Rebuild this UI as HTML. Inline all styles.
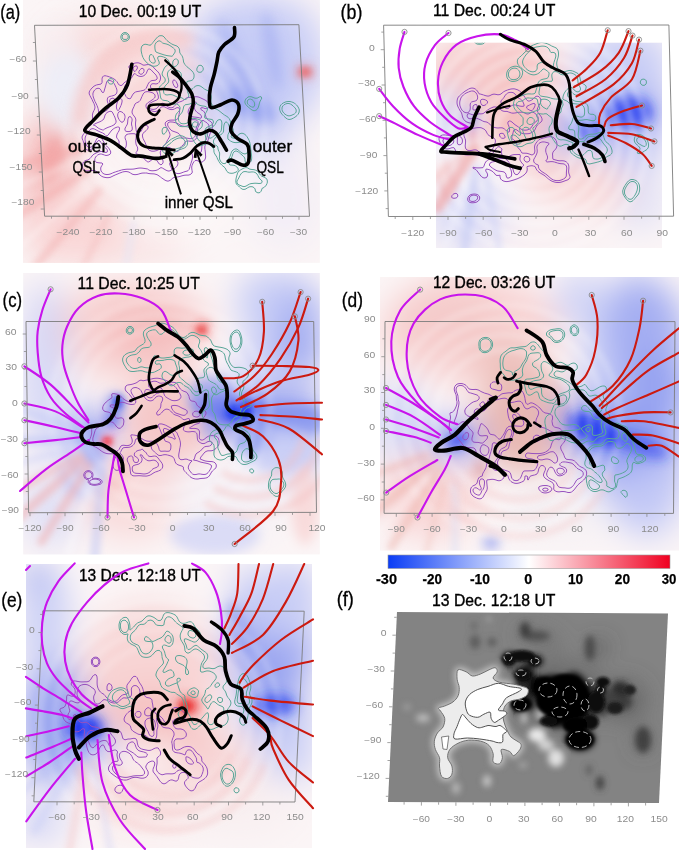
<!DOCTYPE html>
<html><head><meta charset="utf-8"><style>html,body{margin:0;padding:0;background:#fff;width:679px;height:850px;overflow:hidden}svg{display:block}</style></head>
<body><svg width="679" height="850" viewBox="0 0 679 850">
<defs>
<filter id="b6" x="-50%" y="-50%" width="200%" height="200%"><feGaussianBlur stdDeviation="6"/></filter>
<filter id="b10" x="-50%" y="-50%" width="200%" height="200%"><feGaussianBlur stdDeviation="10"/></filter>
<filter id="b16" x="-50%" y="-50%" width="200%" height="200%"><feGaussianBlur stdDeviation="16"/></filter>
<filter id="b3" x="-50%" y="-50%" width="200%" height="200%"><feGaussianBlur stdDeviation="3"/></filter>
<filter id="b15" x="-50%" y="-50%" width="200%" height="200%"><feGaussianBlur stdDeviation="1.5"/></filter>
<clipPath id="cA"><rect x="23" y="0" width="296.8" height="262.8"/></clipPath>
<clipPath id="cB"><rect x="436" y="42.7" width="226" height="205.3"/></clipPath>
<clipPath id="cC"><rect x="23.2" y="273" width="296.6" height="281.4"/></clipPath>
<clipPath id="cD"><rect x="380" y="277.1" width="299" height="273.4"/></clipPath>
<clipPath id="cE"><rect x="26" y="564" width="286" height="284"/></clipPath>
<clipPath id="cF"><path d="M397,612 L668,613.5 L659,803 L388,802Z"/></clipPath>
<linearGradient id="cb" x1="0" x2="1" y1="0" y2="0">
<stop offset="0" stop-color="#0a3cf5"/><stop offset="0.5" stop-color="#ffffff"/><stop offset="1" stop-color="#f00020"/>
</linearGradient>
</defs>
<rect x="23" y="0" width="296.8" height="262.8" fill="#fbf5f6"/>
<rect x="436" y="42.7" width="226" height="205.3" fill="#fbf5f6"/>
<rect x="23.2" y="273" width="296.6" height="281.4" fill="#fbf5f6"/>
<rect x="380" y="277.1" width="299" height="273.4" fill="#fbf5f6"/>
<rect x="26" y="564" width="286" height="284" fill="#fbf5f6"/>
<path d="M397,612 L668,613.5 L659,803 L388,802Z" fill="#838383"/>
<g clip-path="url(#cA)"><g filter="url(#b16)">
<ellipse cx="120.0" cy="60.0" rx="70.0" ry="45.0" fill="#f8d4d4" fill-opacity="0.80" transform="rotate(0.0 120.0 60.0)"/>
<ellipse cx="48.0" cy="160.0" rx="28.0" ry="55.0" fill="#f4b4b4" fill-opacity="0.90" transform="rotate(15.0 48.0 160.0)"/>
<ellipse cx="70.0" cy="225.0" rx="55.0" ry="40.0" fill="#f8d4d4" fill-opacity="0.90" transform="rotate(0.0 70.0 225.0)"/>
<ellipse cx="160.0" cy="115.0" rx="45.0" ry="45.0" fill="#f8d4d4" fill-opacity="0.60" transform="rotate(0.0 160.0 115.0)"/>
<ellipse cx="255.0" cy="65.0" rx="70.0" ry="70.0" fill="#c8cdf6" fill-opacity="1.00" transform="rotate(0.0 255.0 65.0)"/>
<ellipse cx="250.0" cy="130.0" rx="45.0" ry="30.0" fill="#c8cdf6" fill-opacity="0.70" transform="rotate(0.0 250.0 130.0)"/>
<ellipse cx="285.0" cy="40.0" rx="35.0" ry="40.0" fill="#c8cdf6" fill-opacity="0.80" transform="rotate(0.0 285.0 40.0)"/>
<ellipse cx="215.0" cy="35.0" rx="25.0" ry="30.0" fill="#c8cdf6" fill-opacity="0.70" transform="rotate(0.0 215.0 35.0)"/>
<ellipse cx="240.0" cy="90.0" rx="30.0" ry="25.0" fill="#a8b2f2" fill-opacity="0.60" transform="rotate(0.0 240.0 90.0)"/>
<ellipse cx="190.0" cy="205.0" rx="45.0" ry="35.0" fill="#fdf8f8" fill-opacity="0.80" transform="rotate(0.0 190.0 205.0)"/>
<ellipse cx="120.0" cy="250.0" rx="70.0" ry="15.0" fill="#f8d4d4" fill-opacity="0.60" transform="rotate(0.0 120.0 250.0)"/>
<ellipse cx="285.0" cy="200.0" rx="35.0" ry="50.0" fill="#eeeaf6" fill-opacity="0.60" transform="rotate(0.0 285.0 200.0)"/>
</g></g>
<g clip-path="url(#cA)"><g filter="url(#b6)">
<ellipse cx="250.0" cy="105.0" rx="28.0" ry="12.0" fill="#8c9af0" fill-opacity="0.80" transform="rotate(30.0 250.0 105.0)"/>
<ellipse cx="235.0" cy="60.0" rx="7.0" ry="45.0" fill="#8c9af0" fill-opacity="0.40" transform="rotate(-20.0 235.0 60.0)"/>
<ellipse cx="272.0" cy="50.0" rx="7.0" ry="40.0" fill="#8c9af0" fill-opacity="0.40" transform="rotate(-10.0 272.0 50.0)"/>
<ellipse cx="305.0" cy="72.0" rx="8.0" ry="6.0" fill="#ee7070" fill-opacity="0.90" transform="rotate(0.0 305.0 72.0)"/>
<ellipse cx="52.0" cy="158.0" rx="10.0" ry="25.0" fill="#f29a9a" fill-opacity="0.60" transform="rotate(15.0 52.0 158.0)"/>
</g></g>
<g clip-path="url(#cB)"><g filter="url(#b16)">
<ellipse cx="495.0" cy="75.0" rx="70.0" ry="40.0" fill="#f4b4b4" fill-opacity="0.70" transform="rotate(0.0 495.0 75.0)"/>
<ellipse cx="520.0" cy="55.0" rx="30.0" ry="15.0" fill="#f4b4b4" fill-opacity="0.50" transform="rotate(0.0 520.0 55.0)"/>
<ellipse cx="515.0" cy="125.0" rx="40.0" ry="28.0" fill="#f4b4b4" fill-opacity="0.80" transform="rotate(0.0 515.0 125.0)"/>
<ellipse cx="625.0" cy="100.0" rx="40.0" ry="65.0" fill="#8c9af0" fill-opacity="0.95" transform="rotate(0.0 625.0 100.0)"/>
<ellipse cx="600.0" cy="70.0" rx="30.0" ry="30.0" fill="#c8cdf6" fill-opacity="0.80" transform="rotate(0.0 600.0 70.0)"/>
<ellipse cx="630.0" cy="65.0" rx="40.0" ry="35.0" fill="#c8cdf6" fill-opacity="1.00" transform="rotate(0.0 630.0 65.0)"/>
<ellipse cx="630.0" cy="150.0" rx="35.0" ry="25.0" fill="#c8cdf6" fill-opacity="0.80" transform="rotate(0.0 630.0 150.0)"/>
<ellipse cx="640.0" cy="200.0" rx="25.0" ry="30.0" fill="#c8cdf6" fill-opacity="0.50" transform="rotate(0.0 640.0 200.0)"/>
<ellipse cx="570.0" cy="130.0" rx="22.0" ry="22.0" fill="#8c9af0" fill-opacity="0.80" transform="rotate(0.0 570.0 130.0)"/>
<ellipse cx="450.0" cy="120.0" rx="18.0" ry="30.0" fill="#c8cdf6" fill-opacity="0.90" transform="rotate(0.0 450.0 120.0)"/>
<ellipse cx="470.0" cy="215.0" rx="40.0" ry="35.0" fill="#c8cdf6" fill-opacity="0.70" transform="rotate(0.0 470.0 215.0)"/>
<ellipse cx="595.0" cy="185.0" rx="35.0" ry="28.0" fill="#f8d4d4" fill-opacity="0.90" transform="rotate(0.0 595.0 185.0)"/>
<ellipse cx="565.0" cy="180.0" rx="40.0" ry="22.0" fill="#f8d4d4" fill-opacity="0.90" transform="rotate(0.0 565.0 180.0)"/>
<ellipse cx="545.0" cy="170.0" rx="20.0" ry="12.0" fill="#f4b4b4" fill-opacity="0.50" transform="rotate(0.0 545.0 170.0)"/>
<ellipse cx="540.0" cy="235.0" rx="60.0" ry="20.0" fill="#f6eaee" fill-opacity="0.60" transform="rotate(0.0 540.0 235.0)"/>
</g></g>
<g clip-path="url(#cB)"><g filter="url(#b6)">
<ellipse cx="630.0" cy="112.0" rx="22.0" ry="16.0" fill="#2038f0" fill-opacity="0.80" transform="rotate(0.0 630.0 112.0)"/>
<ellipse cx="590.0" cy="132.0" rx="14.0" ry="10.0" fill="#2038f0" fill-opacity="0.60" transform="rotate(0.0 590.0 132.0)"/>
<ellipse cx="472.0" cy="120.0" rx="7.0" ry="10.0" fill="#8c9af0" fill-opacity="0.70" transform="rotate(0.0 472.0 120.0)"/>
<ellipse cx="472.0" cy="135.0" rx="5.0" ry="5.0" fill="#f07070" fill-opacity="0.80" transform="rotate(0.0 472.0 135.0)"/>
<ellipse cx="445.0" cy="180.0" rx="7.0" ry="20.0" fill="#f4b4b4" fill-opacity="0.60" transform="rotate(0.0 445.0 180.0)"/>
</g></g>
<g clip-path="url(#cC)"><g filter="url(#b16)">
<ellipse cx="130.0" cy="330.0" rx="80.0" ry="50.0" fill="#f8d4d4" fill-opacity="1.00" transform="rotate(0.0 130.0 330.0)"/>
<ellipse cx="150.0" cy="330.0" rx="50.0" ry="30.0" fill="#f4b4b4" fill-opacity="0.70" transform="rotate(0.0 150.0 330.0)"/>
<ellipse cx="170.0" cy="420.0" rx="50.0" ry="45.0" fill="#f4c4c4" fill-opacity="0.95" transform="rotate(0.0 170.0 420.0)"/>
<ellipse cx="45.0" cy="370.0" rx="25.0" ry="90.0" fill="#c8cdf6" fill-opacity="0.70" transform="rotate(0.0 45.0 370.0)"/>
<ellipse cx="90.0" cy="430.0" rx="25.0" ry="20.0" fill="#8c9af0" fill-opacity="0.90" transform="rotate(0.0 90.0 430.0)"/>
<ellipse cx="285.0" cy="320.0" rx="40.0" ry="50.0" fill="#c8cdf6" fill-opacity="1.00" transform="rotate(0.0 285.0 320.0)"/>
<ellipse cx="300.0" cy="360.0" rx="25.0" ry="25.0" fill="#8c9af0" fill-opacity="0.50" transform="rotate(0.0 300.0 360.0)"/>
<ellipse cx="265.0" cy="300.0" rx="30.0" ry="30.0" fill="#c8cdf6" fill-opacity="0.90" transform="rotate(0.0 265.0 300.0)"/>
<ellipse cx="300.0" cy="330.0" rx="20.0" ry="40.0" fill="#8c9af0" fill-opacity="0.60" transform="rotate(0.0 300.0 330.0)"/>
<ellipse cx="250.0" cy="370.0" rx="20.0" ry="20.0" fill="#c8cdf6" fill-opacity="0.80" transform="rotate(0.0 250.0 370.0)"/>
<ellipse cx="270.0" cy="412.0" rx="55.0" ry="25.0" fill="#8c9af0" fill-opacity="0.95" transform="rotate(0.0 270.0 412.0)"/>
<ellipse cx="295.0" cy="450.0" rx="30.0" ry="35.0" fill="#c8cdf6" fill-opacity="0.80" transform="rotate(0.0 295.0 450.0)"/>
<ellipse cx="130.0" cy="500.0" rx="50.0" ry="40.0" fill="#f8d4d4" fill-opacity="0.80" transform="rotate(0.0 130.0 500.0)"/>
<ellipse cx="230.0" cy="500.0" rx="60.0" ry="40.0" fill="#f2eef6" fill-opacity="0.60" transform="rotate(0.0 230.0 500.0)"/>
<ellipse cx="50.0" cy="510.0" rx="30.0" ry="40.0" fill="#c8cdf6" fill-opacity="0.50" transform="rotate(0.0 50.0 510.0)"/>
</g></g>
<g clip-path="url(#cC)"><g filter="url(#b6)">
<ellipse cx="240.0" cy="412.0" rx="28.0" ry="12.0" fill="#2038f0" fill-opacity="0.95" transform="rotate(-5.0 240.0 412.0)"/>
<ellipse cx="290.0" cy="412.0" rx="30.0" ry="8.0" fill="#2038f0" fill-opacity="0.60" transform="rotate(0.0 290.0 412.0)"/>
<ellipse cx="222.0" cy="408.0" rx="30.0" ry="13.0" fill="#2038f0" fill-opacity="0.70" transform="rotate(0.0 222.0 408.0)"/>
<ellipse cx="212.0" cy="398.0" rx="25.0" ry="22.0" fill="#8c9af0" fill-opacity="0.70" transform="rotate(0.0 212.0 398.0)"/>
<ellipse cx="285.0" cy="422.0" rx="40.0" ry="18.0" fill="#8c9af0" fill-opacity="0.90" transform="rotate(0.0 285.0 422.0)"/>
<ellipse cx="280.0" cy="450.0" rx="40.0" ry="22.0" fill="#c8cdf6" fill-opacity="0.80" transform="rotate(0.0 280.0 450.0)"/>
<ellipse cx="305.0" cy="505.0" rx="14.0" ry="40.0" fill="#f8d4d4" fill-opacity="0.80" transform="rotate(0.0 305.0 505.0)"/>
<ellipse cx="215.0" cy="535.0" rx="45.0" ry="20.0" fill="#c8cdf6" fill-opacity="0.60" transform="rotate(0.0 215.0 535.0)"/>
<ellipse cx="250.0" cy="440.0" rx="20.0" ry="15.0" fill="#8c9af0" fill-opacity="0.70" transform="rotate(0.0 250.0 440.0)"/>
<ellipse cx="80.0" cy="470.0" rx="22.0" ry="30.0" fill="#c8cdf6" fill-opacity="0.80" transform="rotate(0.0 80.0 470.0)"/>
<ellipse cx="95.0" cy="455.0" rx="12.0" ry="10.0" fill="#8c9af0" fill-opacity="0.60" transform="rotate(0.0 95.0 455.0)"/>
<ellipse cx="115.0" cy="405.0" rx="10.0" ry="12.0" fill="#8c9af0" fill-opacity="0.80" transform="rotate(0.0 115.0 405.0)"/>
<ellipse cx="112.0" cy="420.0" rx="8.0" ry="6.0" fill="#2038f0" fill-opacity="0.80" transform="rotate(0.0 112.0 420.0)"/>
<ellipse cx="88.0" cy="435.0" rx="12.0" ry="10.0" fill="#8c9af0" fill-opacity="0.80" transform="rotate(0.0 88.0 435.0)"/>
<ellipse cx="107.0" cy="441.6" rx="4.0" ry="4.0" fill="#ff1010" fill-opacity="1.00" transform="rotate(0.0 107.0 441.6)"/>
<ellipse cx="202.0" cy="329.0" rx="6.0" ry="5.0" fill="#f03030" fill-opacity="0.95" transform="rotate(0.0 202.0 329.0)"/>
<ellipse cx="202.0" cy="329.0" rx="3.0" ry="3.0" fill="#e01010" fill-opacity="1.00" transform="rotate(0.0 202.0 329.0)"/>
<ellipse cx="120.0" cy="470.0" rx="10.0" ry="30.0" fill="#f4b4b4" fill-opacity="0.50" transform="rotate(30.0 120.0 470.0)"/>
<ellipse cx="215.0" cy="430.0" rx="15.0" ry="10.0" fill="#8c9af0" fill-opacity="0.60" transform="rotate(0.0 215.0 430.0)"/>
</g></g>
<g clip-path="url(#cD)"><g filter="url(#b16)">
<ellipse cx="470.0" cy="330.0" rx="90.0" ry="55.0" fill="#f8d4d4" fill-opacity="1.00" transform="rotate(0.0 470.0 330.0)"/>
<ellipse cx="450.0" cy="320.0" rx="50.0" ry="35.0" fill="#f4c8c6" fill-opacity="0.70" transform="rotate(0.0 450.0 320.0)"/>
<ellipse cx="525.0" cy="420.0" rx="48.0" ry="55.0" fill="#e8b8b2" fill-opacity="1.00" transform="rotate(0.0 525.0 420.0)"/>
<ellipse cx="505.0" cy="360.0" rx="30.0" ry="20.0" fill="#ecc0ba" fill-opacity="0.90" transform="rotate(0.0 505.0 360.0)"/>
<ellipse cx="410.0" cy="485.0" rx="25.0" ry="40.0" fill="#f4b4b4" fill-opacity="0.50" transform="rotate(20.0 410.0 485.0)"/>
<ellipse cx="400.0" cy="420.0" rx="22.0" ry="40.0" fill="#c8cdf6" fill-opacity="0.90" transform="rotate(0.0 400.0 420.0)"/>
<ellipse cx="455.0" cy="440.0" rx="30.0" ry="20.0" fill="#8c9af0" fill-opacity="0.90" transform="rotate(0.0 455.0 440.0)"/>
<ellipse cx="635.0" cy="400.0" rx="55.0" ry="130.0" fill="#c8cdf6" fill-opacity="1.00" transform="rotate(0.0 635.0 400.0)"/>
<ellipse cx="645.0" cy="330.0" rx="40.0" ry="50.0" fill="#8c9af0" fill-opacity="0.60" transform="rotate(0.0 645.0 330.0)"/>
<ellipse cx="655.0" cy="390.0" rx="35.0" ry="35.0" fill="#8c9af0" fill-opacity="0.80" transform="rotate(0.0 655.0 390.0)"/>
<ellipse cx="645.0" cy="485.0" rx="40.0" ry="35.0" fill="#8c9af0" fill-opacity="0.60" transform="rotate(0.0 645.0 485.0)"/>
<ellipse cx="580.0" cy="300.0" rx="25.0" ry="30.0" fill="#c8cdf6" fill-opacity="0.80" transform="rotate(0.0 580.0 300.0)"/>
<ellipse cx="610.0" cy="435.0" rx="60.0" ry="30.0" fill="#8c9af0" fill-opacity="0.90" transform="rotate(20.0 610.0 435.0)"/>
<ellipse cx="620.0" cy="440.0" rx="55.0" ry="28.0" fill="#8c9af0" fill-opacity="0.95" transform="rotate(0.0 620.0 440.0)"/>
<ellipse cx="430.0" cy="500.0" rx="50.0" ry="40.0" fill="#f8d4d4" fill-opacity="0.90" transform="rotate(0.0 430.0 500.0)"/>
<ellipse cx="560.0" cy="510.0" rx="60.0" ry="30.0" fill="#f2eef4" fill-opacity="0.60" transform="rotate(0.0 560.0 510.0)"/>
<ellipse cx="650.0" cy="500.0" rx="30.0" ry="40.0" fill="#c8cdf6" fill-opacity="0.80" transform="rotate(0.0 650.0 500.0)"/>
</g></g>
<g clip-path="url(#cD)"><g filter="url(#b6)">
<ellipse cx="595.0" cy="430.0" rx="28.0" ry="14.0" fill="#2038f0" fill-opacity="0.90" transform="rotate(25.0 595.0 430.0)"/>
<ellipse cx="640.0" cy="445.0" rx="30.0" ry="10.0" fill="#2038f0" fill-opacity="0.50" transform="rotate(20.0 640.0 445.0)"/>
<ellipse cx="458.0" cy="440.0" rx="12.0" ry="7.0" fill="#2038f0" fill-opacity="0.80" transform="rotate(-30.0 458.0 440.0)"/>
<ellipse cx="491.0" cy="543.0" rx="8.0" ry="6.0" fill="#8c9af0" fill-opacity="0.90" transform="rotate(0.0 491.0 543.0)"/>
<ellipse cx="480.0" cy="470.0" rx="5.0" ry="10.0" fill="#d07070" fill-opacity="0.60" transform="rotate(0.0 480.0 470.0)"/>
</g></g>
<g clip-path="url(#cE)"><g filter="url(#b16)">
<ellipse cx="55.0" cy="720.0" rx="32.0" ry="65.0" fill="#8c9af0" fill-opacity="0.90" transform="rotate(0.0 55.0 720.0)"/>
<ellipse cx="45.0" cy="620.0" rx="25.0" ry="55.0" fill="#c8cdf6" fill-opacity="0.90" transform="rotate(0.0 45.0 620.0)"/>
<ellipse cx="90.0" cy="740.0" rx="22.0" ry="22.0" fill="#8c9af0" fill-opacity="0.90" transform="rotate(0.0 90.0 740.0)"/>
<ellipse cx="150.0" cy="675.0" rx="70.0" ry="70.0" fill="#f8d4d4" fill-opacity="1.00" transform="rotate(0.0 150.0 675.0)"/>
<ellipse cx="150.0" cy="715.0" rx="40.0" ry="28.0" fill="#f4b4b4" fill-opacity="0.60" transform="rotate(0.0 150.0 715.0)"/>
<ellipse cx="270.0" cy="640.0" rx="45.0" ry="60.0" fill="#8c9af0" fill-opacity="0.85" transform="rotate(0.0 270.0 640.0)"/>
<ellipse cx="275.0" cy="710.0" rx="35.0" ry="28.0" fill="#8c9af0" fill-opacity="0.90" transform="rotate(0.0 275.0 710.0)"/>
<ellipse cx="290.0" cy="600.0" rx="30.0" ry="40.0" fill="#c8cdf6" fill-opacity="1.00" transform="rotate(0.0 290.0 600.0)"/>
<ellipse cx="290.0" cy="760.0" rx="25.0" ry="25.0" fill="#c8cdf6" fill-opacity="0.70" transform="rotate(0.0 290.0 760.0)"/>
<ellipse cx="285.0" cy="740.0" rx="30.0" ry="40.0" fill="#c8cdf6" fill-opacity="0.80" transform="rotate(0.0 285.0 740.0)"/>
<ellipse cx="250.0" cy="600.0" rx="20.0" ry="35.0" fill="#c8cdf6" fill-opacity="0.80" transform="rotate(0.0 250.0 600.0)"/>
<ellipse cx="150.0" cy="800.0" rx="60.0" ry="30.0" fill="#f8d4d4" fill-opacity="0.70" transform="rotate(0.0 150.0 800.0)"/>
<ellipse cx="240.0" cy="800.0" rx="60.0" ry="40.0" fill="#f6ecee" fill-opacity="0.60" transform="rotate(0.0 240.0 800.0)"/>
<ellipse cx="215.0" cy="760.0" rx="40.0" ry="35.0" fill="#f8d4d4" fill-opacity="0.80" transform="rotate(0.0 215.0 760.0)"/>
<ellipse cx="195.0" cy="740.0" rx="25.0" ry="20.0" fill="#f4b4b4" fill-opacity="0.50" transform="rotate(0.0 195.0 740.0)"/>
<ellipse cx="40.0" cy="820.0" rx="25.0" ry="25.0" fill="#c8cdf6" fill-opacity="0.70" transform="rotate(0.0 40.0 820.0)"/>
<ellipse cx="35.0" cy="575.0" rx="15.0" ry="15.0" fill="#8c9af0" fill-opacity="0.70" transform="rotate(0.0 35.0 575.0)"/>
</g></g>
<g clip-path="url(#cE)"><g filter="url(#b6)">
<ellipse cx="85.0" cy="728.0" rx="18.0" ry="13.0" fill="#2038f0" fill-opacity="0.90" transform="rotate(0.0 85.0 728.0)"/>
<ellipse cx="275.0" cy="705.0" rx="20.0" ry="11.0" fill="#2038f0" fill-opacity="0.70" transform="rotate(0.0 275.0 705.0)"/>
<ellipse cx="188.0" cy="706.0" rx="11.0" ry="8.0" fill="#f03030" fill-opacity="0.90" transform="rotate(0.0 188.0 706.0)"/>
<ellipse cx="240.0" cy="630.0" rx="10.0" ry="30.0" fill="#8c9af0" fill-opacity="0.60" transform="rotate(-20.0 240.0 630.0)"/>
</g></g>
<g clip-path="url(#cC)"><g filter="url(#b3)">
<ellipse cx="202.0" cy="329.0" rx="5.0" ry="4.0" fill="#e83030" fill-opacity="0.90" transform="rotate(0.0 202.0 329.0)"/>
<ellipse cx="107.0" cy="441.6" rx="4.0" ry="3.5" fill="#ff1010" fill-opacity="1.00" transform="rotate(0.0 107.0 441.6)"/>
<ellipse cx="240.0" cy="412.0" rx="14.0" ry="6.0" fill="#1030f0" fill-opacity="0.80" transform="rotate(0.0 240.0 412.0)"/>
<ellipse cx="118.0" cy="402.0" rx="5.0" ry="7.0" fill="#2040f0" fill-opacity="0.80" transform="rotate(0.0 118.0 402.0)"/>
</g></g>
<g clip-path="url(#cE)"><g filter="url(#b3)">
<ellipse cx="186.0" cy="706.0" rx="6.0" ry="5.0" fill="#e82828" fill-opacity="0.90" transform="rotate(0.0 186.0 706.0)"/>
<ellipse cx="82.0" cy="728.0" rx="10.0" ry="7.0" fill="#1830f0" fill-opacity="0.80" transform="rotate(0.0 82.0 728.0)"/>
</g></g>
<g clip-path="url(#cA)"><g filter="url(#b3)">
<ellipse cx="305.0" cy="72.0" rx="6.0" ry="4.0" fill="#ec6060" fill-opacity="0.80" transform="rotate(0.0 305.0 72.0)"/>
</g></g>
<g clip-path="url(#cB)"><g filter="url(#b3)" fill="none" stroke="#ffffff" stroke-width="4.5" stroke-opacity="0.45">
<circle cx="535.0" cy="140.0" r="42.0"/>
<circle cx="535.0" cy="140.0" r="56.0"/>
<circle cx="535.0" cy="140.0" r="70.0"/>
<circle cx="535.0" cy="140.0" r="84.0"/>
<circle cx="535.0" cy="140.0" r="98.0"/>
<circle cx="535.0" cy="140.0" r="112.0"/>
</g></g>
<g clip-path="url(#cA)"><g filter="url(#b3)" fill="none" stroke="#ffffff" stroke-width="4.0" stroke-opacity="0.35">
<circle cx="165.0" cy="125.0" r="55.0"/>
<circle cx="165.0" cy="125.0" r="70.0"/>
<circle cx="165.0" cy="125.0" r="85.0"/>
<circle cx="165.0" cy="125.0" r="100.0"/>
</g></g>
<g clip-path="url(#cD)"><g filter="url(#b3)" fill="none" stroke="#ffffff" stroke-width="4.0" stroke-opacity="0.35">
<circle cx="505.0" cy="420.0" r="70.0"/>
<circle cx="505.0" cy="420.0" r="85.0"/>
<circle cx="505.0" cy="420.0" r="100.0"/>
<circle cx="505.0" cy="420.0" r="115.0"/>
</g></g>
<g clip-path="url(#cE)"><g filter="url(#b3)" fill="none" stroke="#ffffff" stroke-width="4.0" stroke-opacity="0.30">
<circle cx="160.0" cy="720.0" r="75.0"/>
<circle cx="160.0" cy="720.0" r="90.0"/>
<circle cx="160.0" cy="720.0" r="105.0"/>
<circle cx="160.0" cy="720.0" r="120.0"/>
</g></g>
<g clip-path="url(#cC)"><g filter="url(#b3)" fill="none" stroke="#ffffff" stroke-width="4.0" stroke-opacity="0.30">
<circle cx="160.0" cy="410.0" r="80.0"/>
<circle cx="160.0" cy="410.0" r="95.0"/>
<circle cx="160.0" cy="410.0" r="110.0"/>
</g></g>
<g clip-path="url(#cA)"><g filter="url(#b10)">
<ellipse cx="68.0" cy="90.0" rx="30.0" ry="42.0" fill="#eceef8" fill-opacity="0.90" transform="rotate(0.0 68.0 90.0)"/>
<ellipse cx="55.0" cy="40.0" rx="25.0" ry="20.0" fill="#f6eef2" fill-opacity="0.60" transform="rotate(0.0 55.0 40.0)"/>
</g></g>
<g clip-path="url(#cA)"><g filter="url(#b6)"><path d="M80,125 A85,85 0 0 1 192,42" fill="none" stroke="#f6c8c8" stroke-width="16" stroke-opacity="0.8"/><path d="M100,120 A62,62 0 0 1 200,70" fill="none" stroke="#f8d6d6" stroke-width="10" stroke-opacity="0.7"/></g></g>
<g clip-path="url(#cA)"><g filter="url(#b3)">
<line x1="82.4" y1="148.1" x2="-14.2" y2="174.0" stroke="#f2a8a8" stroke-opacity="0.55" stroke-width="9.0" stroke-linecap="round"/>
<line x1="87.1" y1="170.8" x2="-1.0" y2="228.0" stroke="#f2a8a8" stroke-opacity="0.50" stroke-width="8.0" stroke-linecap="round"/>
<line x1="98.6" y1="191.3" x2="34.3" y2="267.9" stroke="#f4b0b0" stroke-opacity="0.50" stroke-width="8.0" stroke-linecap="round"/>
<line x1="108.4" y1="215.4" x2="75.5" y2="282.8" stroke="#f4b8b8" stroke-opacity="0.45" stroke-width="6.0" stroke-linecap="round"/>
<line x1="133.5" y1="223.6" x2="120.5" y2="297.4" stroke="#e4e6f8" stroke-opacity="0.50" stroke-width="7.0" stroke-linecap="round"/>
<line x1="67.2" y1="165.2" x2="-6.5" y2="196.4" stroke="#ffffff" stroke-opacity="0.40" stroke-width="5.0" stroke-linecap="round"/>
<line x1="83.1" y1="190.2" x2="16.2" y2="250.4" stroke="#ffffff" stroke-opacity="0.35" stroke-width="5.0" stroke-linecap="round"/>
</g></g>
<g clip-path="url(#cC)"><g filter="url(#b3)">
<line x1="79.0" y1="455.0" x2="9.7" y2="495.0" stroke="#f4b0b0" stroke-opacity="0.50" stroke-width="8.0" stroke-linecap="round"/>
<line x1="82.7" y1="460.1" x2="15.8" y2="520.3" stroke="#f2a8a8" stroke-opacity="0.50" stroke-width="9.0" stroke-linecap="round"/>
<line x1="89.1" y1="465.4" x2="41.4" y2="541.8" stroke="#f2a8a8" stroke-opacity="0.50" stroke-width="8.0" stroke-linecap="round"/>
<line x1="102.4" y1="469.9" x2="94.5" y2="559.5" stroke="#b8c0f4" stroke-opacity="0.45" stroke-width="10.0" stroke-linecap="round"/>
<line x1="92.6" y1="478.0" x2="67.9" y2="554.1" stroke="#ffffff" stroke-opacity="0.40" stroke-width="5.0" stroke-linecap="round"/>
<line x1="76.0" y1="447.8" x2="8.4" y2="465.9" stroke="#c8cef6" stroke-opacity="0.40" stroke-width="6.0" stroke-linecap="round"/>
<line x1="85.0" y1="440.0" x2="15.0" y2="440.0" stroke="#b4bcf4" stroke-opacity="0.45" stroke-width="8.0" stroke-linecap="round"/>
<line x1="86.2" y1="433.2" x2="20.4" y2="409.2" stroke="#c0c8f6" stroke-opacity="0.45" stroke-width="8.0" stroke-linecap="round"/>
</g></g>
<g clip-path="url(#cD)"><g filter="url(#b3)">
<line x1="426.8" y1="455.3" x2="370.4" y2="475.8" stroke="#eeb0a8" stroke-opacity="0.45" stroke-width="7.0" stroke-linecap="round"/>
<line x1="432.0" y1="464.3" x2="363.1" y2="522.1" stroke="#eeb0a8" stroke-opacity="0.50" stroke-width="9.0" stroke-linecap="round"/>
<line x1="439.1" y1="470.4" x2="391.4" y2="546.8" stroke="#eeb4ac" stroke-opacity="0.50" stroke-width="8.0" stroke-linecap="round"/>
<line x1="445.9" y1="478.8" x2="426.5" y2="551.3" stroke="#f0c0b8" stroke-opacity="0.40" stroke-width="6.0" stroke-linecap="round"/>
<line x1="455.0" y1="485.0" x2="455.0" y2="555.0" stroke="#d8dcf6" stroke-opacity="0.40" stroke-width="8.0" stroke-linecap="round"/>
<line x1="428.8" y1="475.2" x2="376.3" y2="535.6" stroke="#ffffff" stroke-opacity="0.40" stroke-width="4.0" stroke-linecap="round"/>
</g></g>
<g clip-path="url(#cE)"><g filter="url(#b3)">
<line x1="84.8" y1="764.5" x2="69.2" y2="853.2" stroke="#f4c0c0" stroke-opacity="0.40" stroke-width="8.0" stroke-linecap="round"/>
<line x1="95.2" y1="764.5" x2="110.8" y2="853.2" stroke="#c8cef6" stroke-opacity="0.40" stroke-width="6.0" stroke-linecap="round"/>
<line x1="75.0" y1="761.0" x2="35.0" y2="830.3" stroke="#c8cef6" stroke-opacity="0.45" stroke-width="8.0" stroke-linecap="round"/>
<line x1="67.0" y1="754.3" x2="13.4" y2="799.3" stroke="#b8c0f4" stroke-opacity="0.40" stroke-width="7.0" stroke-linecap="round"/>
</g></g>
<g clip-path="url(#cB)"><g filter="url(#b3)">
<line x1="474.7" y1="148.5" x2="437.6" y2="207.8" stroke="#f09c9c" stroke-opacity="0.60" stroke-width="11.0" stroke-linecap="round"/>
<line x1="468.5" y1="149.6" x2="426.4" y2="185.0" stroke="#f4b8b8" stroke-opacity="0.45" stroke-width="6.0" stroke-linecap="round"/>
<line x1="475.8" y1="169.7" x2="464.7" y2="248.9" stroke="#c0c8f4" stroke-opacity="0.50" stroke-width="9.0" stroke-linecap="round"/>
<line x1="486.1" y1="174.5" x2="499.1" y2="248.3" stroke="#c8cef6" stroke-opacity="0.45" stroke-width="6.0" stroke-linecap="round"/>
<line x1="467.6" y1="178.0" x2="446.0" y2="244.6" stroke="#ffffff" stroke-opacity="0.40" stroke-width="5.0" stroke-linecap="round"/>
</g></g>
<g clip-path="url(#cC)"><g filter="url(#b3)" fill="none" stroke="#f4c0c0" stroke-width="7.0" stroke-opacity="0.45">
<path d="M304.2,434.6 A55.0,55.0 0 0 1 222.5,472.6"/>
<path d="M320.9,437.5 A72.0,72.0 0 0 1 214.0,487.4"/>
<path d="M338.6,440.6 A90.0,90.0 0 0 1 205.0,502.9"/>
</g></g>
<g clip-path="url(#cD)"><g filter="url(#b3)" fill="none" stroke="#f4c0c0" stroke-width="7.0" stroke-opacity="0.35">
<path d="M576.4,460.5 A60.0,60.0 0 0 1 468.0,470.0"/>
<path d="M593.3,466.7 A78.0,78.0 0 0 1 452.5,479.0"/>
<path d="M610.2,472.8 A96.0,96.0 0 0 1 436.9,488.0"/>
</g></g>
<g clip-path="url(#cE)"><g filter="url(#b3)" fill="none" stroke="#f4c0c0" stroke-width="7.0" stroke-opacity="0.35">
<path d="M231.1,752.2 A65.0,65.0 0 0 1 108.9,752.2"/>
<path d="M247.1,758.0 A82.0,82.0 0 0 1 92.9,758.0"/>
<path d="M264.0,764.2 A100.0,100.0 0 0 1 76.0,764.2"/>
</g></g>
<path d="M34.5,25.3 L298.9,24.7 L309.5,216.3 L44.6,216.2Z" fill="none" stroke="#7c7c7c" stroke-width="0.9"/>
<path d="M383.6,25.2 L668.9,25.0 L673.6,216.2 L388.4,216.5Z" fill="none" stroke="#7c7c7c" stroke-width="0.9"/>
<path d="M26.0,321.5 L313.7,321.5 L316.5,512.4 L28.6,512.7Z" fill="none" stroke="#7c7c7c" stroke-width="0.9"/>
<path d="M385.0,321.5 L675.0,321.6 L673.5,513.4 L384.1,513.3Z" fill="none" stroke="#7c7c7c" stroke-width="0.9"/>
<path d="M42.8,610.8 L304.2,611.2 L295.0,802.0 L33.8,801.8Z" fill="none" stroke="#7c7c7c" stroke-width="0.9"/>
<rect x="388" y="555" width="282" height="13.5" fill="url(#cb)" stroke="#999" stroke-width="0.6"/>
<text x="78.7" y="16.5" font-family="'Liberation Sans', sans-serif" font-size="15.6" fill="#000" font-weight="normal" text-anchor="start" textLength="122.6" lengthAdjust="spacingAndGlyphs" stroke="#000" stroke-width="0.35">10 Dec. 00:19 UT</text>
<text x="432.9" y="16.4" font-family="'Liberation Sans', sans-serif" font-size="15.6" fill="#000" font-weight="normal" text-anchor="start" textLength="122.5" lengthAdjust="spacingAndGlyphs" stroke="#000" stroke-width="0.35">11 Dec. 00:24 UT</text>
<text x="77.6" y="289.3" font-family="'Liberation Sans', sans-serif" font-size="15.6" fill="#000" font-weight="normal" text-anchor="start" textLength="122.2" lengthAdjust="spacingAndGlyphs" stroke="#000" stroke-width="0.35">11 Dec. 10:25 UT</text>
<text x="432.9" y="288.4" font-family="'Liberation Sans', sans-serif" font-size="15.6" fill="#000" font-weight="normal" text-anchor="start" textLength="122.5" lengthAdjust="spacingAndGlyphs" stroke="#000" stroke-width="0.35">12 Dec. 03:26 UT</text>
<text x="78.9" y="580.8" font-family="'Liberation Sans', sans-serif" font-size="15.6" fill="#000" font-weight="normal" text-anchor="start" textLength="122.1" lengthAdjust="spacingAndGlyphs" stroke="#000" stroke-width="0.35">13 Dec. 12:18 UT</text>
<text x="432.0" y="605.8" font-family="'Liberation Sans', sans-serif" font-size="15.6" fill="#000" font-weight="normal" text-anchor="start" textLength="123.4" lengthAdjust="spacingAndGlyphs" stroke="#000" stroke-width="0.35">13 Dec. 12:18 UT</text>
<text x="0.3" y="19.4" font-family="'Liberation Sans', sans-serif" font-size="19.3" fill="#000" font-weight="normal" text-anchor="start" textLength="20.0" lengthAdjust="spacingAndGlyphs" stroke="#000" stroke-width="0.30">(a)</text>
<text x="340.6" y="19.4" font-family="'Liberation Sans', sans-serif" font-size="19.3" fill="#000" font-weight="normal" text-anchor="start" textLength="21.8" lengthAdjust="spacingAndGlyphs" stroke="#000" stroke-width="0.30">(b)</text>
<text x="2.6" y="307.0" font-family="'Liberation Sans', sans-serif" font-size="19.3" fill="#000" font-weight="normal" text-anchor="start" textLength="19.5" lengthAdjust="spacingAndGlyphs" stroke="#000" stroke-width="0.30">(c)</text>
<text x="341.8" y="306.5" font-family="'Liberation Sans', sans-serif" font-size="19.3" fill="#000" font-weight="normal" text-anchor="start" textLength="21.2" lengthAdjust="spacingAndGlyphs" stroke="#000" stroke-width="0.30">(d)</text>
<text x="1.2" y="607.0" font-family="'Liberation Sans', sans-serif" font-size="19.3" fill="#000" font-weight="normal" text-anchor="start" textLength="21.2" lengthAdjust="spacingAndGlyphs" stroke="#000" stroke-width="0.30">(e)</text>
<text x="336.8" y="606.0" font-family="'Liberation Sans', sans-serif" font-size="19.3" fill="#000" font-weight="normal" text-anchor="start" textLength="17.1" lengthAdjust="spacingAndGlyphs" stroke="#000" stroke-width="0.30">(f)</text>
<text x="376.0" y="583.8" font-family="'Liberation Sans', sans-serif" font-size="15.0" fill="#000" font-weight="bold" text-anchor="start" textLength="21.0" lengthAdjust="spacingAndGlyphs" stroke="#000" stroke-width="0.25">-30</text>
<text x="422.5" y="583.8" font-family="'Liberation Sans', sans-serif" font-size="15.0" fill="#000" font-weight="bold" text-anchor="start" textLength="19.5" lengthAdjust="spacingAndGlyphs" stroke="#000" stroke-width="0.25">-20</text>
<text x="470.0" y="583.8" font-family="'Liberation Sans', sans-serif" font-size="15.0" fill="#000" font-weight="bold" text-anchor="start" textLength="20.0" lengthAdjust="spacingAndGlyphs" stroke="#000" stroke-width="0.25">-10</text>
<text x="524.2" y="583.8" font-family="'Liberation Sans', sans-serif" font-size="15.0" fill="#000" font-weight="bold" text-anchor="start" textLength="8.0" lengthAdjust="spacingAndGlyphs" stroke="#000" stroke-width="0.25">0</text>
<text x="568.0" y="583.8" font-family="'Liberation Sans', sans-serif" font-size="15.0" fill="#000" font-weight="bold" text-anchor="start" textLength="15.2" lengthAdjust="spacingAndGlyphs" stroke="#000" stroke-width="0.25">10</text>
<text x="614.8" y="583.8" font-family="'Liberation Sans', sans-serif" font-size="15.0" fill="#000" font-weight="bold" text-anchor="start" textLength="15.2" lengthAdjust="spacingAndGlyphs" stroke="#000" stroke-width="0.25">20</text>
<text x="661.7" y="583.8" font-family="'Liberation Sans', sans-serif" font-size="15.0" fill="#000" font-weight="bold" text-anchor="start" textLength="14.7" lengthAdjust="spacingAndGlyphs" stroke="#000" stroke-width="0.25">30</text>
<g clip-path="url(#cA)" fill="none" stroke="#9650be" stroke-width="1">
<path d="M168.0,181.1 L167.0,181.0 L165.0,180.2 L164.0,179.5 L163.0,178.8 L161.8,178.0 L160.5,177.0 L159.1,176.0 L158.0,175.2 L157.0,174.7 L155.0,174.1 L154.0,173.9 L152.0,173.8 L150.0,173.7 L148.0,173.4 L147.0,173.0 L145.7,173.0 L144.0,173.0 L142.0,173.1 L140.0,173.6 L138.9,174.0 L137.0,174.5 L135.0,174.7 L133.0,174.4 L132.0,174.0 L130.5,173.0 L129.0,172.1 L128.0,171.8 L126.0,171.5 L124.0,171.7 L122.6,172.0 L121.0,172.6 L119.9,173.0 L118.0,173.8 L117.0,174.2 L115.1,175.0 L114.0,175.5 L113.0,176.0 L111.0,177.0 L110.0,177.4 L108.0,177.7 L106.0,177.6 L104.0,177.2 L103.0,176.9 L101.2,176.0 L100.0,175.0 L99.0,174.0 L98.1,173.0 L97.2,172.0 L96.0,171.2 L95.0,170.7 L93.0,170.4 L91.0,170.5 L89.0,170.8 L87.0,171.0 L85.0,170.5 L84.0,169.9 L83.0,168.7 L82.4,167.0 L82.5,165.0 L83.0,163.0 L83.6,162.0 L84.7,161.0 L86.0,160.4 L87.4,160.0 L89.0,159.3 L90.0,158.5 L91.0,157.3 L92.0,156.0 L92.9,155.0 L94.0,154.1 L95.0,153.6 L96.2,153.0 L98.0,152.2 L99.0,151.8 L101.0,151.4 L103.0,151.8 L104.0,152.1 L106.0,152.5 L107.3,152.0 L107.4,150.0 L106.7,149.0 L105.7,148.0 L104.5,147.0 L103.5,146.0 L102.8,145.0 L102.0,144.0 L101.0,142.6 L100.0,141.0 L99.0,140.4 L97.8,141.0 L97.0,142.0 L96.0,143.7 L95.3,145.0 L94.6,146.0 L93.9,147.0 L93.0,148.0 L91.8,149.0 L90.0,149.9 L89.0,150.1 L87.1,150.0 L86.0,149.4 L85.2,148.0 L84.7,147.0 L84.2,145.0 L84.0,143.9 L83.5,142.0 L83.0,140.6 L82.3,139.0 L82.0,137.0 L82.9,135.0 L83.6,134.0 L84.5,133.0 L85.2,132.0 L86.0,130.4 L86.6,129.0 L87.0,128.0 L88.0,126.5 L89.0,125.6 L90.5,125.0 L91.3,124.0 L90.9,123.0 L91.1,122.0 L92.0,120.3 L92.6,119.0 L92.5,117.0 L92.4,115.0 L92.8,113.0 L93.2,112.0 L94.0,110.4 L94.7,109.0 L95.0,107.0 L94.5,105.0 L94.0,103.7 L93.2,102.0 L92.7,101.0 L92.0,99.4 L91.2,98.0 L90.7,97.0 L90.0,95.7 L89.2,94.0 L89.2,92.0 L90.0,90.4 L91.0,89.1 L92.0,88.0 L93.0,87.0 L94.0,86.2 L95.0,85.6 L96.4,85.0 L98.0,84.6 L100.0,84.3 L101.0,84.0 L102.0,82.8 L102.1,81.0 L102.0,79.2 L102.0,78.9 L102.5,77.0 L103.5,76.0 L105.0,75.7 L106.5,76.0 L108.0,76.4 L109.7,77.0 L111.0,77.5 L112.2,78.0 L114.0,79.0 L115.0,79.7 L116.0,80.6 L117.0,81.7 L117.8,83.0 L118.4,84.0 L119.2,85.0 L121.0,85.6 L122.4,85.0 L123.0,84.0 L124.0,82.9 L125.2,82.0 L126.6,81.0 L127.8,80.0 L128.8,79.0 L129.5,78.0 L130.1,77.0 L131.0,75.0 L131.2,74.0 L131.2,72.0 L130.9,71.0 L130.0,69.2 L129.2,68.0 L128.8,67.0 L129.2,66.0 L130.5,65.0 L132.0,64.2 L133.0,63.7 L135.0,63.1 L136.0,62.9 L138.0,62.8 L139.0,63.0 L141.0,63.8 L142.0,64.4 L143.0,65.1 L145.0,65.1 L146.0,64.8 L148.0,64.5 L150.0,64.8 L151.0,65.3 L152.0,66.0 L153.2,67.0 L154.1,68.0 L155.0,69.0 L156.0,70.0 L157.1,71.0 L158.1,72.0 L159.0,73.2 L160.0,75.0 L160.3,76.0 L160.6,78.0 L160.2,80.0 L159.8,81.0 L159.0,82.4 L158.0,83.4 L156.0,84.0 L154.0,83.7 L152.0,83.8 L151.0,84.6 L150.4,86.0 L150.8,88.0 L152.0,88.8 L153.1,89.0 L155.0,89.4 L156.0,90.2 L157.0,92.0 L157.4,93.0 L158.0,94.9 L158.3,96.0 L158.4,98.0 L158.0,99.0 L156.7,100.0 L155.0,100.7 L154.0,101.1 L152.1,102.0 L151.0,102.7 L150.0,103.3 L149.0,104.2 L148.2,106.0 L149.0,108.0 L150.0,108.7 L151.0,109.1 L153.0,109.4 L155.0,109.2 L156.0,108.8 L157.1,108.0 L158.0,107.0 L159.0,105.7 L160.0,104.5 L161.0,103.6 L163.0,103.2 L164.4,104.0 L165.6,105.0 L166.7,106.0 L168.0,106.9 L169.0,107.4 L171.0,107.9 L173.0,107.4 L174.0,106.6 L175.0,105.5 L176.0,104.3 L177.0,103.3 L178.0,102.6 L179.3,102.0 L181.0,101.5 L182.2,101.0 L183.9,100.0 L185.0,99.2 L186.0,98.4 L187.0,97.7 L189.0,97.3 L191.0,97.4 L193.0,97.2 L194.0,96.9 L196.0,96.7 L198.0,96.9 L199.0,97.2 L200.9,98.0 L202.0,98.6 L203.0,99.0 L205.0,100.0 L206.0,100.6 L207.0,101.4 L208.0,102.6 L208.7,104.0 L209.0,105.3 L209.0,106.4 L208.2,108.0 L207.0,108.6 L205.0,108.6 L203.7,108.0 L202.0,107.6 L200.7,108.0 L201.0,109.6 L202.0,110.2 L203.4,111.0 L204.3,112.0 L205.0,113.5 L205.4,115.0 L206.0,117.0 L206.4,118.0 L207.0,119.0 L208.2,120.0 L209.8,121.0 L211.0,121.8 L212.0,123.0 L212.4,124.0 L212.6,126.0 L212.4,128.0 L212.0,129.2 L211.3,131.0 L210.8,132.0 L210.0,133.8 L209.6,135.0 L209.0,136.9 L208.7,138.0 L208.1,140.0 L207.7,141.0 L207.0,142.3 L206.0,143.8 L205.3,145.0 L204.9,146.0 L204.8,148.0 L205.0,149.7 L205.2,151.0 L205.4,153.0 L205.5,155.0 L205.7,157.0 L205.2,159.0 L204.6,160.0 L203.7,161.0 L202.1,162.0 L201.0,162.2 L199.9,162.0 L198.0,161.0 L197.0,160.4 L195.0,160.6 L194.0,161.6 L193.1,163.0 L192.6,164.0 L192.0,165.6 L191.7,167.0 L191.8,169.0 L192.0,170.2 L192.3,172.0 L192.0,173.0 L191.0,174.1 L189.0,175.0 L188.0,175.1 L186.0,175.1 L184.0,175.3 L182.0,175.8 L181.0,176.1 L179.0,176.7 L177.2,177.0 L176.0,177.2 L174.0,177.5 L172.9,178.0 L171.8,179.0 L170.7,180.0 L169.0,180.9 L168.0,181.1Z"/>
<path d="M142.1,74.0 L143.3,73.0 L144.0,71.5 L144.0,70.0 L143.7,69.0 L142.0,68.2 L140.9,69.0 L139.8,70.0 L139.0,71.2 L138.8,73.0 L139.8,74.0 L141.0,74.3 L142.1,74.0Z"/>
<path d="M177.0,87.6 L175.0,87.1 L174.2,86.0 L173.7,85.0 L173.0,83.4 L172.7,82.0 L173.0,80.4 L174.0,79.9 L175.0,80.3 L176.0,81.4 L176.9,83.0 L177.3,84.0 L177.9,86.0 L177.0,87.6Z"/>
<path d="M113.1,104.0 L114.0,103.0 L114.8,101.0 L114.7,99.0 L113.0,98.1 L111.0,98.6 L110.0,99.4 L109.5,101.0 L110.0,102.7 L111.0,103.9 L112.0,104.4 L113.1,104.0Z"/>
<path d="M103.3,130.0 L104.7,129.0 L106.0,128.3 L107.0,127.8 L109.0,127.0 L110.0,126.7 L111.7,126.0 L113.0,125.4 L114.0,124.8 L115.0,124.0 L116.0,122.3 L116.1,121.0 L115.8,120.0 L115.1,118.0 L114.8,117.0 L114.0,115.5 L113.3,114.0 L112.8,113.0 L112.0,111.7 L110.0,111.2 L108.0,112.0 L107.0,112.6 L106.0,113.5 L105.1,115.0 L104.8,116.0 L104.2,118.0 L103.7,119.0 L102.9,120.0 L101.3,121.0 L100.0,121.7 L99.0,122.1 L97.0,122.9 L96.0,123.4 L94.7,124.0 L93.3,125.0 L95.0,125.5 L96.0,126.3 L97.0,127.1 L98.1,128.0 L99.9,129.0 L101.0,129.4 L102.8,130.0 L103.3,130.0Z"/>
<path d="M131.2,131.0 L132.1,130.0 L132.3,128.0 L132.0,126.4 L131.6,125.0 L131.5,123.0 L132.0,121.0 L132.1,120.0 L132.0,118.8 L131.0,117.1 L130.0,116.5 L128.7,117.0 L128.0,118.9 L127.8,120.0 L127.7,122.0 L127.4,124.0 L126.9,125.0 L126.0,126.5 L125.2,128.0 L124.9,129.0 L125.0,130.5 L126.0,131.3 L128.0,131.6 L130.0,131.4 L131.2,131.0Z"/>
<path d="M193.3,138.0 L194.5,137.0 L195.2,136.0 L195.8,134.0 L195.8,132.0 L195.9,130.0 L196.1,129.0 L196.6,127.0 L197.0,126.0 L197.8,124.0 L198.1,123.0 L198.0,121.6 L197.0,120.3 L196.0,119.9 L194.0,119.7 L192.0,119.7 L190.4,120.0 L189.5,121.0 L189.2,123.0 L188.8,124.0 L188.0,125.1 L186.7,126.0 L185.0,126.4 L183.0,126.1 L182.0,126.0 L180.0,125.0 L179.0,124.3 L178.0,123.7 L176.4,123.0 L175.0,122.6 L173.0,122.1 L172.0,122.0 L170.0,121.9 L169.0,122.2 L167.8,123.0 L167.6,125.0 L168.0,126.1 L169.0,127.7 L170.0,129.0 L170.9,130.0 L172.0,130.8 L173.0,131.2 L175.0,131.9 L176.0,132.2 L177.9,133.0 L179.0,133.8 L180.0,134.9 L180.7,136.0 L181.3,137.0 L182.0,138.0 L184.0,138.1 L185.0,137.9 L186.2,138.0 L188.0,138.3 L190.0,138.7 L192.0,138.6 L193.3,138.0Z"/>
<path d="M135.0,71.6 L133.9,71.0 L133.1,69.0 L133.6,67.0 L135.0,66.1 L136.0,65.9 L137.0,66.1 L137.5,68.0 L137.0,69.0 L136.0,70.4 L135.0,71.6Z"/>
<path d="M130.0,98.8 L128.0,98.4 L127.0,97.7 L126.0,96.5 L125.3,95.0 L124.8,94.0 L124.0,92.5 L123.6,91.0 L124.0,89.8 L124.6,88.0 L124.9,86.0 L125.4,85.0 L126.2,84.0 L127.3,83.0 L128.4,82.0 L129.3,81.0 L130.1,80.0 L131.0,78.6 L132.0,77.0 L132.6,76.0 L133.2,75.0 L134.0,73.6 L135.5,74.0 L136.7,75.0 L138.0,75.8 L139.0,76.2 L141.0,76.5 L143.0,76.1 L144.0,75.6 L145.0,74.8 L146.0,73.8 L146.9,72.0 L147.2,71.0 L148.0,69.4 L149.0,68.9 L150.0,69.1 L151.2,70.0 L152.1,71.0 L153.0,72.0 L154.0,73.0 L155.0,74.0 L156.0,75.1 L157.0,77.0 L157.2,78.0 L157.0,79.0 L156.0,80.0 L154.0,80.4 L152.0,80.5 L150.8,81.0 L149.5,82.0 L148.7,83.0 L148.0,84.2 L147.2,86.0 L146.8,87.0 L146.0,88.5 L145.0,89.6 L144.0,90.2 L142.0,90.7 L140.3,91.0 L139.0,91.3 L137.0,91.6 L135.5,92.0 L134.0,93.0 L133.1,94.0 L132.5,95.0 L131.9,96.0 L131.0,97.9 L130.0,98.8Z"/>
<path d="M99.0,115.3 L98.4,114.0 L98.6,112.0 L98.4,110.0 L98.0,108.3 L97.6,107.0 L97.0,105.5 L96.3,104.0 L95.8,103.0 L95.0,101.5 L94.4,100.0 L94.0,99.0 L93.3,97.0 L93.0,95.6 L92.9,94.0 L93.0,93.0 L93.9,91.0 L94.7,90.0 L95.8,89.0 L97.0,88.4 L99.0,88.3 L100.2,89.0 L101.0,90.2 L101.9,92.0 L103.0,92.7 L104.0,91.8 L104.4,90.0 L105.0,88.0 L105.3,87.0 L105.9,85.0 L106.1,84.0 L106.7,82.0 L107.3,81.0 L109.0,80.4 L111.0,80.8 L112.0,81.4 L113.0,82.1 L114.0,83.3 L114.9,85.0 L115.4,86.0 L116.0,87.3 L116.7,89.0 L117.0,90.8 L117.0,91.2 L116.7,93.0 L116.0,94.1 L114.9,95.0 L113.0,95.7 L111.7,96.0 L110.0,96.4 L108.5,97.0 L107.6,98.0 L107.2,100.0 L107.5,102.0 L108.0,103.3 L108.8,105.0 L109.1,106.0 L109.0,108.0 L108.3,109.0 L107.1,110.0 L106.0,110.7 L105.0,111.3 L103.5,112.0 L102.0,112.8 L101.0,113.4 L100.0,114.6 L99.0,115.3Z"/>
<path d="M154.0,151.2 L152.0,151.2 L151.0,151.0 L149.0,150.0 L148.0,149.1 L147.2,148.0 L146.7,147.0 L146.1,145.0 L145.7,144.0 L145.0,142.2 L144.3,141.0 L143.8,140.0 L143.0,138.3 L142.6,137.0 L142.4,135.0 L143.0,133.3 L144.0,132.4 L145.0,131.6 L146.0,130.7 L147.0,129.7 L148.0,128.1 L148.2,127.0 L147.7,126.0 L146.0,125.2 L144.0,125.9 L143.2,127.0 L142.6,128.0 L142.0,129.4 L141.2,131.0 L140.3,132.0 L139.0,132.6 L137.0,132.7 L136.3,131.0 L136.0,129.3 L135.9,128.0 L135.6,126.0 L135.5,124.0 L135.6,122.0 L135.9,120.0 L135.4,118.0 L134.8,117.0 L134.0,116.0 L133.0,114.7 L132.1,113.0 L132.1,111.0 L132.8,109.0 L133.3,108.0 L134.0,106.5 L134.6,105.0 L135.0,104.0 L136.2,103.0 L138.0,102.2 L139.0,101.7 L140.0,100.7 L140.9,99.0 L141.3,98.0 L142.0,96.4 L142.6,95.0 L143.2,94.0 L144.0,92.8 L145.1,92.0 L147.0,91.6 L149.0,91.8 L150.0,92.0 L152.0,92.6 L153.0,93.0 L154.3,94.0 L155.0,95.0 L155.1,97.0 L154.5,98.0 L153.4,99.0 L152.0,100.0 L151.0,100.7 L150.0,101.4 L149.0,102.0 L147.5,103.0 L146.5,104.0 L146.0,105.0 L146.0,106.6 L146.5,108.0 L147.4,109.0 L149.0,110.0 L150.0,110.4 L152.0,111.0 L153.0,111.3 L155.0,111.6 L157.0,111.1 L158.0,110.4 L159.0,109.3 L160.0,108.2 L161.0,107.3 L162.0,106.8 L164.0,106.7 L165.0,107.1 L166.7,108.0 L168.0,108.6 L169.0,109.1 L171.0,109.6 L173.0,109.5 L174.3,109.0 L176.0,108.1 L177.0,107.6 L179.0,107.9 L179.5,109.0 L179.7,111.0 L179.3,113.0 L179.0,114.5 L178.7,116.0 L178.2,118.0 L177.6,119.0 L176.0,120.0 L175.0,120.1 L173.0,120.1 L171.0,120.1 L169.0,120.3 L167.2,121.0 L166.0,121.9 L165.2,123.0 L165.3,125.0 L166.0,126.3 L167.0,128.0 L167.6,129.0 L168.1,130.0 L169.0,131.7 L169.6,133.0 L170.0,134.5 L170.0,135.2 L169.4,137.0 L168.8,138.0 L168.0,139.3 L167.1,141.0 L166.6,142.0 L166.0,143.3 L165.0,144.8 L164.0,145.8 L163.0,146.6 L162.0,147.4 L161.0,148.2 L159.9,149.0 L158.0,150.0 L157.0,150.5 L155.0,151.0 L154.0,151.2Z"/>
<path d="M118.0,110.8 L117.0,109.5 L116.5,108.0 L116.4,106.0 L116.8,104.0 L117.1,103.0 L117.8,101.0 L118.4,100.0 L119.3,99.0 L121.0,98.6 L122.0,99.9 L122.1,101.0 L122.0,102.0 L121.5,104.0 L121.0,105.4 L120.3,107.0 L119.8,108.0 L119.0,109.6 L118.0,110.8Z"/>
<path d="M201.0,118.3 L199.9,118.0 L198.0,117.5 L196.0,117.2 L194.0,117.0 L193.0,116.9 L191.0,116.2 L190.0,115.5 L189.0,114.5 L188.2,113.0 L188.2,111.0 L188.9,109.0 L189.5,108.0 L190.2,107.0 L191.0,105.9 L192.0,104.6 L193.0,103.5 L194.0,102.6 L195.0,102.0 L196.1,102.0 L196.0,103.7 L195.0,105.0 L194.4,106.0 L194.3,108.0 L195.0,109.8 L195.8,111.0 L196.7,112.0 L198.0,113.0 L199.0,113.6 L200.0,114.3 L201.0,115.2 L201.6,117.0 L201.0,118.3Z"/>
<path d="M122.0,122.3 L121.0,121.9 L120.0,120.9 L119.0,119.4 L118.3,118.0 L117.9,117.0 L117.6,115.0 L118.0,113.4 L118.8,112.0 L120.0,111.4 L121.9,112.0 L123.0,112.8 L124.0,113.8 L124.7,115.0 L125.0,116.2 L125.0,117.6 L124.7,119.0 L124.0,120.8 L123.0,121.9 L122.0,122.3Z"/>
<path d="M110.0,174.1 L108.0,174.5 L106.0,174.5 L104.1,174.0 L103.0,173.3 L102.0,172.4 L101.1,171.0 L100.8,170.0 L100.7,168.0 L101.0,167.0 L102.0,165.3 L102.9,164.0 L102.0,163.0 L100.0,162.9 L98.0,162.7 L96.0,162.2 L95.0,161.2 L94.7,160.0 L95.0,158.4 L95.6,157.0 L96.5,156.0 L97.7,155.0 L99.0,154.3 L100.2,154.0 L101.3,154.0 L103.0,154.5 L104.4,155.0 L106.0,155.5 L108.0,155.2 L109.0,154.8 L110.3,154.0 L110.8,152.0 L110.0,150.1 L109.3,149.0 L108.6,148.0 L107.6,147.0 L106.6,146.0 L105.5,145.0 L104.8,144.0 L104.0,142.1 L103.1,141.0 L102.6,140.0 L102.0,138.8 L101.0,137.5 L99.0,137.1 L97.6,138.0 L96.7,139.0 L96.0,140.2 L95.2,142.0 L94.8,143.0 L94.0,144.3 L93.0,145.6 L92.0,146.6 L91.0,147.2 L89.0,147.4 L88.0,147.0 L86.9,146.0 L86.0,144.0 L85.7,143.0 L85.2,141.0 L85.0,139.1 L85.0,138.9 L85.3,137.0 L86.0,135.5 L87.0,134.1 L87.7,133.0 L88.4,132.0 L89.0,131.0 L90.0,129.7 L91.0,129.0 L93.0,128.6 L94.3,129.0 L96.0,129.8 L97.0,130.4 L98.1,131.0 L100.0,131.9 L101.0,132.3 L102.7,133.0 L104.0,133.8 L105.0,134.6 L106.0,135.7 L107.0,136.1 L108.0,135.2 L108.9,134.0 L109.6,133.0 L110.4,132.0 L111.1,131.0 L112.0,130.0 L113.2,129.0 L114.8,128.0 L116.0,127.5 L117.4,127.0 L118.9,127.0 L119.6,128.0 L119.3,130.0 L118.9,131.0 L118.0,132.4 L117.1,134.0 L116.8,135.0 L116.5,137.0 L117.0,138.2 L118.0,139.3 L119.0,141.0 L119.1,142.0 L119.0,144.0 L119.1,146.0 L119.7,148.0 L120.4,149.0 L122.0,149.9 L124.0,149.6 L125.0,148.7 L125.9,147.0 L126.2,146.0 L126.4,144.0 L126.3,142.0 L126.0,140.6 L125.3,139.0 L125.0,137.5 L125.0,136.9 L126.0,135.0 L127.0,134.4 L128.5,134.0 L130.0,133.8 L132.0,133.7 L134.0,133.7 L135.6,134.0 L136.1,135.0 L136.2,137.0 L136.0,138.2 L135.8,140.0 L135.7,142.0 L136.0,144.0 L136.3,145.0 L137.0,146.2 L137.7,148.0 L137.6,150.0 L137.0,151.2 L136.0,152.7 L136.0,153.7 L137.0,154.1 L139.0,154.6 L140.0,155.0 L141.7,156.0 L142.9,157.0 L143.7,158.0 L144.5,159.0 L145.3,160.0 L146.3,161.0 L147.9,162.0 L148.3,162.0 L150.0,161.2 L151.0,160.4 L152.0,159.7 L153.6,159.0 L154.7,159.0 L156.0,159.6 L157.0,160.7 L157.9,162.0 L158.6,163.0 L159.3,164.0 L161.0,164.9 L162.2,164.0 L163.0,162.9 L163.1,161.0 L162.7,160.0 L162.0,158.7 L161.2,157.0 L160.8,156.0 L160.4,154.0 L160.2,152.0 L161.0,150.2 L162.0,149.5 L163.0,148.9 L165.0,148.0 L166.0,147.5 L168.0,147.2 L170.0,147.7 L171.0,148.4 L172.0,149.2 L173.0,150.0 L174.4,151.0 L176.0,151.6 L178.0,151.2 L179.0,150.3 L179.8,149.0 L180.3,148.0 L181.0,146.7 L182.0,145.7 L183.4,145.0 L184.0,144.0 L185.0,142.1 L186.0,141.3 L187.0,141.0 L188.3,141.0 L190.0,141.2 L192.0,141.2 L193.0,141.0 L194.7,140.0 L195.9,139.0 L196.6,138.0 L197.1,137.0 L197.5,135.0 L197.4,133.0 L197.3,131.0 L197.5,129.0 L198.0,127.3 L198.6,126.0 L199.1,125.0 L200.0,123.3 L200.8,122.0 L201.5,121.0 L203.0,120.3 L204.1,121.0 L205.7,122.0 L207.0,122.9 L208.0,123.9 L208.7,125.0 L209.0,126.0 L209.0,127.6 L208.8,129.0 L208.2,131.0 L207.9,132.0 L207.5,134.0 L207.2,136.0 L207.0,137.2 L206.5,139.0 L206.0,140.0 L205.0,141.3 L204.0,142.3 L203.0,143.4 L202.1,145.0 L201.9,146.0 L201.8,148.0 L201.6,150.0 L201.1,152.0 L200.0,152.8 L198.0,152.0 L197.0,151.4 L196.0,150.7 L194.7,150.0 L193.0,149.5 L191.8,150.0 L191.5,152.0 L192.0,153.5 L192.4,155.0 L192.6,157.0 L192.3,159.0 L192.0,160.2 L191.4,162.0 L191.0,163.2 L190.4,165.0 L190.0,166.6 L189.6,168.0 L189.0,169.6 L188.0,170.7 L187.0,171.1 L185.0,171.6 L183.8,172.0 L182.0,172.7 L181.0,173.1 L179.0,173.6 L177.0,173.5 L175.7,173.0 L174.4,172.0 L173.5,171.0 L174.0,169.0 L175.0,168.2 L176.0,167.2 L177.0,166.1 L177.6,165.0 L178.0,163.2 L178.0,162.9 L177.1,161.0 L176.0,160.3 L174.0,160.2 L172.0,160.9 L171.0,161.5 L170.0,162.4 L169.6,164.0 L170.0,165.3 L170.8,167.0 L171.4,168.0 L171.8,170.0 L170.0,170.8 L169.0,171.0 L168.0,171.0 L166.0,170.2 L165.0,169.6 L164.0,169.0 L162.3,168.0 L161.0,167.6 L160.0,168.1 L158.9,169.0 L157.2,170.0 L156.0,170.4 L154.0,170.7 L152.0,170.8 L150.0,170.5 L148.9,170.0 L147.6,169.0 L146.0,168.7 L144.0,168.4 L142.0,168.1 L140.0,168.0 L138.0,168.2 L136.0,168.6 L134.0,169.0 L133.0,169.1 L131.0,169.2 L129.0,169.2 L127.0,169.2 L125.0,169.4 L123.0,169.7 L121.5,170.0 L120.0,170.5 L118.3,171.0 L117.0,171.4 L115.3,172.0 L114.0,172.4 L112.6,173.0 L111.0,173.7 L110.0,174.1Z"/>
</g>
<g clip-path="url(#cA)" fill="none" stroke="#5aa698" stroke-width="1">
<path d="M126.0,41.0 L124.0,41.3 L122.8,41.0 L121.7,40.0 L121.0,38.4 L120.8,37.0 L121.0,35.9 L121.9,34.0 L123.0,33.1 L124.0,32.6 L126.0,32.6 L127.0,33.1 L128.2,34.0 L129.0,35.3 L129.5,37.0 L129.0,39.0 L128.2,40.0 L127.0,40.7 L126.0,41.0Z"/>
<path d="M233.0,173.2 L231.0,173.3 L229.2,173.0 L228.0,172.4 L227.0,171.5 L226.1,170.0 L225.7,169.0 L225.0,167.8 L224.0,166.9 L222.9,166.0 L221.7,165.0 L220.7,164.0 L219.9,163.0 L219.0,161.7 L218.1,160.0 L217.6,159.0 L217.0,157.5 L216.2,156.0 L215.5,155.0 L214.8,154.0 L214.0,152.2 L213.9,151.0 L213.9,149.0 L212.9,148.0 L212.0,146.8 L211.0,145.5 L210.0,144.5 L209.0,143.9 L207.0,143.8 L205.9,144.0 L204.0,144.6 L202.9,145.0 L201.0,145.7 L199.0,145.9 L197.1,145.0 L196.0,144.0 L195.1,143.0 L194.4,142.0 L193.7,141.0 L193.0,139.7 L192.0,138.0 L191.4,137.0 L191.0,136.0 L190.5,134.0 L190.5,132.0 L190.6,130.0 L190.0,128.5 L189.0,127.4 L188.0,126.9 L186.0,126.6 L184.0,126.6 L182.0,126.7 L180.0,126.4 L179.0,125.9 L177.8,125.0 L177.0,124.0 L176.0,122.1 L175.6,121.0 L175.3,119.0 L175.4,117.0 L175.9,115.0 L176.4,114.0 L177.1,113.0 L178.2,112.0 L179.1,111.0 L180.0,109.2 L180.1,108.0 L179.9,107.0 L179.0,105.5 L178.0,104.7 L176.5,104.0 L175.0,104.0 L174.0,104.2 L172.0,104.1 L171.0,103.5 L170.0,102.7 L169.0,101.8 L167.7,101.0 L166.0,100.6 L164.0,100.4 L162.6,100.0 L161.3,99.0 L160.8,98.0 L160.3,96.0 L160.1,94.0 L159.9,93.0 L159.5,91.0 L159.1,89.0 L159.4,87.0 L160.3,86.0 L161.5,85.0 L162.6,84.0 L163.6,83.0 L164.6,82.0 L165.2,81.0 L165.2,79.0 L164.6,78.0 L163.7,77.0 L162.8,76.0 L162.0,74.0 L162.5,72.0 L163.0,71.0 L163.9,69.0 L164.4,68.0 L165.1,67.0 L166.1,66.0 L167.4,65.0 L168.5,64.0 L169.2,63.0 L169.0,61.3 L168.1,60.0 L167.3,59.0 L166.0,58.1 L165.0,57.6 L163.5,57.0 L162.0,56.5 L160.0,56.2 L158.0,56.8 L157.6,58.0 L158.0,59.4 L158.7,61.0 L159.2,62.0 L159.2,64.0 L158.2,65.0 L157.0,65.7 L156.0,66.0 L154.0,66.3 L152.0,66.0 L151.0,65.7 L149.7,65.0 L148.3,64.0 L147.2,63.0 L146.2,62.0 L145.3,61.0 L144.5,60.0 L143.8,59.0 L143.0,57.5 L142.4,56.0 L142.0,54.7 L141.6,53.0 L141.2,51.0 L141.1,49.0 L141.5,47.0 L142.0,46.0 L143.0,45.0 L145.0,44.2 L147.0,44.5 L148.7,45.0 L150.0,45.2 L151.0,44.8 L152.0,43.7 L153.0,42.4 L154.0,41.1 L154.9,40.0 L155.8,39.0 L156.6,38.0 L157.6,37.0 L159.0,36.0 L160.0,35.7 L162.0,35.7 L163.0,36.1 L164.1,37.0 L165.0,38.1 L166.0,39.4 L167.0,40.5 L168.0,41.4 L169.0,42.1 L170.2,43.0 L171.8,44.0 L173.0,44.6 L174.0,45.0 L176.0,45.7 L177.0,46.1 L178.1,47.0 L179.0,48.2 L179.6,50.0 L179.7,52.0 L180.0,53.4 L181.0,54.3 L182.0,55.8 L182.6,57.0 L183.0,58.5 L183.3,60.0 L183.6,62.0 L184.0,63.0 L185.0,64.6 L186.0,65.8 L187.0,66.8 L188.0,67.6 L189.0,68.4 L190.0,69.2 L191.0,70.1 L192.0,71.0 L193.0,72.2 L193.9,74.0 L194.1,75.0 L194.0,77.0 L193.8,78.0 L193.0,79.5 L192.0,80.3 L190.0,80.9 L189.0,81.0 L187.0,81.5 L186.6,83.0 L187.0,84.5 L187.7,86.0 L188.4,87.0 L189.2,88.0 L190.4,89.0 L192.0,89.3 L193.0,88.4 L194.0,87.4 L195.0,86.5 L196.0,85.9 L198.0,85.5 L200.0,85.9 L201.0,86.5 L202.0,87.1 L203.1,88.0 L204.4,89.0 L206.0,89.9 L207.0,90.3 L208.3,91.0 L209.4,92.0 L210.1,93.0 L211.0,95.0 L211.2,96.0 L211.2,98.0 L211.0,99.7 L210.8,101.0 L211.0,102.7 L211.6,104.0 L212.3,105.0 L213.1,106.0 L214.0,107.5 L215.0,108.6 L216.1,109.0 L218.0,110.0 L219.0,110.7 L220.0,111.5 L221.0,112.3 L222.0,113.1 L223.1,114.0 L224.5,115.0 L226.0,115.9 L227.0,116.5 L228.0,117.2 L229.0,118.3 L229.9,120.0 L230.3,121.0 L230.8,123.0 L231.1,124.0 L231.8,126.0 L232.2,127.0 L233.0,129.0 L233.2,130.0 L233.3,132.0 L232.9,133.0 L232.0,134.6 L231.2,136.0 L231.0,137.0 L232.0,137.7 L233.0,138.1 L235.0,138.3 L236.0,137.9 L237.0,136.8 L238.0,135.3 L239.0,134.2 L240.0,133.6 L242.0,133.2 L244.0,133.8 L245.0,134.5 L246.0,135.4 L247.0,136.7 L247.8,138.0 L248.4,139.0 L249.0,140.2 L249.7,142.0 L250.0,143.4 L250.3,145.0 L250.5,147.0 L250.7,149.0 L251.0,151.0 L251.1,152.0 L251.4,154.0 L251.6,156.0 L251.7,158.0 L251.5,160.0 L251.0,161.3 L250.0,162.4 L249.0,163.2 L247.0,163.8 L245.6,163.0 L245.1,161.0 L245.0,159.3 L244.7,158.0 L244.0,156.9 L243.0,155.9 L242.0,155.0 L240.8,154.0 L239.7,153.0 L238.4,152.0 L237.0,151.2 L236.0,151.0 L235.0,151.2 L233.8,152.0 L233.0,153.4 L232.5,155.0 L232.0,156.5 L231.4,158.0 L230.9,159.0 L230.0,160.5 L229.3,162.0 L229.0,163.0 L229.0,164.1 L230.0,165.0 L232.0,165.1 L234.0,165.3 L235.7,166.0 L236.9,167.0 L237.7,168.0 L238.3,169.0 L238.0,170.5 L237.0,171.5 L236.0,172.1 L234.0,172.9 L233.0,173.2Z"/>
<path d="M201.0,72.2 L199.0,72.3 L198.0,71.9 L197.0,70.9 L196.8,69.0 L197.1,68.0 L198.0,66.2 L199.0,65.4 L201.0,65.3 L202.1,66.0 L203.0,67.5 L203.3,69.0 L203.0,70.2 L202.0,71.6 L201.0,72.2Z"/>
<path d="M112.0,84.0 L110.0,84.0 L109.0,83.5 L108.0,82.0 L107.8,81.0 L108.2,80.0 L109.1,79.0 L111.0,78.6 L112.3,79.0 L113.5,80.0 L113.8,82.0 L113.0,83.4 L112.0,84.0Z"/>
<path d="M256.0,110.2 L254.0,110.8 L252.0,110.0 L251.0,109.3 L250.0,108.5 L249.0,107.6 L248.0,106.8 L247.0,105.9 L246.0,104.8 L245.0,103.0 L244.9,102.0 L245.0,100.9 L245.8,99.0 L246.7,98.0 L248.0,97.1 L249.0,96.7 L251.0,96.7 L252.0,97.0 L254.0,97.8 L255.0,98.2 L257.0,98.2 L258.0,97.8 L259.1,97.0 L261.0,96.6 L261.8,98.0 L261.0,99.7 L260.2,101.0 L259.8,102.0 L259.2,104.0 L259.0,105.0 L258.4,107.0 L258.0,108.0 L257.0,109.5 L256.0,110.2Z"/>
<path d="M291.0,119.2 L289.0,119.5 L287.3,119.0 L286.0,118.1 L285.0,117.2 L284.0,116.3 L283.0,115.3 L282.0,114.2 L281.1,113.0 L280.5,112.0 L280.0,110.7 L279.6,109.0 L279.8,107.0 L280.2,106.0 L281.0,104.8 L282.0,103.8 L283.2,103.0 L285.0,102.2 L286.0,101.8 L288.0,101.5 L290.0,101.5 L291.8,102.0 L293.0,102.4 L294.1,103.0 L295.5,104.0 L296.6,105.0 L297.4,106.0 L298.1,107.0 L299.0,108.9 L299.3,110.0 L299.1,112.0 L298.8,113.0 L298.0,114.4 L297.0,115.5 L296.0,116.4 L295.0,117.1 L293.5,118.0 L292.0,118.8 L291.0,119.2Z"/>
<path d="M211.1,138.0 L212.6,137.0 L213.9,136.0 L215.0,135.3 L216.0,134.7 L217.5,134.0 L219.0,133.2 L220.0,132.5 L221.0,131.1 L221.3,130.0 L221.6,128.0 L221.7,126.0 L221.9,124.0 L221.8,122.0 L221.0,120.0 L220.0,119.5 L218.0,120.0 L217.0,120.9 L216.4,122.0 L215.9,123.0 L215.0,124.6 L214.0,125.8 L213.0,126.5 L212.0,127.0 L210.0,128.0 L209.0,128.6 L208.0,129.5 L207.2,131.0 L207.0,132.0 L207.0,133.7 L207.3,135.0 L208.0,136.7 L209.0,137.8 L210.0,138.2 L211.1,138.0Z"/>
<path d="M195.4,127.0 L197.0,126.2 L198.0,125.2 L198.4,124.0 L197.8,123.0 L196.2,122.0 L195.0,121.8 L193.8,122.0 L192.8,123.0 L192.4,125.0 L193.0,126.3 L194.1,127.0 L195.4,127.0Z"/>
<path d="M164.0,134.2 L162.7,134.0 L162.2,132.0 L162.1,130.0 L163.0,128.0 L164.0,127.4 L166.0,127.5 L167.0,128.5 L167.1,130.0 L166.6,131.0 L166.0,132.1 L165.0,133.4 L164.0,134.2Z"/>
<path d="M170.0,154.0 L168.0,154.1 L167.0,153.9 L165.0,153.4 L164.0,152.8 L163.0,151.7 L162.5,150.0 L162.7,148.0 L163.0,147.0 L164.0,145.2 L165.0,144.2 L166.0,143.5 L167.0,142.8 L168.0,142.0 L169.0,141.0 L170.1,140.0 L171.6,139.0 L173.0,138.3 L174.0,137.9 L175.8,137.0 L177.0,136.4 L178.0,136.0 L180.0,135.6 L182.0,135.9 L183.0,136.2 L184.7,137.0 L185.8,138.0 L186.5,139.0 L187.0,140.0 L187.6,142.0 L187.5,144.0 L187.0,145.4 L186.0,146.8 L185.0,147.7 L184.0,148.2 L182.0,148.9 L181.0,149.3 L179.0,149.9 L178.0,150.3 L176.6,151.0 L175.0,152.0 L174.0,152.7 L173.0,153.2 L171.0,153.9 L170.0,154.0Z"/>
<path d="M260.0,192.5 L258.0,192.9 L256.1,192.0 L255.4,191.0 L255.1,189.0 L254.4,188.0 L253.0,187.0 L252.0,186.7 L250.0,186.7 L249.0,187.0 L247.2,188.0 L246.0,188.8 L245.0,189.3 L243.0,189.4 L242.0,189.0 L240.6,188.0 L239.5,187.0 L238.5,186.0 L237.3,185.0 L236.4,184.0 L236.0,182.9 L235.8,181.0 L236.0,179.0 L236.2,178.0 L236.7,176.0 L237.0,175.0 L237.6,173.0 L238.2,172.0 L239.1,171.0 L240.4,170.0 L242.0,169.1 L243.0,168.5 L244.2,168.0 L246.0,167.5 L247.8,168.0 L249.0,168.8 L250.0,169.2 L252.0,169.5 L254.0,169.7 L255.2,170.0 L257.0,170.9 L258.0,171.9 L258.9,173.0 L259.6,174.0 L260.4,175.0 L261.5,176.0 L263.0,176.7 L264.0,177.1 L265.8,178.0 L266.7,179.0 L267.2,180.0 L267.4,182.0 L267.0,183.5 L266.3,185.0 L265.6,186.0 L264.6,187.0 L263.0,188.0 L262.0,188.4 L261.6,190.0 L261.0,191.3 L260.0,192.5Z"/>
<path d="M127.0,39.2 L125.0,39.5 L123.0,39.1 L122.3,38.0 L122.2,36.0 L123.0,34.7 L124.0,34.0 L126.0,33.9 L127.0,34.5 L128.0,35.8 L128.2,37.0 L128.0,38.1 L127.0,39.2Z"/>
<path d="M172.0,56.3 L170.0,56.0 L169.0,55.9 L167.0,55.6 L165.0,55.1 L164.0,54.9 L162.0,54.2 L161.0,53.9 L159.0,53.2 L158.0,52.9 L156.0,52.0 L155.4,51.0 L155.0,49.0 L154.9,48.0 L154.8,46.0 L155.0,44.7 L155.8,43.0 L156.8,42.0 L158.0,41.2 L159.0,40.8 L160.1,41.0 L161.5,42.0 L162.6,43.0 L164.0,43.5 L166.0,43.9 L167.0,44.2 L169.0,45.0 L170.0,45.6 L171.0,46.3 L172.0,47.0 L173.4,48.0 L174.5,49.0 L175.1,50.0 L175.1,52.0 L174.5,53.0 L173.8,54.0 L173.0,55.4 L172.0,56.3Z"/>
<path d="M154.0,63.1 L152.5,63.0 L151.0,62.2 L150.0,61.1 L149.5,60.0 L149.2,58.0 L149.6,56.0 L150.0,54.8 L152.0,54.6 L153.0,55.6 L153.6,57.0 L154.1,58.0 L155.0,60.0 L155.3,61.0 L155.0,62.5 L154.0,63.1Z"/>
<path d="M176.0,66.1 L174.0,66.9 L173.0,65.5 L172.7,64.0 L172.8,62.0 L173.1,61.0 L174.0,59.7 L175.3,59.0 L176.5,59.0 L177.9,60.0 L178.3,61.0 L178.3,63.0 L177.9,64.0 L177.0,65.3 L176.0,66.1Z"/>
<path d="M186.0,99.3 L184.0,99.5 L183.0,98.7 L182.0,97.8 L180.0,97.7 L178.0,97.3 L177.0,96.9 L175.1,96.0 L174.0,95.5 L172.9,95.0 L171.0,94.6 L169.0,94.7 L167.0,95.0 L165.0,94.6 L164.0,93.4 L163.6,92.0 L163.5,90.0 L164.0,88.0 L164.5,87.0 L165.1,86.0 L166.0,85.0 L167.1,84.0 L168.1,83.0 L168.8,81.0 L168.5,79.0 L168.0,77.3 L167.6,76.0 L167.4,74.0 L167.9,72.0 L168.5,71.0 L169.5,70.0 L171.0,69.0 L172.0,68.6 L174.0,68.2 L175.1,69.0 L176.6,70.0 L178.0,70.8 L179.0,71.3 L180.0,72.0 L181.0,73.3 L181.3,75.0 L181.4,77.0 L181.7,79.0 L182.0,80.1 L182.8,82.0 L183.3,83.0 L184.0,84.2 L185.0,85.9 L185.6,87.0 L186.2,88.0 L187.0,89.6 L187.6,91.0 L187.9,93.0 L188.6,94.0 L188.8,96.0 L188.0,97.6 L187.0,98.6 L186.0,99.3Z"/>
<path d="M253.0,107.2 L251.8,107.0 L250.0,106.1 L249.0,105.3 L248.0,104.3 L247.3,103.0 L247.3,101.0 L248.0,99.9 L249.9,99.0 L250.2,99.0 L252.0,99.6 L253.0,100.4 L254.0,101.8 L254.5,103.0 L254.7,105.0 L254.0,106.7 L253.0,107.2Z"/>
<path d="M202.0,142.0 L201.0,141.8 L199.5,141.0 L198.6,140.0 L197.9,139.0 L197.0,137.5 L196.3,136.0 L195.9,135.0 L195.8,133.0 L196.3,132.0 L197.3,131.0 L198.5,130.0 L199.8,129.0 L201.0,128.0 L201.8,127.0 L202.2,126.0 L202.3,124.0 L202.0,122.0 L201.9,121.0 L200.2,120.0 L199.0,119.5 L197.2,119.0 L196.0,118.7 L194.0,118.4 L192.0,118.3 L190.4,119.0 L189.6,120.0 L189.0,121.1 L188.0,122.4 L187.0,123.1 L185.0,123.7 L183.0,123.8 L181.0,123.4 L180.0,122.7 L179.0,121.4 L178.5,120.0 L178.4,118.0 L179.0,116.2 L179.8,115.0 L180.7,114.0 L181.5,113.0 L182.2,112.0 L182.9,110.0 L183.2,109.0 L183.6,107.0 L184.0,105.9 L185.0,104.8 L187.0,104.5 L189.0,104.2 L190.0,103.9 L192.0,103.1 L193.0,102.8 L195.0,102.8 L196.0,103.2 L197.2,104.0 L198.9,105.0 L200.0,105.4 L202.0,105.9 L203.1,106.0 L205.0,106.3 L206.6,107.0 L207.5,108.0 L207.4,110.0 L206.9,111.0 L206.0,112.7 L205.3,114.0 L204.9,115.0 L204.5,117.0 L205.0,118.2 L207.0,118.6 L208.8,119.0 L210.0,119.2 L212.0,119.5 L213.0,120.2 L213.5,122.0 L213.0,123.5 L212.0,124.8 L211.0,125.4 L209.9,126.0 L208.0,126.8 L207.0,127.3 L206.0,128.0 L205.1,130.0 L205.0,131.0 L205.0,132.7 L205.1,134.0 L205.4,136.0 L205.8,138.0 L205.8,140.0 L205.0,141.1 L203.0,141.9 L202.0,142.0Z"/>
<path d="M292.0,115.1 L290.0,115.8 L288.0,115.8 L286.2,115.0 L285.0,114.2 L284.0,113.3 L283.0,112.0 L282.4,111.0 L282.0,109.6 L282.0,108.0 L282.2,107.0 L283.0,105.8 L284.0,104.8 L285.5,104.0 L287.0,103.5 L289.0,103.5 L290.4,104.0 L292.0,105.0 L293.0,105.9 L294.0,106.9 L295.0,107.9 L295.8,109.0 L296.2,110.0 L296.1,112.0 L295.5,113.0 L294.3,114.0 L293.0,114.6 L292.0,115.1Z"/>
<path d="M225.0,163.6 L223.0,163.5 L222.0,162.9 L221.0,161.9 L220.0,160.1 L219.6,159.0 L219.4,157.0 L219.6,155.0 L219.6,153.0 L219.0,151.6 L218.3,150.0 L218.0,149.0 L217.8,147.0 L217.0,145.9 L215.3,145.0 L214.2,144.0 L213.6,143.0 L213.4,141.0 L214.0,139.5 L215.0,138.1 L216.0,137.2 L217.0,136.6 L218.1,136.0 L220.0,135.1 L221.0,134.6 L222.0,133.8 L223.0,132.7 L223.6,131.0 L223.6,129.0 L223.7,127.0 L224.0,125.0 L224.3,124.0 L225.0,122.5 L226.0,121.9 L227.0,122.3 L228.0,123.5 L228.7,125.0 L229.1,126.0 L229.7,128.0 L229.8,130.0 L229.3,132.0 L228.7,133.0 L228.0,134.7 L227.8,136.0 L227.8,138.0 L228.0,139.1 L229.2,140.0 L230.5,141.0 L232.0,141.8 L233.0,142.2 L235.0,142.6 L237.0,142.6 L239.0,142.3 L241.0,142.1 L243.0,142.1 L245.0,143.0 L246.0,144.0 L246.6,145.0 L247.1,146.0 L247.6,148.0 L247.8,150.0 L247.6,152.0 L247.0,153.1 L245.0,154.0 L243.0,153.5 L242.0,153.0 L240.7,152.0 L239.4,151.0 L238.2,150.0 L237.0,149.2 L236.0,148.9 L234.9,149.0 L233.0,150.0 L232.1,151.0 L231.5,152.0 L231.0,153.5 L230.5,155.0 L230.0,156.4 L229.1,158.0 L228.5,159.0 L227.9,160.0 L227.0,161.5 L226.0,162.9 L225.0,163.6Z"/>
<path d="M171.0,151.1 L169.0,151.5 L167.0,151.3 L166.0,150.8 L165.0,149.0 L165.6,147.0 L166.5,146.0 L168.0,145.0 L169.0,144.4 L170.0,143.7 L171.0,142.8 L172.0,141.8 L173.0,140.9 L174.2,140.0 L176.0,139.1 L177.0,138.6 L179.0,138.0 L180.0,137.9 L181.0,138.0 L183.0,138.7 L184.0,139.5 L184.9,141.0 L185.2,142.0 L185.1,144.0 L184.7,145.0 L183.8,146.0 L182.2,147.0 L181.0,147.5 L179.0,148.0 L178.0,148.3 L176.0,148.8 L175.0,149.2 L173.2,150.0 L172.0,150.6 L171.0,151.1Z"/>
<path d="M246.0,186.1 L244.0,186.7 L242.0,186.2 L241.0,185.7 L239.1,185.0 L238.0,184.3 L237.1,183.0 L236.9,182.0 L237.0,181.0 L238.0,179.3 L238.8,178.0 L239.2,177.0 L240.0,175.4 L240.9,174.0 L241.7,173.0 L243.0,172.0 L244.0,171.6 L246.0,171.6 L247.7,172.0 L249.0,172.2 L251.0,172.0 L252.0,171.9 L253.7,172.0 L255.0,172.4 L256.0,173.0 L257.0,174.0 L258.0,175.7 L258.6,177.0 L259.2,178.0 L260.0,179.1 L261.2,180.0 L262.1,181.0 L262.0,182.5 L261.0,183.3 L259.0,183.5 L257.0,183.3 L255.0,183.2 L253.0,183.4 L251.0,183.6 L249.7,184.0 L248.0,184.9 L247.0,185.5 L246.0,186.1Z"/>
</g>
<g clip-path="url(#cB)" fill="none" stroke="#9650be" stroke-width="1">
<path d="M561.0,182.2 L559.0,182.5 L557.0,182.5 L555.0,182.2 L554.0,181.9 L552.0,181.2 L551.0,180.7 L549.9,180.0 L548.5,179.0 L547.3,178.0 L546.2,177.0 L545.1,176.0 L544.0,175.2 L543.0,174.6 L542.0,174.0 L540.2,173.0 L539.0,172.2 L538.0,171.3 L537.0,170.2 L536.2,169.0 L535.8,168.0 L535.0,166.5 L533.4,166.0 L532.0,165.7 L530.0,165.9 L529.0,166.1 L527.0,166.7 L527.0,167.6 L527.3,169.0 L527.0,171.0 L526.6,172.0 L526.0,173.0 L525.0,174.1 L524.0,175.0 L522.6,176.0 L521.0,177.0 L520.0,177.5 L519.0,178.0 L517.0,178.9 L516.0,179.2 L514.0,179.9 L513.0,180.2 L511.0,180.8 L510.0,181.1 L508.0,181.5 L506.0,181.6 L504.0,181.2 L503.0,180.8 L501.7,180.0 L500.7,179.0 L500.0,177.0 L500.0,175.2 L498.0,175.5 L496.0,175.3 L495.0,174.0 L494.2,173.0 L493.2,172.0 L492.0,171.1 L491.0,170.5 L490.0,170.0 L488.0,169.3 L486.0,169.1 L485.7,171.0 L486.4,172.0 L487.1,173.0 L487.7,175.0 L487.0,177.0 L486.0,177.7 L484.0,178.0 L482.0,177.1 L481.0,176.1 L480.1,175.0 L479.3,174.0 L478.6,173.0 L477.9,172.0 L477.0,170.9 L476.0,169.7 L474.9,169.0 L473.0,168.2 L473.0,167.2 L475.0,167.7 L477.0,167.9 L479.0,167.9 L481.0,167.8 L483.0,167.6 L484.0,166.1 L484.3,165.0 L485.0,163.2 L485.7,162.0 L486.5,161.0 L487.9,160.0 L489.0,159.4 L491.0,159.0 L492.0,159.0 L493.6,159.0 L495.0,159.0 L497.0,159.0 L498.0,158.9 L500.0,158.7 L502.0,158.5 L504.0,158.3 L504.0,157.6 L503.0,156.6 L502.0,155.0 L501.7,154.0 L501.5,152.0 L501.7,150.0 L502.1,149.0 L501.0,148.3 L500.0,147.2 L499.0,146.6 L497.7,147.0 L496.6,148.0 L495.8,149.0 L495.0,150.0 L494.0,151.5 L493.0,153.0 L492.1,154.0 L491.0,155.0 L490.0,155.5 L488.2,156.0 L487.0,156.2 L485.0,156.2 L483.0,156.1 L481.8,156.0 L480.0,155.7 L478.0,155.2 L477.0,154.9 L475.0,154.5 L473.0,154.4 L471.0,154.6 L469.0,154.8 L467.0,154.9 L465.0,154.8 L463.0,154.1 L462.0,153.7 L460.0,153.2 L459.0,153.0 L457.0,152.3 L456.0,151.4 L455.2,150.0 L454.9,149.0 L454.0,147.7 L452.0,147.7 L451.0,148.0 L449.0,148.7 L447.0,149.0 L445.0,148.7 L443.9,148.0 L442.8,147.0 L442.0,146.0 L441.0,144.4 L440.3,143.0 L439.8,142.0 L439.1,140.0 L439.0,139.0 L439.1,138.0 L440.0,136.4 L441.0,135.6 L442.5,135.0 L444.0,134.9 L445.3,135.0 L447.0,135.2 L449.0,135.4 L451.0,135.4 L453.0,135.5 L455.0,135.7 L456.5,136.0 L457.5,137.0 L457.4,139.0 L457.3,141.0 L457.3,143.0 L458.0,144.5 L460.0,144.8 L461.4,144.0 L462.1,143.0 L462.5,141.0 L462.2,139.0 L461.6,138.0 L460.8,137.0 L459.5,136.0 L459.3,134.0 L460.0,132.8 L461.0,131.7 L462.0,130.9 L463.6,130.0 L465.0,129.4 L466.0,129.0 L468.0,128.1 L469.0,127.5 L470.1,127.0 L472.0,126.2 L473.0,125.7 L473.1,124.0 L472.0,123.5 L470.2,123.0 L469.0,122.8 L467.0,122.1 L466.0,121.6 L465.0,120.9 L464.0,119.8 L463.0,118.1 L462.6,117.0 L462.1,115.0 L461.9,114.0 L461.1,112.0 L460.3,111.0 L459.7,110.0 L459.0,108.7 L458.1,107.0 L457.7,106.0 L457.1,104.0 L457.0,102.0 L457.2,100.0 L457.8,98.0 L458.4,97.0 L459.3,96.0 L460.4,95.0 L461.5,94.0 L462.7,93.0 L464.0,92.0 L465.0,91.2 L466.0,90.6 L467.0,90.0 L468.7,89.0 L470.0,88.4 L472.0,88.0 L474.0,88.3 L475.3,89.0 L476.5,90.0 L477.4,91.0 L478.0,92.0 L479.0,93.8 L480.1,94.0 L482.0,94.5 L483.6,95.0 L485.0,95.5 L487.0,96.0 L488.0,96.1 L489.0,96.0 L491.0,95.1 L492.0,94.5 L494.0,94.1 L496.0,94.4 L498.0,94.8 L500.0,94.5 L501.0,93.9 L502.1,93.0 L503.3,92.0 L505.0,91.0 L506.0,90.6 L507.5,90.0 L509.0,89.5 L511.0,89.0 L512.0,88.9 L514.0,88.8 L515.0,89.0 L517.0,89.6 L518.0,90.0 L519.7,91.0 L520.9,92.0 L521.8,93.0 L522.6,94.0 L523.3,95.0 L524.0,96.0 L525.0,97.4 L526.0,99.0 L526.7,100.0 L528.0,101.0 L529.0,101.1 L530.0,100.9 L531.8,100.0 L533.0,99.1 L534.0,98.1 L535.0,97.1 L536.0,96.3 L538.0,96.2 L539.3,97.0 L540.1,98.0 L540.9,100.0 L540.7,102.0 L540.0,103.6 L539.2,105.0 L538.6,106.0 L538.0,107.3 L537.3,109.0 L537.3,111.0 L538.0,112.4 L539.0,113.8 L539.9,115.0 L540.7,116.0 L541.3,117.0 L542.0,118.8 L542.1,120.0 L541.8,121.0 L541.0,122.0 L539.8,123.0 L538.5,124.0 L537.4,125.0 L536.7,126.0 L536.0,127.3 L535.3,129.0 L534.7,130.0 L534.0,131.0 L532.7,132.0 L531.0,132.8 L530.0,133.4 L528.0,133.7 L526.0,133.8 L524.0,133.8 L522.0,133.3 L521.0,132.9 L519.5,132.0 L518.2,131.0 L517.0,130.1 L516.0,129.5 L514.0,129.8 L513.5,131.0 L513.0,132.9 L512.7,134.0 L512.2,136.0 L511.8,137.0 L512.0,138.8 L513.0,139.4 L514.0,140.1 L515.2,141.0 L516.1,142.0 L516.7,144.0 L517.0,145.6 L517.5,147.0 L518.3,148.0 L519.3,149.0 L520.2,150.0 L521.0,151.5 L521.9,153.0 L523.0,153.2 L525.0,153.2 L527.0,153.3 L529.0,153.9 L530.0,154.3 L532.0,155.0 L533.9,154.0 L534.5,153.0 L534.9,151.0 L534.7,149.0 L534.5,147.0 L534.9,145.0 L535.4,144.0 L536.1,143.0 L537.0,141.8 L538.0,140.7 L539.0,139.7 L540.3,139.0 L542.0,138.4 L543.6,138.0 L545.0,137.6 L547.0,137.0 L548.0,136.8 L550.0,136.6 L552.0,136.9 L553.0,137.3 L554.1,138.0 L555.1,139.0 L556.0,140.5 L556.6,142.0 L557.0,144.0 L557.0,145.0 L557.0,146.0 L556.3,148.0 L555.7,149.0 L554.8,150.0 L553.8,151.0 L553.0,152.1 L552.5,154.0 L552.7,156.0 L552.7,158.0 L553.0,159.2 L555.0,159.8 L556.0,160.1 L558.0,160.6 L560.0,160.8 L562.0,160.7 L564.0,160.9 L565.0,161.2 L566.4,162.0 L567.5,163.0 L568.2,164.0 L568.8,166.0 L568.9,168.0 L568.7,170.0 L568.6,172.0 L569.0,174.0 L569.5,175.0 L570.0,176.7 L570.0,177.3 L569.0,179.0 L568.0,179.7 L567.0,180.1 L565.0,180.8 L564.0,181.2 L562.0,181.9 L561.0,182.2Z"/>
<path d="M475.0,110.0 L476.0,109.5 L477.0,108.1 L477.2,107.0 L477.0,105.0 L476.0,104.4 L474.0,105.0 L473.2,106.0 L473.0,107.0 L472.9,109.0 L473.4,110.0 L475.0,110.0Z"/>
<path d="M504.7,138.0 L505.2,137.0 L504.8,136.0 L504.0,134.3 L503.0,133.4 L501.0,133.3 L499.5,134.0 L499.7,136.0 L500.3,137.0 L501.4,138.0 L503.0,138.4 L504.7,138.0Z"/>
<path d="M518.1,174.0 L519.0,173.0 L520.0,171.3 L520.6,170.0 L521.0,168.8 L522.0,167.1 L523.0,166.2 L523.8,165.0 L522.8,164.0 L521.9,163.0 L521.0,161.9 L520.0,160.1 L519.9,159.0 L520.0,158.0 L520.4,156.0 L520.0,154.5 L518.0,154.5 L516.0,154.6 L514.0,154.6 L512.0,155.0 L511.0,155.4 L509.9,156.0 L508.5,157.0 L507.0,157.9 L506.0,158.2 L506.0,159.3 L507.0,160.1 L508.0,161.1 L509.0,162.5 L510.0,164.0 L510.7,165.0 L511.4,166.0 L512.0,167.0 L512.9,169.0 L513.2,170.0 L513.7,172.0 L514.2,173.0 L515.0,174.2 L517.0,174.7 L518.1,174.0Z"/>
<path d="M456.0,198.0 L454.0,198.3 L452.3,198.0 L451.6,197.0 L452.0,195.5 L453.0,194.4 L454.0,193.7 L456.0,193.3 L457.3,194.0 L457.9,196.0 L457.0,197.5 L456.0,198.0Z"/>
<path d="M476.0,202.3 L474.0,202.7 L472.0,202.8 L470.0,202.5 L469.0,201.9 L468.0,200.9 L467.6,199.0 L468.0,197.5 L468.9,196.0 L470.0,195.0 L471.0,194.5 L473.0,194.1 L475.0,194.0 L477.0,194.4 L478.1,195.0 L479.2,196.0 L479.8,198.0 L479.1,200.0 L478.3,201.0 L477.0,201.9 L476.0,202.3Z"/>
<path d="M468.0,112.7 L466.0,112.8 L464.0,112.0 L463.0,111.2 L462.0,110.1 L461.3,109.0 L460.8,108.0 L460.0,106.0 L459.8,105.0 L459.7,103.0 L459.9,101.0 L460.2,100.0 L460.9,98.0 L461.5,97.0 L462.3,96.0 L463.3,95.0 L464.6,94.0 L466.0,93.1 L467.0,92.6 L468.5,92.0 L470.0,91.4 L471.5,91.0 L473.0,91.0 L474.0,91.3 L475.1,92.0 L476.1,93.0 L477.0,94.6 L477.5,96.0 L477.7,98.0 L477.0,99.9 L476.0,100.7 L475.0,101.1 L473.0,101.5 L471.6,102.0 L470.5,103.0 L470.1,105.0 L470.3,107.0 L470.2,109.0 L470.0,110.1 L469.0,111.8 L468.0,112.7Z"/>
<path d="M508.0,108.6 L506.0,108.5 L505.0,107.8 L504.0,106.8 L503.0,105.6 L502.0,104.2 L501.3,103.0 L500.8,102.0 L501.0,100.9 L502.0,99.7 L503.0,98.7 L504.0,97.3 L504.8,96.0 L505.5,95.0 L506.4,94.0 L507.8,93.0 L509.0,92.5 L511.0,92.3 L513.0,92.6 L514.0,93.2 L515.0,94.0 L516.0,95.2 L517.0,96.7 L518.0,97.7 L519.0,98.4 L520.3,99.0 L521.7,100.0 L522.5,101.0 L523.0,102.0 L523.8,104.0 L524.1,105.0 L524.0,106.1 L522.0,106.4 L520.0,106.1 L519.0,105.9 L517.0,105.3 L515.5,105.0 L514.0,104.9 L513.0,105.0 L511.1,106.0 L510.0,106.9 L509.0,107.9 L508.0,108.6Z"/>
<path d="M485.0,105.2 L483.0,105.6 L481.9,105.0 L481.0,103.6 L480.5,102.0 L480.7,100.0 L482.0,99.2 L484.0,99.4 L485.7,100.0 L487.0,100.8 L487.7,102.0 L487.0,103.5 L486.0,104.5 L485.0,105.2Z"/>
<path d="M532.0,110.7 L530.0,110.4 L529.0,109.8 L527.7,109.0 L526.5,108.0 L527.0,106.2 L528.0,105.8 L529.6,105.0 L531.0,104.4 L532.0,103.9 L534.0,103.4 L535.1,104.0 L535.0,105.8 L534.5,107.0 L534.0,108.0 L533.0,109.5 L532.0,110.7Z"/>
<path d="M509.0,132.1 L507.8,132.0 L506.7,131.0 L505.7,130.0 L504.5,129.0 L503.0,128.1 L502.0,127.8 L500.0,127.8 L498.0,128.0 L496.0,127.8 L494.0,127.3 L493.0,126.9 L491.5,126.0 L490.4,125.0 L489.6,124.0 L488.6,123.0 L487.0,122.2 L486.0,121.9 L484.0,121.6 L482.7,121.0 L481.0,120.1 L480.0,119.6 L478.6,119.0 L477.0,118.4 L475.5,118.0 L474.1,118.0 L473.0,118.2 L471.0,118.8 L469.0,118.6 L468.0,118.0 L467.0,116.0 L467.6,114.0 L469.0,113.6 L470.5,114.0 L472.0,114.6 L473.9,115.0 L474.3,115.0 L476.0,114.7 L478.0,114.0 L479.0,113.8 L481.0,113.9 L483.0,113.6 L484.0,113.0 L485.1,112.0 L486.3,111.0 L487.6,110.0 L489.0,109.1 L490.0,108.5 L491.1,108.0 L493.0,107.2 L494.0,106.9 L496.0,107.0 L497.0,107.2 L498.4,108.0 L499.8,109.0 L501.0,109.9 L502.0,110.6 L503.0,111.1 L505.0,111.4 L507.0,111.4 L508.7,112.0 L510.0,112.5 L511.6,113.0 L513.0,113.2 L514.9,113.0 L516.0,112.8 L518.0,112.4 L520.0,112.2 L522.0,112.2 L524.0,112.7 L525.0,113.2 L527.0,114.0 L528.0,114.0 L529.0,113.8 L530.3,113.0 L531.9,112.0 L532.1,112.0 L534.0,112.7 L535.0,113.4 L536.0,114.2 L537.0,115.3 L538.0,116.9 L538.3,118.0 L538.0,119.5 L537.0,120.8 L536.0,121.6 L535.0,122.4 L534.0,123.3 L533.0,124.7 L532.2,126.0 L531.6,127.0 L530.8,128.0 L529.6,129.0 L528.0,129.7 L527.0,130.0 L525.0,130.2 L523.2,130.0 L522.0,129.6 L520.9,129.0 L519.7,128.0 L518.4,127.0 L517.0,126.0 L516.0,125.4 L515.0,124.7 L514.0,123.9 L513.0,123.0 L512.0,122.0 L510.2,121.0 L509.4,121.0 L508.0,121.9 L507.8,123.0 L508.0,124.1 L508.8,126.0 L509.1,127.0 L509.6,129.0 L509.5,131.0 L509.0,132.1Z"/>
<path d="M488.0,153.4 L486.0,153.9 L484.0,153.9 L482.0,153.6 L480.4,153.0 L479.0,152.0 L478.0,151.1 L477.0,150.3 L476.0,149.9 L474.0,149.9 L473.0,150.1 L471.0,150.5 L469.0,150.6 L467.0,150.0 L466.0,149.0 L465.5,148.0 L465.2,146.0 L465.4,144.0 L465.6,142.0 L465.5,140.0 L465.0,138.5 L464.4,137.0 L464.0,135.9 L463.8,134.0 L464.3,133.0 L465.4,132.0 L467.0,131.1 L468.0,130.6 L469.3,130.0 L471.0,129.2 L472.0,128.8 L474.0,128.2 L475.0,128.0 L477.0,127.7 L479.0,127.6 L481.0,127.7 L482.0,128.1 L483.9,129.0 L485.0,129.8 L486.0,131.0 L486.5,132.0 L487.0,133.1 L488.0,134.7 L489.0,135.5 L490.0,136.1 L491.9,137.0 L493.0,137.5 L494.0,138.1 L495.0,139.2 L495.5,141.0 L495.1,143.0 L494.8,144.0 L494.0,146.0 L493.6,147.0 L493.0,148.1 L492.0,149.8 L491.2,151.0 L490.3,152.0 L489.0,152.9 L488.0,153.4Z"/>
<path d="M450.0,145.4 L448.0,145.8 L446.0,145.5 L445.0,144.9 L444.0,143.7 L443.2,142.0 L443.0,141.0 L443.0,140.0 L444.0,138.6 L446.0,138.1 L447.0,138.0 L449.0,138.0 L450.0,138.0 L452.0,138.4 L453.0,139.0 L453.9,141.0 L453.3,143.0 L452.4,144.0 L451.0,145.0 L450.0,145.4Z"/>
<path d="M561.0,180.1 L559.0,180.6 L557.0,180.7 L555.0,180.4 L553.6,180.0 L552.0,179.2 L551.0,178.5 L550.0,177.7 L549.0,176.8 L548.0,175.9 L547.0,175.0 L545.7,174.0 L544.1,173.0 L543.0,172.3 L542.0,171.7 L541.0,170.9 L540.0,170.0 L539.0,168.6 L538.4,167.0 L538.3,165.0 L537.0,164.5 L535.9,164.0 L534.6,163.0 L533.9,162.0 L533.6,160.0 L534.0,159.0 L535.0,157.3 L535.7,156.0 L536.2,155.0 L537.0,153.0 L537.2,152.0 L537.2,150.0 L537.0,148.8 L536.9,147.0 L537.1,146.0 L538.0,144.4 L539.0,143.4 L540.0,142.7 L541.9,142.0 L543.0,141.9 L544.8,142.0 L546.0,142.3 L548.0,142.8 L549.0,143.4 L549.0,144.2 L548.0,145.0 L547.0,146.1 L546.1,148.0 L545.8,149.0 L545.7,151.0 L546.0,152.6 L546.5,154.0 L547.0,155.1 L547.6,157.0 L547.3,159.0 L546.6,160.0 L545.7,161.0 L546.9,162.0 L547.1,162.0 L549.0,161.8 L551.0,161.6 L553.0,161.7 L554.4,162.0 L556.0,162.5 L557.6,163.0 L559.0,163.4 L561.0,163.7 L563.0,163.8 L564.1,164.0 L565.7,165.0 L566.4,166.0 L566.8,168.0 L566.6,170.0 L566.4,172.0 L566.4,174.0 L566.3,176.0 L565.9,177.0 L565.0,178.0 L563.5,179.0 L562.0,179.7 L561.0,180.1Z"/>
<path d="M527.0,162.1 L526.0,161.9 L524.8,161.0 L524.0,159.2 L524.0,158.7 L524.7,157.0 L526.0,156.3 L528.0,156.6 L529.0,157.3 L529.9,159.0 L529.4,161.0 L528.0,161.9 L527.0,162.1Z"/>
<path d="M508.0,178.1 L507.0,177.9 L506.2,176.0 L506.0,174.5 L505.3,173.0 L504.0,172.0 L503.0,171.7 L501.0,171.4 L499.0,171.2 L497.9,171.0 L496.0,170.3 L495.0,169.7 L493.8,169.0 L492.3,168.0 L491.0,167.0 L490.0,166.1 L489.3,165.0 L490.0,163.2 L491.0,162.5 L492.2,162.0 L494.0,161.6 L496.0,161.4 L498.0,161.2 L500.0,161.0 L501.0,161.0 L502.2,161.0 L504.0,161.3 L505.5,162.0 L506.7,163.0 L507.5,164.0 L508.1,165.0 L509.0,166.3 L510.0,167.9 L510.6,169.0 L511.0,170.0 L511.5,172.0 L511.7,174.0 L511.4,176.0 L510.6,177.0 L509.0,177.9 L508.0,178.1Z"/>
<path d="M474.0,201.3 L472.0,201.5 L470.3,201.0 L469.4,200.0 L469.3,198.0 L470.0,196.7 L471.0,195.8 L473.0,195.1 L475.0,195.2 L477.0,195.9 L477.8,197.0 L477.3,199.0 L476.5,200.0 L475.0,201.0 L474.0,201.3Z"/>
</g>
<g clip-path="url(#cB)" fill="none" stroke="#5aa698" stroke-width="1">
<path d="M482.0,44.1 L480.0,44.3 L478.0,44.2 L477.0,44.0 L475.3,43.0 L474.5,42.0 L474.4,40.0 L475.0,38.6 L476.0,37.4 L477.0,36.6 L478.9,36.0 L480.0,35.9 L481.1,36.0 L483.0,36.6 L484.0,37.3 L485.0,38.5 L485.6,40.0 L485.1,42.0 L484.3,43.0 L483.0,43.8 L482.0,44.1Z"/>
<path d="M593.0,163.2 L591.0,163.7 L589.0,164.0 L587.0,163.3 L586.4,162.0 L586.0,160.2 L585.1,159.0 L584.0,158.8 L582.0,158.7 L580.0,158.3 L579.0,158.0 L577.0,157.1 L576.0,156.6 L575.0,155.9 L573.6,155.0 L572.3,154.0 L571.3,153.0 L570.6,152.0 L570.0,150.4 L569.6,149.0 L569.5,147.0 L569.0,145.3 L568.0,144.7 L566.0,144.3 L564.0,144.8 L563.0,145.3 L561.3,146.0 L560.0,146.2 L559.0,145.9 L557.5,145.0 L556.5,144.0 L555.6,143.0 L554.8,142.0 L554.0,140.8 L553.0,139.3 L552.3,138.0 L551.7,137.0 L551.0,135.6 L550.2,134.0 L549.7,133.0 L549.1,131.0 L549.0,130.0 L549.0,128.5 L549.4,127.0 L550.0,125.8 L551.0,124.5 L551.8,123.0 L552.1,122.0 L552.3,120.0 L552.0,118.5 L551.0,117.2 L550.0,116.5 L549.0,115.8 L547.9,115.0 L547.0,113.9 L545.0,113.7 L543.7,114.0 L542.0,114.0 L541.0,113.9 L539.0,113.6 L537.1,114.0 L536.4,115.0 L537.0,117.0 L537.7,118.0 L538.2,119.0 L538.5,121.0 L538.0,122.5 L537.1,124.0 L536.2,125.0 L535.3,126.0 L534.2,127.0 L533.0,127.9 L532.8,129.0 L533.4,130.0 L534.0,131.0 L534.8,133.0 L535.1,134.0 L535.5,136.0 L535.5,138.0 L535.0,139.8 L534.3,141.0 L533.2,142.0 L532.0,142.7 L531.0,143.0 L529.0,143.3 L527.0,143.7 L526.0,144.1 L524.5,145.0 L523.0,145.9 L522.0,146.4 L520.0,146.7 L518.0,146.5 L516.3,146.0 L515.0,145.5 L514.0,145.0 L512.5,144.0 L511.5,143.0 L510.7,142.0 L510.0,140.8 L509.1,139.0 L508.7,138.0 L508.1,136.0 L507.9,135.0 L507.4,133.0 L507.2,131.0 L507.9,129.0 L509.0,128.0 L510.0,127.5 L512.0,127.4 L513.4,128.0 L514.2,129.0 L514.7,131.0 L515.1,132.0 L516.0,133.1 L517.2,134.0 L518.7,135.0 L520.0,135.6 L520.8,134.0 L520.3,132.0 L520.0,130.8 L519.5,129.0 L519.8,127.0 L520.8,126.0 L522.0,125.3 L523.0,124.8 L523.1,123.0 L523.1,121.0 L523.2,119.0 L523.0,117.8 L522.0,116.4 L521.0,115.6 L520.0,114.7 L519.0,113.7 L518.0,112.7 L517.0,111.6 L516.0,110.5 L515.0,109.3 L514.2,108.0 L513.9,107.0 L513.5,105.0 L513.6,103.0 L514.0,101.3 L514.6,100.0 L515.2,99.0 L516.0,98.0 L517.4,97.0 L519.0,96.4 L520.9,96.0 L522.0,95.7 L523.8,95.0 L525.0,94.5 L526.9,94.0 L528.0,93.9 L530.0,93.9 L531.4,94.0 L532.2,94.0 L534.0,93.8 L535.2,93.0 L535.8,91.0 L536.1,90.0 L536.8,88.0 L537.0,87.0 L537.4,85.0 L538.0,83.2 L538.6,82.0 L539.4,81.0 L540.8,80.0 L542.0,79.5 L544.0,79.0 L545.0,78.9 L547.0,78.3 L548.0,77.6 L548.7,76.0 L549.0,74.0 L549.1,73.0 L548.5,72.0 L547.2,71.0 L546.0,70.1 L545.0,69.4 L544.0,68.9 L543.0,69.0 L542.0,70.0 L541.0,71.2 L540.0,72.2 L539.0,73.0 L537.3,74.0 L536.0,74.5 L534.0,74.9 L532.0,74.7 L530.0,74.1 L529.0,73.6 L527.9,73.0 L526.3,72.0 L525.0,71.0 L524.0,70.3 L523.0,69.4 L522.0,68.6 L521.0,67.7 L520.0,66.7 L519.0,65.7 L518.0,64.3 L517.5,63.0 L517.3,61.0 L517.9,59.0 L518.7,58.0 L519.9,57.0 L521.0,56.1 L522.0,55.1 L523.0,54.1 L524.0,53.0 L525.0,52.1 L526.0,51.2 L527.0,50.3 L528.0,49.3 L529.0,48.2 L530.0,47.1 L531.0,46.2 L532.0,45.6 L533.3,45.0 L535.0,44.4 L536.0,44.0 L538.0,43.2 L539.0,42.9 L541.0,42.5 L543.0,42.6 L544.7,43.0 L546.0,43.3 L547.9,44.0 L549.0,44.5 L550.0,45.0 L551.7,46.0 L553.0,46.6 L554.1,47.0 L556.0,47.9 L557.0,48.7 L557.8,50.0 L558.2,51.0 L558.5,53.0 L558.5,55.0 L558.2,57.0 L557.9,58.0 L557.3,60.0 L557.0,61.0 L556.7,63.0 L556.8,65.0 L557.0,66.0 L557.5,68.0 L558.2,69.0 L560.0,70.0 L561.0,70.7 L562.0,71.3 L564.0,71.8 L566.0,71.3 L567.0,71.0 L569.0,70.5 L571.0,70.6 L572.6,71.0 L574.0,71.5 L575.0,72.0 L577.0,73.0 L578.0,73.6 L579.0,74.7 L579.6,76.0 L580.0,78.0 L580.2,79.0 L580.7,81.0 L581.1,82.0 L582.0,83.0 L583.4,84.0 L585.0,84.9 L586.0,86.0 L586.2,87.0 L586.0,88.1 L585.2,90.0 L584.6,91.0 L584.0,92.0 L583.0,93.3 L582.0,94.2 L580.4,95.0 L579.0,95.4 L577.0,95.4 L575.5,95.0 L574.0,94.3 L573.0,93.4 L572.0,92.4 L571.0,91.5 L569.0,91.4 L568.0,92.5 L567.4,94.0 L567.7,96.0 L568.4,97.0 L569.6,98.0 L571.0,98.9 L572.0,99.5 L573.0,100.0 L574.8,101.0 L576.0,101.3 L578.0,101.5 L580.0,101.7 L582.0,102.0 L583.0,102.1 L585.0,102.8 L586.0,103.4 L587.0,104.4 L587.9,106.0 L588.1,107.0 L588.2,109.0 L588.2,111.0 L588.6,113.0 L589.5,114.0 L591.0,114.3 L593.0,114.3 L594.7,115.0 L595.5,116.0 L595.9,118.0 L595.2,120.0 L594.0,120.7 L592.0,120.7 L590.0,120.2 L589.0,120.0 L587.0,119.6 L585.0,119.7 L583.1,120.0 L582.0,120.2 L580.0,120.3 L578.0,120.3 L576.5,121.0 L576.8,123.0 L577.5,124.0 L578.1,125.0 L578.8,127.0 L578.8,129.0 L578.6,131.0 L578.3,133.0 L578.2,135.0 L578.4,137.0 L579.0,138.7 L580.0,139.1 L581.8,139.0 L583.0,138.5 L584.0,137.6 L585.0,136.6 L586.0,135.7 L587.4,135.0 L589.0,134.5 L591.0,134.2 L593.0,134.2 L595.0,134.0 L596.0,133.8 L597.9,133.0 L599.0,132.6 L601.0,132.8 L602.0,133.5 L603.0,134.8 L603.5,136.0 L604.0,137.7 L604.4,139.0 L605.0,140.4 L606.0,141.8 L607.0,142.7 L608.0,143.4 L609.0,144.3 L610.0,145.5 L610.9,147.0 L611.3,148.0 L611.9,150.0 L612.1,151.0 L612.0,152.7 L611.4,154.0 L610.3,155.0 L609.0,155.7 L608.0,156.1 L606.5,157.0 L605.2,158.0 L604.0,159.0 L603.0,159.8 L602.0,160.5 L601.0,161.0 L599.0,161.7 L597.9,162.0 L596.0,162.5 L594.0,163.0 L593.0,163.2Z"/>
<path d="M516.0,81.0 L514.0,81.4 L512.0,81.4 L510.5,81.0 L509.0,80.2 L508.0,79.3 L507.2,78.0 L506.9,77.0 L506.6,75.0 L506.8,73.0 L507.0,72.0 L508.0,70.0 L508.8,69.0 L509.9,68.0 L511.0,67.3 L512.0,66.9 L514.0,66.3 L516.0,66.2 L518.0,66.6 L519.0,67.1 L520.5,68.0 L521.5,69.0 L522.0,70.0 L522.7,72.0 L522.5,74.0 L522.0,75.5 L521.3,77.0 L520.6,78.0 L519.7,79.0 L518.3,80.0 L517.0,80.7 L516.0,81.0Z"/>
<path d="M645.0,85.1 L643.0,85.4 L642.0,85.0 L640.8,84.0 L640.2,82.0 L641.0,80.1 L642.0,79.3 L644.0,79.1 L645.7,80.0 L646.3,81.0 L646.4,83.0 L646.0,84.0 L645.0,85.1Z"/>
<path d="M547.4,109.0 L548.0,107.6 L549.0,106.3 L550.0,105.0 L550.5,104.0 L550.1,102.0 L549.2,101.0 L548.0,100.2 L547.0,99.7 L545.0,99.2 L543.0,99.2 L541.0,99.5 L540.5,101.0 L540.5,103.0 L541.0,104.6 L541.9,106.0 L543.0,107.0 L544.0,107.7 L545.0,108.2 L546.4,109.0 L547.4,109.0Z"/>
<path d="M641.0,153.3 L639.0,153.7 L637.1,153.0 L638.0,151.3 L639.0,150.5 L640.0,149.2 L640.0,148.4 L639.3,147.0 L638.3,146.0 L637.2,145.0 L636.2,144.0 L635.3,143.0 L634.7,142.0 L634.2,140.0 L634.5,138.0 L635.0,136.7 L636.0,135.4 L637.0,134.7 L639.0,134.4 L641.0,134.9 L642.0,135.4 L643.0,136.0 L644.5,137.0 L645.6,138.0 L646.5,139.0 L647.1,140.0 L648.0,142.0 L648.3,143.0 L648.6,145.0 L648.4,147.0 L648.0,148.0 L647.0,149.4 L646.0,150.1 L644.5,151.0 L643.0,152.0 L642.0,152.7 L641.0,153.3Z"/>
<path d="M632.0,201.3 L630.0,201.9 L628.2,201.0 L627.2,200.0 L626.3,199.0 L625.5,198.0 L624.8,197.0 L624.0,195.8 L623.1,194.0 L622.9,193.0 L622.7,191.0 L623.0,189.8 L623.6,188.0 L624.1,187.0 L625.0,185.5 L626.0,184.0 L626.7,183.0 L627.5,182.0 L628.4,181.0 L629.9,180.0 L631.0,179.5 L633.0,179.5 L634.8,180.0 L636.0,180.6 L637.0,181.3 L638.0,182.4 L638.9,184.0 L639.3,185.0 L639.6,187.0 L639.7,189.0 L639.5,191.0 L639.0,192.8 L638.5,194.0 L637.8,195.0 L637.0,196.0 L636.0,197.1 L635.0,198.3 L634.0,199.6 L633.0,200.6 L632.0,201.3Z"/>
<path d="M481.0,43.0 L479.0,43.1 L477.9,43.0 L476.3,42.0 L475.8,41.0 L476.0,39.5 L477.0,38.1 L478.0,37.4 L479.6,37.0 L480.4,37.0 L482.0,37.4 L483.0,38.1 L484.0,39.7 L484.0,41.0 L483.3,42.0 L482.0,42.8 L481.0,43.0Z"/>
<path d="M535.0,71.4 L533.0,71.9 L531.0,71.6 L529.4,71.0 L528.0,70.2 L527.0,69.5 L526.0,68.6 L525.0,67.5 L524.0,66.2 L523.3,65.0 L522.9,64.0 L522.5,62.0 L522.9,60.0 L523.4,59.0 L524.0,57.8 L525.0,56.2 L525.9,55.0 L526.7,54.0 L527.7,53.0 L528.7,52.0 L529.7,51.0 L530.7,50.0 L531.8,49.0 L533.0,48.1 L534.0,47.7 L536.0,47.1 L537.0,46.9 L539.0,46.6 L541.0,46.2 L543.0,46.1 L545.0,46.3 L546.8,47.0 L548.0,47.9 L549.0,49.0 L549.6,50.0 L550.0,51.2 L551.0,52.6 L553.0,52.3 L555.0,53.0 L555.6,54.0 L555.9,56.0 L555.4,58.0 L555.0,59.3 L554.4,61.0 L554.0,62.3 L553.6,64.0 L553.3,66.0 L553.0,67.6 L552.0,68.6 L550.3,68.0 L549.1,67.0 L548.2,66.0 L547.4,65.0 L546.7,64.0 L546.0,63.0 L545.0,61.8 L543.0,61.7 L542.0,62.1 L540.0,62.9 L539.0,63.3 L537.8,64.0 L537.1,66.0 L537.2,68.0 L537.0,69.2 L536.0,70.8 L535.0,71.4Z"/>
<path d="M516.0,79.3 L514.0,79.7 L512.0,79.5 L510.7,79.0 L509.6,78.0 L508.9,77.0 L508.4,75.0 L508.5,73.0 L509.0,71.6 L510.0,70.1 L511.0,69.2 L512.0,68.7 L514.0,68.1 L516.0,68.3 L517.4,69.0 L518.5,70.0 L519.2,71.0 L519.9,73.0 L519.9,75.0 L519.1,77.0 L518.2,78.0 L517.0,78.9 L516.0,79.3Z"/>
<path d="M597.0,159.1 L595.3,159.0 L594.0,158.7 L593.0,157.8 L592.6,156.0 L592.4,154.0 L592.0,152.0 L591.4,151.0 L590.0,150.2 L588.0,150.6 L587.0,151.3 L586.0,152.2 L585.0,153.3 L584.0,154.3 L583.0,155.1 L581.0,155.8 L579.0,155.6 L577.6,155.0 L576.0,154.1 L575.0,153.4 L574.0,152.6 L573.0,151.4 L572.3,150.0 L572.0,149.0 L571.9,147.0 L572.0,146.0 L572.6,144.0 L573.2,143.0 L572.0,142.4 L570.9,142.0 L569.0,141.3 L568.0,140.9 L566.0,140.2 L565.0,140.0 L563.0,139.7 L561.0,139.9 L559.0,139.5 L558.0,138.9 L557.0,137.7 L556.3,136.0 L556.1,134.0 L556.7,132.0 L557.2,131.0 L557.9,129.0 L558.0,128.0 L557.9,127.0 L557.1,125.0 L556.5,124.0 L556.0,123.0 L555.4,121.0 L555.4,119.0 L556.0,117.0 L556.7,116.0 L557.9,115.0 L559.0,114.2 L560.0,113.3 L560.9,112.0 L561.1,111.0 L561.4,109.0 L562.0,107.0 L562.5,106.0 L563.2,105.0 L562.9,104.0 L562.5,102.0 L562.0,100.0 L561.0,99.6 L559.0,99.3 L557.0,99.1 L555.5,99.0 L554.0,98.9 L552.0,98.5 L550.6,98.0 L549.0,97.5 L547.0,97.0 L546.0,96.9 L544.0,96.6 L542.0,96.3 L540.8,96.0 L539.5,95.0 L539.0,93.8 L539.0,92.0 L539.2,91.0 L539.6,89.0 L539.9,87.0 L540.1,86.0 L540.9,84.0 L541.7,83.0 L543.0,82.1 L544.0,81.8 L546.0,81.4 L548.0,81.3 L550.0,81.3 L552.0,81.2 L552.5,80.0 L552.1,78.0 L551.9,77.0 L551.8,75.0 L552.0,74.0 L553.0,72.3 L554.0,71.7 L556.0,71.6 L557.2,72.0 L558.8,73.0 L560.0,73.9 L561.0,74.4 L563.0,74.9 L565.0,74.6 L566.5,74.0 L568.0,73.4 L569.7,73.0 L570.9,73.0 L572.0,73.2 L573.9,74.0 L575.0,74.7 L576.0,75.5 L577.0,77.0 L577.4,78.0 L577.8,80.0 L578.0,82.0 L578.1,83.0 L578.8,85.0 L579.4,86.0 L580.0,87.0 L580.6,89.0 L580.0,90.7 L579.0,91.6 L577.0,91.9 L575.2,91.0 L574.3,90.0 L573.5,89.0 L572.4,88.0 L571.0,87.5 L569.0,88.0 L568.0,88.6 L567.0,89.5 L566.0,90.6 L565.0,92.0 L564.4,93.0 L563.9,94.0 L563.2,96.0 L563.0,97.0 L562.8,99.0 L564.0,99.8 L565.0,100.2 L566.9,101.0 L568.0,101.8 L568.9,103.0 L570.0,103.2 L572.0,103.5 L574.0,103.7 L576.0,103.9 L577.3,104.0 L579.0,104.2 L581.0,104.6 L582.0,105.0 L583.2,106.0 L584.0,107.3 L584.5,109.0 L584.6,111.0 L584.6,113.0 L584.3,115.0 L583.8,116.0 L582.1,117.0 L581.0,117.1 L579.9,117.0 L578.0,116.4 L576.1,116.0 L575.9,116.0 L574.0,116.8 L573.1,118.0 L572.8,119.0 L572.2,121.0 L571.9,122.0 L571.0,123.9 L570.2,125.0 L569.4,126.0 L568.8,127.0 L568.8,129.0 L570.0,129.7 L572.0,129.7 L573.7,130.0 L574.5,131.0 L574.8,133.0 L574.9,135.0 L575.0,137.0 L575.1,138.0 L575.1,140.0 L576.0,141.3 L578.0,141.2 L580.0,141.4 L582.0,141.7 L584.0,141.4 L585.0,140.6 L586.0,139.2 L586.9,138.0 L588.0,137.0 L589.0,136.5 L591.0,136.2 L593.0,136.3 L595.0,136.7 L596.4,137.0 L598.0,137.5 L599.0,138.0 L600.2,139.0 L601.1,140.0 L602.0,141.4 L603.0,143.0 L603.8,144.0 L604.6,145.0 L605.5,146.0 L606.3,147.0 L607.0,148.1 L607.4,150.0 L607.0,151.6 L606.3,153.0 L605.5,154.0 L604.6,155.0 L603.7,156.0 L602.5,157.0 L601.0,158.0 L600.0,158.5 L598.0,159.0 L597.0,159.1Z"/>
<path d="M532.0,112.2 L530.0,112.8 L528.0,112.9 L526.0,112.9 L524.0,112.5 L522.5,112.0 L521.1,111.0 L520.2,110.0 L519.2,109.0 L518.2,108.0 L517.3,107.0 L516.7,106.0 L516.5,104.0 L517.0,102.8 L518.0,101.8 L520.0,101.3 L522.0,101.0 L523.0,100.4 L524.0,99.6 L525.0,98.8 L527.0,98.0 L528.0,97.9 L529.3,98.0 L531.0,98.2 L533.0,98.2 L535.0,98.1 L537.0,99.0 L537.4,100.0 L537.8,102.0 L538.0,103.0 L538.6,105.0 L539.0,106.1 L539.8,108.0 L539.0,109.9 L538.0,110.2 L536.0,110.8 L535.0,111.1 L533.0,111.9 L532.0,112.2Z"/>
<path d="M532.0,124.1 L530.0,124.6 L528.2,124.0 L527.3,123.0 L527.0,122.0 L527.0,121.0 L527.9,119.0 L528.8,118.0 L530.0,117.4 L532.0,117.7 L533.0,118.3 L534.0,119.4 L534.4,121.0 L534.0,122.2 L533.0,123.4 L532.0,124.1Z"/>
<path d="M530.0,140.2 L528.0,140.2 L527.0,139.7 L526.0,138.6 L525.3,137.0 L524.8,136.0 L524.0,134.2 L523.5,133.0 L523.0,131.5 L522.7,130.0 L523.0,128.6 L524.0,127.6 L526.0,127.2 L528.0,127.8 L529.0,128.5 L530.0,129.5 L531.0,130.8 L531.7,132.0 L532.2,133.0 L532.7,135.0 L532.8,137.0 L532.0,139.0 L531.0,139.9 L530.0,140.2Z"/>
<path d="M519.0,144.1 L517.0,144.1 L516.0,143.9 L514.1,143.0 L513.0,142.1 L512.1,141.0 L511.6,140.0 L511.0,138.1 L511.0,137.0 L511.2,136.0 L512.0,134.9 L513.8,135.0 L515.0,135.4 L516.0,136.0 L517.2,137.0 L518.2,138.0 L519.1,139.0 L520.0,140.1 L521.0,141.7 L521.0,142.7 L520.0,143.7 L519.0,144.1Z"/>
<path d="M645.0,146.5 L643.0,146.1 L642.0,145.6 L641.0,145.0 L639.3,144.0 L638.0,143.1 L637.2,142.0 L636.7,141.0 L636.8,139.0 L637.5,138.0 L639.0,137.2 L641.0,137.3 L642.5,138.0 L643.9,139.0 L644.8,140.0 L645.4,141.0 L646.0,142.4 L646.3,144.0 L646.0,145.5 L645.0,146.5Z"/>
<path d="M631.0,199.3 L629.0,199.1 L628.0,198.5 L627.0,197.5 L626.0,196.3 L625.2,195.0 L624.7,194.0 L624.4,192.0 L624.7,190.0 L625.0,189.0 L626.0,187.0 L626.6,186.0 L627.3,185.0 L628.0,184.0 L629.0,182.9 L630.3,182.0 L632.0,181.4 L634.0,181.7 L635.0,182.2 L636.0,183.0 L637.0,184.7 L637.4,186.0 L637.5,188.0 L637.2,190.0 L636.9,191.0 L636.1,193.0 L635.6,194.0 L635.0,195.0 L634.0,196.6 L633.0,197.9 L632.0,198.8 L631.0,199.3Z"/>
</g>
<g clip-path="url(#cC)" fill="none" stroke="#9650be" stroke-width="1">
<path d="M197.0,479.0 L195.8,479.0 L194.0,478.7 L192.1,478.0 L191.0,477.4 L190.0,476.6 L189.0,475.6 L188.0,474.6 L187.0,473.5 L186.0,472.6 L185.0,471.6 L184.0,470.3 L183.4,469.0 L183.4,467.0 L182.0,466.1 L181.0,465.8 L179.0,465.2 L178.0,464.8 L176.6,464.0 L175.7,463.0 L175.0,461.4 L174.6,460.0 L174.0,458.4 L173.0,457.1 L172.0,456.4 L170.9,456.0 L169.0,455.4 L167.5,455.0 L166.0,454.7 L164.0,454.7 L162.7,455.0 L161.0,455.5 L159.0,455.5 L158.0,455.0 L156.9,454.0 L155.7,453.0 L154.5,452.0 L153.5,451.0 L152.5,450.0 L151.7,449.0 L151.3,447.0 L151.0,445.4 L150.0,444.8 L148.0,444.5 L146.6,444.0 L145.0,443.4 L144.0,442.8 L142.9,442.0 L141.6,441.0 L140.3,440.0 L139.0,439.2 L138.0,438.7 L136.0,438.9 L135.4,440.0 L135.0,442.0 L134.7,443.0 L134.0,444.2 L133.0,445.3 L132.0,446.1 L130.2,447.0 L129.0,447.3 L127.0,447.5 L125.0,447.5 L123.0,447.9 L122.1,449.0 L121.6,450.0 L121.0,451.2 L120.0,452.8 L120.0,453.2 L121.0,454.0 L122.0,455.2 L123.0,456.9 L123.4,458.0 L123.3,460.0 L123.0,461.3 L122.6,463.0 L122.0,464.9 L121.6,466.0 L121.0,467.3 L120.0,468.9 L119.0,469.8 L118.0,470.3 L116.0,470.3 L115.0,469.7 L114.0,468.7 L113.2,467.0 L112.9,466.0 L112.9,464.0 L113.1,463.0 L113.8,461.0 L114.3,460.0 L115.0,458.5 L115.7,457.0 L116.0,456.0 L116.0,454.3 L115.0,454.0 L113.0,453.8 L111.0,453.8 L109.0,453.8 L107.0,453.6 L105.0,453.0 L104.0,452.6 L102.9,452.0 L101.3,451.0 L100.0,450.0 L99.0,449.2 L98.0,448.5 L97.0,447.9 L95.3,447.0 L94.0,446.4 L93.0,445.8 L91.7,445.0 L90.5,444.0 L89.8,443.0 L89.4,441.0 L89.9,439.0 L90.3,438.0 L91.0,436.2 L91.3,435.0 L91.7,433.0 L91.7,431.0 L91.7,429.0 L92.0,427.0 L92.6,426.0 L94.0,425.0 L95.0,424.7 L97.0,424.1 L98.0,423.9 L100.0,423.4 L101.5,423.0 L103.0,422.4 L104.0,422.0 L105.9,421.0 L107.0,420.3 L108.0,419.8 L109.4,419.0 L110.1,418.0 L110.8,416.0 L110.8,414.0 L110.0,412.7 L108.0,412.0 L107.0,411.9 L105.0,411.4 L104.0,410.9 L103.0,409.8 L102.6,408.0 L103.0,406.3 L103.6,405.0 L104.3,404.0 L105.2,403.0 L106.2,402.0 L107.3,401.0 L108.7,400.0 L110.0,399.1 L111.0,398.4 L112.0,397.6 L112.0,396.3 L111.6,395.0 L112.0,393.8 L114.0,393.6 L116.0,394.0 L117.0,394.2 L119.0,394.8 L120.0,395.4 L121.0,396.4 L122.0,397.6 L123.0,398.6 L124.0,399.3 L125.0,400.0 L127.0,401.0 L128.0,401.4 L130.0,402.0 L131.0,402.1 L132.0,401.9 L133.0,400.2 L133.0,400.0 L132.1,398.0 L131.4,397.0 L130.7,396.0 L129.9,395.0 L129.0,393.9 L128.0,392.9 L126.9,392.0 L125.9,391.0 L125.1,389.0 L125.4,387.0 L126.0,385.9 L127.7,385.0 L129.0,384.8 L131.0,384.5 L133.0,384.0 L134.0,383.7 L136.0,383.0 L137.0,382.4 L138.0,381.7 L139.0,380.8 L141.0,380.1 L143.0,380.8 L145.0,380.4 L147.0,380.0 L148.0,379.8 L150.0,379.3 L151.2,379.0 L153.0,378.6 L155.0,378.3 L157.0,378.2 L159.0,378.4 L161.0,378.8 L162.0,379.1 L164.0,379.7 L165.0,380.1 L167.0,380.9 L168.0,381.3 L170.0,381.9 L171.0,382.1 L173.0,382.3 L175.0,382.5 L176.4,383.0 L177.4,384.0 L178.0,385.1 L179.0,387.0 L179.6,388.0 L180.4,389.0 L181.5,390.0 L183.0,390.9 L184.0,391.3 L186.0,392.0 L187.0,392.7 L187.8,394.0 L188.4,395.0 L189.0,396.4 L189.3,398.0 L190.0,399.9 L191.0,400.7 L192.0,401.1 L194.0,401.3 L195.5,402.0 L196.1,403.0 L196.9,405.0 L197.7,406.0 L199.0,407.0 L200.0,407.5 L201.0,408.1 L202.6,409.0 L204.0,409.9 L205.0,410.8 L205.8,412.0 L206.0,413.0 L205.9,414.0 L205.0,415.8 L204.1,417.0 L203.3,418.0 L202.5,419.0 L201.8,420.0 L201.0,421.2 L200.0,422.4 L199.0,423.2 L197.0,423.9 L196.0,424.1 L194.0,425.0 L193.0,425.7 L192.0,426.4 L190.9,427.0 L189.4,428.0 L191.0,428.6 L193.0,428.4 L195.0,428.4 L197.0,428.8 L198.0,429.2 L199.0,430.1 L199.6,432.0 L199.5,434.0 L199.3,436.0 L199.3,438.0 L200.0,439.4 L201.0,440.0 L202.8,440.0 L204.0,439.4 L205.0,438.7 L206.0,437.8 L207.0,437.0 L208.9,436.0 L210.0,435.7 L212.0,435.6 L214.0,435.7 L215.3,436.0 L217.0,436.8 L218.0,437.9 L218.6,439.0 L219.0,440.6 L219.1,442.0 L219.0,443.6 L218.6,445.0 L218.0,446.2 L217.0,447.4 L216.0,448.4 L215.0,449.2 L213.9,450.0 L212.0,450.7 L210.0,450.8 L208.0,450.8 L207.0,451.0 L205.0,452.0 L204.1,453.0 L203.3,454.0 L202.5,455.0 L201.7,456.0 L200.8,457.0 L200.2,459.0 L202.0,459.8 L203.0,460.2 L205.0,460.9 L206.0,461.1 L208.0,461.4 L210.0,461.5 L212.0,461.6 L213.6,462.0 L215.0,462.8 L215.9,464.0 L216.3,465.0 L216.2,467.0 L215.7,468.0 L214.8,469.0 L213.5,470.0 L212.4,471.0 L211.6,472.0 L211.0,473.0 L210.0,474.9 L209.2,476.0 L208.2,477.0 L207.0,477.7 L205.9,478.0 L204.0,478.3 L202.0,478.4 L200.0,478.6 L198.0,479.0 L197.0,479.0Z"/>
<path d="M152.5,397.0 L153.6,396.0 L154.6,395.0 L155.8,394.0 L157.0,393.3 L159.0,393.0 L160.0,392.3 L160.0,391.7 L159.0,390.8 L157.0,390.9 L156.0,391.1 L154.2,391.0 L153.0,390.8 L151.0,390.4 L149.5,390.0 L148.0,389.6 L146.0,389.6 L145.0,390.4 L144.7,392.0 L145.0,393.3 L145.9,395.0 L146.7,396.0 L147.8,397.0 L149.0,397.7 L151.0,397.9 L152.5,397.0Z"/>
<path d="M185.2,415.0 L186.5,414.0 L187.2,413.0 L187.2,411.0 L186.3,410.0 L185.0,409.4 L184.0,409.0 L182.0,408.1 L181.0,407.6 L180.0,407.0 L178.1,406.0 L177.0,405.7 L175.0,405.4 L173.0,405.5 L171.3,406.0 L171.6,408.0 L172.1,409.0 L173.0,410.4 L174.0,411.7 L175.0,412.5 L176.0,413.1 L178.0,413.8 L179.0,414.1 L181.0,414.8 L182.0,415.1 L184.0,415.4 L185.2,415.0Z"/>
<path d="M175.3,439.0 L175.0,437.7 L174.2,436.0 L173.9,435.0 L173.0,433.5 L172.0,432.4 L171.0,431.4 L170.0,430.6 L169.0,430.0 L167.0,429.1 L166.0,428.7 L164.0,428.4 L163.3,430.0 L163.8,432.0 L164.3,433.0 L165.1,434.0 L166.1,435.0 L167.5,436.0 L168.8,437.0 L170.0,437.2 L172.0,437.7 L173.0,438.2 L174.0,439.1 L175.3,439.0Z"/>
<path d="M146.0,476.1 L144.0,476.0 L143.0,476.0 L141.0,475.8 L139.0,475.7 L137.0,475.8 L135.0,475.9 L133.0,475.8 L131.5,475.0 L130.8,474.0 L130.4,472.0 L130.2,470.0 L130.0,468.0 L129.9,467.0 L129.3,465.0 L128.9,464.0 L128.0,462.3 L127.4,461.0 L127.2,459.0 L128.0,457.3 L129.0,456.5 L130.6,456.0 L131.5,456.0 L132.9,457.0 L133.0,458.3 L133.2,460.0 L134.0,461.8 L135.0,462.4 L137.0,462.5 L138.0,462.0 L138.7,460.0 L138.0,458.5 L137.0,457.6 L136.0,456.8 L134.5,456.0 L134.2,454.0 L135.0,452.6 L136.0,451.6 L137.0,450.9 L139.0,450.2 L140.9,450.0 L141.8,449.0 L142.4,449.0 L143.0,450.0 L144.0,451.0 L145.5,452.0 L146.3,453.0 L147.0,454.3 L148.0,455.6 L149.0,456.3 L151.0,456.6 L153.0,456.2 L154.8,456.0 L155.1,456.0 L157.0,456.8 L158.0,458.0 L158.8,459.0 L159.5,460.0 L160.3,461.0 L161.1,462.0 L162.0,463.3 L162.7,465.0 L162.7,467.0 L162.0,468.5 L161.0,469.6 L160.0,470.3 L158.4,471.0 L157.0,471.5 L155.4,472.0 L154.0,472.7 L153.0,473.3 L152.0,474.0 L150.2,475.0 L149.0,475.5 L147.0,476.0 L146.0,476.1Z"/>
<path d="M97.0,485.0 L95.0,485.3 L93.0,485.2 L92.0,485.0 L90.0,484.3 L89.0,483.6 L88.0,482.1 L88.0,481.9 L89.0,480.1 L89.0,480.0 L87.0,479.6 L85.7,479.0 L84.7,478.0 L84.0,476.5 L83.7,475.0 L84.0,473.7 L85.0,472.0 L86.0,471.3 L87.0,470.8 L89.0,470.6 L90.2,471.0 L91.8,472.0 L92.6,473.0 L93.0,474.6 L93.0,475.3 L92.6,477.0 L91.9,478.0 L93.0,478.4 L95.0,478.3 L97.0,478.4 L99.0,478.8 L100.0,479.2 L101.3,480.0 L102.1,481.0 L102.0,482.8 L101.0,483.8 L100.0,484.3 L98.0,484.8 L97.0,485.0Z"/>
<path d="M178.0,400.1 L176.0,400.6 L174.0,400.7 L172.0,400.4 L171.0,400.0 L169.1,399.0 L168.0,398.4 L167.0,397.7 L165.9,397.0 L164.8,396.0 L164.0,394.0 L163.7,393.0 L163.0,391.0 L162.5,390.0 L161.9,389.0 L161.0,388.0 L159.0,387.5 L157.6,388.0 L156.0,388.6 L154.0,388.9 L152.0,388.6 L150.4,388.0 L149.2,387.0 L148.6,386.0 L148.9,384.0 L149.7,383.0 L151.0,382.1 L152.0,381.6 L154.0,381.2 L156.0,381.3 L157.7,382.0 L159.0,382.7 L160.0,383.2 L162.0,383.2 L163.1,383.0 L165.0,382.9 L166.0,383.0 L168.0,383.5 L169.6,384.0 L171.0,384.4 L172.5,385.0 L174.0,385.8 L175.0,386.5 L176.0,387.6 L177.0,389.0 L177.7,390.0 L178.3,391.0 L179.0,392.3 L180.0,393.9 L180.6,395.0 L181.0,396.6 L181.0,397.1 L180.0,398.9 L179.0,399.6 L178.0,400.1Z"/>
<path d="M206.0,474.2 L204.0,474.5 L202.0,474.3 L200.3,474.0 L199.0,473.9 L198.0,474.0 L196.0,474.5 L194.0,474.6 L192.5,474.0 L191.4,473.0 L190.7,472.0 L189.9,471.0 L189.0,469.7 L188.2,468.0 L188.5,466.0 L189.0,464.9 L190.0,463.1 L190.9,462.0 L192.0,461.1 L192.0,460.8 L190.0,460.4 L188.7,460.0 L187.0,459.2 L185.0,459.1 L183.0,459.6 L181.0,459.7 L179.7,459.0 L179.0,457.9 L178.7,456.0 L178.8,454.0 L179.0,453.0 L179.4,451.0 L179.7,449.0 L180.0,447.4 L180.3,446.0 L180.5,444.0 L180.3,442.0 L180.0,440.6 L179.5,439.0 L179.0,437.6 L178.3,436.0 L177.8,435.0 L177.1,433.0 L176.3,432.0 L175.0,431.0 L174.0,430.2 L173.0,429.4 L172.0,428.7 L170.9,428.0 L169.0,427.0 L168.0,426.5 L167.0,425.9 L165.2,425.0 L164.0,424.6 L162.0,424.0 L161.0,423.9 L159.0,424.0 L158.2,425.0 L158.8,427.0 L159.3,428.0 L160.0,429.4 L160.6,431.0 L161.0,432.0 L161.9,434.0 L162.4,435.0 L163.0,436.0 L164.0,438.0 L164.3,439.0 L165.0,440.9 L166.0,441.4 L168.0,442.0 L169.0,442.4 L170.0,443.1 L170.9,445.0 L170.9,447.0 L170.7,449.0 L170.0,450.6 L169.0,451.2 L167.0,451.3 L165.0,451.1 L163.0,451.2 L161.0,451.3 L160.0,450.9 L159.0,449.2 L158.9,448.0 L158.1,446.0 L157.6,445.0 L157.0,443.9 L156.0,442.7 L155.0,441.9 L153.0,441.2 L151.0,441.2 L149.0,441.3 L147.0,441.1 L146.0,440.8 L144.0,440.0 L143.0,439.4 L142.0,438.7 L141.0,438.0 L139.6,437.0 L138.0,436.1 L137.0,435.7 L135.0,435.2 L133.3,435.0 L132.0,434.8 L130.9,435.0 L131.0,436.3 L131.6,438.0 L132.0,439.0 L132.3,441.0 L132.0,442.6 L131.2,444.0 L130.0,444.9 L129.0,445.3 L127.0,445.7 L125.0,445.4 L123.0,445.2 L121.0,445.9 L120.3,447.0 L119.8,448.0 L119.0,449.5 L118.0,450.6 L117.0,451.2 L115.0,451.6 L113.0,451.6 L111.0,451.4 L109.3,451.0 L108.0,450.4 L107.0,449.6 L106.0,448.4 L105.0,447.0 L104.2,446.0 L103.5,445.0 L102.7,444.0 L101.4,443.0 L100.0,442.7 L98.8,443.0 L97.0,443.3 L95.0,443.1 L94.0,442.5 L93.0,441.1 L92.8,440.0 L92.9,438.0 L93.2,437.0 L93.8,435.0 L94.1,434.0 L94.7,432.0 L95.0,430.8 L95.9,429.0 L97.0,428.0 L98.0,427.4 L99.0,426.8 L100.3,426.0 L102.0,425.1 L103.0,424.6 L104.1,424.0 L106.0,423.1 L107.0,422.7 L109.0,422.1 L110.0,421.9 L111.7,422.0 L113.0,422.5 L114.0,423.3 L115.0,424.6 L116.0,426.0 L116.9,427.0 L118.0,428.0 L119.0,428.4 L120.7,428.0 L121.8,427.0 L122.6,426.0 L123.3,425.0 L123.7,423.0 L123.9,421.0 L123.4,419.0 L122.4,418.0 L121.0,417.8 L119.8,418.0 L118.0,418.3 L116.4,418.0 L115.2,417.0 L114.8,416.0 L114.6,414.0 L114.7,412.0 L114.6,410.0 L114.0,408.4 L113.0,407.5 L111.1,407.0 L110.0,406.4 L110.0,405.6 L111.0,404.9 L113.0,404.9 L114.0,405.1 L115.7,405.0 L117.0,404.6 L118.0,404.0 L119.6,403.0 L121.0,402.4 L123.0,402.3 L125.0,402.8 L126.0,403.2 L128.0,403.9 L129.0,404.1 L131.0,404.5 L133.0,404.4 L134.5,404.0 L135.6,403.0 L135.8,401.0 L135.2,399.0 L134.7,398.0 L134.0,397.0 L133.0,395.5 L132.0,394.0 L131.5,393.0 L131.0,391.3 L131.0,390.3 L131.6,389.0 L133.0,388.0 L134.0,387.7 L136.0,387.5 L137.5,388.0 L139.0,388.8 L140.0,389.4 L141.0,390.6 L141.7,392.0 L142.2,393.0 L143.0,394.7 L143.7,396.0 L144.4,397.0 L145.1,398.0 L146.0,399.0 L147.4,400.0 L149.0,400.7 L151.0,400.9 L153.0,400.2 L154.0,399.3 L155.0,398.1 L156.0,397.0 L157.0,396.4 L158.7,396.0 L159.2,396.0 L161.0,396.4 L162.1,397.0 L162.8,399.0 L162.2,401.0 L161.7,402.0 L161.0,403.4 L160.9,405.0 L160.7,407.0 L160.0,408.5 L159.0,409.8 L158.0,410.9 L157.1,412.0 L156.6,413.0 L157.0,414.8 L158.0,415.1 L159.0,414.9 L160.3,414.0 L161.4,413.0 L162.3,412.0 L163.1,411.0 L164.1,410.0 L166.0,409.1 L168.0,409.3 L169.4,410.0 L170.6,411.0 L171.5,412.0 L172.4,413.0 L173.5,414.0 L175.0,414.9 L176.0,415.2 L178.0,415.8 L179.0,416.3 L180.3,417.0 L181.6,418.0 L182.7,419.0 L184.0,419.8 L186.0,419.3 L187.0,418.8 L189.0,418.4 L189.7,420.0 L189.0,421.8 L188.0,422.8 L187.0,423.4 L185.9,424.0 L184.8,425.0 L184.0,426.7 L183.6,428.0 L183.3,430.0 L184.6,431.0 L186.0,431.6 L188.0,431.9 L190.0,431.8 L192.0,431.5 L194.0,431.6 L195.4,432.0 L196.5,433.0 L197.0,434.1 L197.2,436.0 L197.3,438.0 L197.7,440.0 L198.2,441.0 L199.1,442.0 L200.9,443.0 L202.0,443.5 L204.0,443.6 L205.4,443.0 L207.0,442.0 L208.0,441.6 L210.0,441.2 L211.8,442.0 L212.1,443.0 L211.9,444.0 L211.0,445.2 L209.6,446.0 L208.0,446.3 L206.0,446.4 L204.3,447.0 L203.1,448.0 L202.2,449.0 L201.3,450.0 L200.3,451.0 L199.0,451.9 L198.0,452.5 L197.0,453.1 L196.0,454.0 L195.1,456.0 L194.9,457.0 L194.3,459.0 L193.3,460.0 L195.0,460.3 L197.0,460.7 L198.0,461.1 L200.0,461.9 L201.0,462.2 L203.0,462.6 L205.0,463.0 L206.0,463.2 L208.0,463.7 L209.1,464.0 L211.0,465.0 L211.6,466.0 L211.1,468.0 L210.5,469.0 L209.9,470.0 L209.0,471.4 L208.0,472.7 L207.0,473.6 L206.0,474.2Z"/>
<path d="M197.0,417.0 L196.0,417.0 L194.0,416.4 L193.0,415.8 L192.6,414.0 L193.0,412.8 L194.0,411.7 L196.0,411.1 L198.0,411.4 L199.2,412.0 L200.1,413.0 L200.1,415.0 L199.4,416.0 L198.0,416.8 L197.0,417.0Z"/>
<path d="M148.0,473.2 L146.0,473.8 L144.0,474.0 L142.0,473.8 L140.0,473.5 L138.0,473.4 L136.0,473.3 L134.7,473.0 L133.1,472.0 L132.6,471.0 L132.2,469.0 L132.4,467.0 L133.0,465.9 L135.0,465.0 L136.0,464.8 L138.0,464.3 L139.0,463.9 L140.4,463.0 L141.3,462.0 L142.0,460.2 L142.1,459.0 L141.9,458.0 L141.0,456.6 L140.0,455.1 L140.0,454.9 L142.0,455.0 L142.5,456.0 L143.1,457.0 L144.1,458.0 L145.2,459.0 L146.7,460.0 L148.0,460.7 L150.0,460.8 L152.0,460.3 L154.0,460.1 L156.0,460.9 L157.0,461.8 L158.0,463.0 L158.4,464.0 L158.3,466.0 L157.4,467.0 L156.0,467.6 L154.9,468.0 L153.0,468.8 L152.0,469.7 L151.0,470.8 L150.0,471.9 L149.0,472.6 L148.0,473.2Z"/>
<path d="M90.0,478.3 L88.0,478.7 L86.2,478.0 L85.3,477.0 L84.9,476.0 L85.0,474.1 L85.6,473.0 L86.8,472.0 L88.0,471.6 L90.0,471.9 L91.0,472.6 L91.9,474.0 L92.0,475.0 L91.9,476.0 L91.0,477.5 L90.0,478.3Z"/>
<path d="M97.0,484.2 L95.0,484.4 L93.0,484.3 L91.7,484.0 L90.0,483.0 L89.5,482.0 L90.0,480.7 L91.0,480.0 L93.0,479.3 L95.0,479.1 L97.0,479.3 L99.0,479.9 L100.0,480.6 L100.7,482.0 L100.0,483.0 L98.0,483.9 L97.0,484.2Z"/>
</g>
<g clip-path="url(#cC)" fill="none" stroke="#5aa698" stroke-width="1">
<path d="M247.0,464.1 L245.0,464.5 L243.0,464.4 L241.8,464.0 L240.3,463.0 L239.2,462.0 L238.4,461.0 L237.7,460.0 L237.0,458.6 L236.2,457.0 L235.0,456.3 L233.0,456.4 L231.0,456.1 L229.0,456.3 L227.3,457.0 L226.0,458.0 L225.0,458.8 L224.0,459.3 L222.0,459.9 L221.0,460.0 L220.0,460.0 L218.0,459.5 L216.9,459.0 L215.5,458.0 L214.7,457.0 L214.0,455.1 L213.9,454.0 L214.0,452.0 L214.1,451.0 L214.2,449.0 L214.2,447.0 L214.0,445.5 L213.4,444.0 L212.2,443.0 L211.0,442.3 L210.0,441.3 L209.5,440.0 L209.5,438.0 L209.8,436.0 L210.1,435.0 L211.0,433.2 L212.0,432.0 L213.0,431.2 L214.0,430.6 L215.5,430.0 L217.0,429.4 L218.1,429.0 L218.3,427.0 L217.0,426.4 L216.0,425.6 L215.0,424.4 L214.0,423.1 L213.0,422.1 L212.0,421.7 L210.0,421.8 L208.0,421.7 L206.5,421.0 L205.1,420.0 L204.1,419.0 L203.4,418.0 L202.8,417.0 L202.1,415.0 L202.2,413.0 L203.0,411.6 L204.0,410.8 L205.6,410.0 L207.0,409.2 L208.0,408.4 L208.9,407.0 L209.3,406.0 L209.4,404.0 L209.2,402.0 L209.0,400.2 L208.8,399.0 L208.7,397.0 L208.7,395.0 L208.6,393.0 L208.1,391.0 L207.3,390.0 L206.0,389.8 L205.0,390.1 L203.4,391.0 L202.1,392.0 L201.0,392.9 L200.0,393.8 L199.0,394.7 L198.0,395.3 L196.0,395.5 L194.7,395.0 L193.4,394.0 L192.6,393.0 L191.8,392.0 L191.0,390.8 L190.0,389.5 L189.0,388.4 L188.0,387.6 L186.9,387.0 L185.0,386.0 L184.0,385.4 L183.0,384.4 L182.0,383.5 L181.0,382.8 L179.0,382.4 L177.0,382.7 L176.0,383.3 L175.0,384.0 L173.9,385.0 L172.0,385.9 L170.0,385.6 L169.0,384.9 L168.0,384.0 L167.0,383.0 L166.0,382.0 L164.9,381.0 L163.9,380.0 L163.0,378.9 L162.1,377.0 L162.0,376.0 L162.1,375.0 L162.7,373.0 L163.4,372.0 L165.0,371.2 L166.9,372.0 L168.0,372.8 L169.0,373.6 L170.0,374.4 L171.0,375.0 L173.0,375.5 L174.3,375.0 L175.5,374.0 L176.3,373.0 L177.0,371.4 L177.2,370.0 L177.1,368.0 L176.8,367.0 L176.0,365.0 L175.6,364.0 L175.1,362.0 L174.8,361.0 L173.1,360.0 L172.0,359.7 L170.0,359.4 L168.0,359.4 L166.0,359.7 L164.6,360.0 L163.0,360.4 L161.0,360.5 L159.0,360.7 L157.0,360.5 L155.8,361.0 L155.1,363.0 L156.0,364.2 L158.0,364.1 L159.0,363.8 L160.0,364.0 L161.0,365.2 L161.4,367.0 L161.0,368.2 L160.0,369.2 L158.5,370.0 L157.0,370.8 L156.0,371.3 L154.6,372.0 L153.0,372.5 L151.0,372.6 L149.0,372.4 L147.0,372.2 L145.8,372.0 L144.0,371.5 L142.8,371.0 L141.0,370.7 L139.0,370.8 L137.4,371.0 L136.0,371.2 L134.0,371.5 L132.0,371.5 L130.0,371.2 L129.0,370.8 L127.8,370.0 L126.8,369.0 L126.0,367.9 L125.0,366.1 L124.3,365.0 L123.8,364.0 L123.0,362.0 L122.7,361.0 L122.6,359.0 L123.0,357.5 L123.8,356.0 L124.7,355.0 L126.0,354.1 L127.0,353.5 L128.1,353.0 L130.0,352.4 L132.0,352.1 L133.0,351.8 L135.0,351.1 L135.8,350.0 L136.5,349.0 L137.3,348.0 L138.3,347.0 L139.9,346.0 L141.0,345.4 L142.0,344.8 L143.3,344.0 L144.4,343.0 L145.0,341.6 L145.0,340.0 L144.8,339.0 L144.0,337.0 L143.7,336.0 L143.3,334.0 L143.6,332.0 L144.1,331.0 L145.0,330.0 L146.3,329.0 L148.0,328.0 L149.0,327.5 L150.4,327.0 L152.0,326.5 L153.9,326.0 L155.0,325.6 L156.6,325.0 L158.0,324.3 L159.0,323.8 L161.0,323.2 L163.0,323.2 L165.0,323.7 L166.0,324.1 L168.0,324.9 L169.0,325.2 L170.7,326.0 L172.0,326.8 L173.0,327.5 L174.0,328.4 L175.0,329.5 L176.0,330.9 L176.7,332.0 L177.3,333.0 L178.0,334.1 L179.0,335.3 L180.0,336.3 L181.0,337.0 L183.0,337.6 L185.0,337.1 L186.0,336.4 L187.0,335.6 L188.0,334.6 L189.0,333.7 L190.1,333.0 L192.0,332.4 L194.0,332.5 L195.5,333.0 L197.0,333.7 L198.0,334.2 L199.9,335.0 L201.0,335.3 L203.0,335.6 L205.0,335.8 L206.0,336.0 L207.6,337.0 L208.4,338.0 L209.7,339.0 L210.6,340.0 L211.1,341.0 L211.9,343.0 L212.4,344.0 L213.0,345.0 L214.4,346.0 L216.0,346.5 L218.0,346.9 L219.0,347.1 L221.0,347.4 L223.0,347.8 L224.0,348.1 L226.0,348.8 L227.0,349.3 L228.1,350.0 L229.1,351.0 L230.0,352.8 L230.1,354.0 L229.8,355.0 L229.0,357.0 L228.8,358.0 L228.8,360.0 L229.1,361.0 L230.0,363.0 L230.6,364.0 L231.3,365.0 L232.1,366.0 L233.5,367.0 L235.0,367.6 L237.0,367.4 L239.0,367.3 L241.0,367.5 L243.0,367.9 L244.0,368.2 L246.0,369.0 L247.0,369.8 L247.9,371.0 L248.4,372.0 L248.6,374.0 L248.1,376.0 L247.5,377.0 L246.7,378.0 L245.6,379.0 L244.4,380.0 L243.4,381.0 L242.8,382.0 L243.0,383.6 L243.5,385.0 L243.9,387.0 L243.4,389.0 L242.8,390.0 L242.0,391.5 L241.5,393.0 L241.5,395.0 L242.0,396.1 L243.0,397.3 L244.0,398.2 L245.1,399.0 L246.4,400.0 L247.6,401.0 L248.8,402.0 L250.0,402.9 L251.0,403.8 L251.5,405.0 L251.0,406.1 L249.8,407.0 L248.0,407.6 L247.0,408.0 L245.6,409.0 L244.7,410.0 L244.0,411.0 L243.0,413.0 L242.7,414.0 L242.0,416.0 L241.6,417.0 L241.0,418.2 L240.0,419.5 L239.0,420.3 L238.0,421.0 L236.7,422.0 L235.8,423.0 L235.5,425.0 L236.3,426.0 L238.0,426.9 L239.0,427.2 L241.0,427.9 L242.0,428.4 L243.0,429.0 L244.7,430.0 L246.0,430.9 L247.0,431.6 L248.0,432.4 L249.0,433.7 L249.7,435.0 L250.0,436.2 L250.3,438.0 L250.2,440.0 L250.0,441.2 L249.5,443.0 L249.0,444.0 L249.0,445.2 L250.3,446.0 L251.4,447.0 L252.1,448.0 L253.0,450.0 L253.6,451.0 L254.4,452.0 L255.3,453.0 L256.0,454.0 L256.9,456.0 L256.8,458.0 L256.0,459.4 L255.0,460.3 L253.8,461.0 L252.0,461.8 L251.0,462.3 L249.6,463.0 L248.0,463.7 L247.0,464.1Z"/>
<path d="M130.0,334.2 L128.7,334.0 L127.0,333.0 L126.4,332.0 L126.2,330.0 L127.0,328.1 L128.0,327.0 L129.0,326.5 L131.0,326.5 L132.1,327.0 L133.1,328.0 L133.8,330.0 L133.3,332.0 L132.5,333.0 L131.0,333.9 L130.0,334.2Z"/>
<path d="M237.0,351.6 L235.0,351.6 L233.8,351.0 L232.8,350.0 L232.0,348.7 L231.3,347.0 L231.0,345.9 L230.5,344.0 L230.1,342.0 L230.0,340.0 L230.1,338.0 L230.5,336.0 L231.0,334.7 L232.0,333.0 L232.9,332.0 L234.0,331.1 L235.0,330.5 L236.7,330.0 L237.4,330.0 L239.0,330.8 L239.7,332.0 L240.2,333.0 L240.9,335.0 L241.2,336.0 L241.7,338.0 L241.9,340.0 L241.9,342.0 L241.7,344.0 L241.0,346.0 L240.7,347.0 L240.0,348.3 L239.0,349.9 L238.0,351.0 L237.0,351.6Z"/>
<path d="M207.3,358.0 L207.7,356.0 L207.5,354.0 L207.8,352.0 L208.0,351.0 L208.0,349.4 L207.0,348.0 L206.0,347.6 L204.7,348.0 L204.2,350.0 L204.7,352.0 L205.0,353.0 L205.6,355.0 L205.9,357.0 L206.8,358.0 L207.3,358.0Z"/>
<path d="M188.6,355.0 L190.0,354.3 L190.7,353.0 L190.2,351.0 L189.0,350.4 L187.7,350.0 L186.3,350.0 L185.0,350.4 L183.8,351.0 L183.0,352.0 L183.0,353.2 L184.0,354.5 L185.0,355.0 L187.0,355.2 L188.6,355.0Z"/>
<path d="M224.0,389.0 L225.2,388.0 L225.8,386.0 L225.0,384.4 L224.0,383.6 L222.9,383.0 L221.0,382.2 L220.0,381.7 L219.0,380.8 L218.0,379.2 L217.4,378.0 L217.0,376.6 L216.6,375.0 L216.0,373.1 L215.6,372.0 L215.0,370.8 L214.0,369.2 L213.0,368.1 L212.0,367.4 L210.0,367.4 L208.5,368.0 L207.1,369.0 L206.4,370.0 L206.1,372.0 L206.6,374.0 L207.0,375.3 L207.5,377.0 L208.0,378.6 L208.6,380.0 L209.6,381.0 L211.0,381.8 L212.0,382.2 L213.5,383.0 L215.0,383.8 L216.0,384.4 L217.0,385.4 L218.0,387.0 L218.6,388.0 L219.5,389.0 L221.0,389.7 L223.0,389.5 L224.0,389.0Z"/>
<path d="M278.0,496.3 L276.0,496.4 L275.0,496.0 L273.6,495.0 L272.5,494.0 L271.5,493.0 L270.6,492.0 L269.9,491.0 L269.0,489.2 L268.6,488.0 L268.4,486.0 L268.5,484.0 L268.8,482.0 L269.0,481.0 L269.7,479.0 L270.2,478.0 L271.0,476.6 L271.7,475.0 L271.6,473.0 L271.9,471.0 L272.3,470.0 L273.2,469.0 L274.7,468.0 L276.0,467.6 L278.0,467.7 L279.0,468.0 L280.5,469.0 L281.4,470.0 L282.0,471.3 L282.3,473.0 L282.3,475.0 L282.6,477.0 L283.0,478.1 L284.0,479.9 L284.7,481.0 L285.1,482.0 L285.7,484.0 L285.7,486.0 L285.0,487.8 L284.2,489.0 L283.3,490.0 L282.3,491.0 L281.5,492.0 L280.8,493.0 L280.0,494.3 L279.0,495.5 L278.0,496.3Z"/>
<path d="M252.0,473.0 L251.0,472.7 L250.0,471.7 L249.7,470.0 L250.4,469.0 L252.0,468.9 L253.0,469.5 L253.9,471.0 L253.0,472.7 L252.0,473.0Z"/>
<path d="M131.0,332.6 L129.0,332.8 L127.9,332.0 L127.6,330.0 L128.0,328.9 L129.0,328.0 L131.0,327.9 L132.0,328.6 L132.5,330.0 L132.0,331.8 L131.0,332.6Z"/>
<path d="M199.0,391.2 L197.0,391.9 L195.0,391.5 L194.0,390.7 L193.0,389.5 L192.0,388.0 L191.3,387.0 L190.5,386.0 L189.2,385.0 L188.0,384.2 L187.0,383.5 L186.0,382.7 L185.0,381.8 L184.0,380.9 L183.0,380.0 L181.7,379.0 L180.4,378.0 L179.5,377.0 L179.0,375.4 L179.0,374.7 L179.2,373.0 L179.5,371.0 L179.6,369.0 L179.4,367.0 L179.0,365.4 L178.7,364.0 L178.7,362.0 L179.0,361.0 L180.0,359.7 L181.0,358.9 L182.9,358.0 L184.0,357.7 L186.0,357.3 L188.0,357.1 L189.0,357.0 L191.0,356.3 L192.0,355.6 L193.0,354.0 L193.2,353.0 L193.4,351.0 L193.0,349.7 L191.7,349.0 L190.0,348.4 L188.2,348.0 L187.0,347.9 L185.0,347.9 L183.9,348.0 L182.0,348.2 L180.1,348.0 L179.0,347.9 L177.0,347.8 L176.0,348.1 L174.7,349.0 L174.1,351.0 L174.2,353.0 L174.1,355.0 L173.6,356.0 L172.0,356.8 L171.0,357.1 L169.0,357.4 L167.0,357.6 L165.0,357.9 L164.0,358.0 L162.0,358.0 L161.0,357.9 L159.0,357.3 L158.0,356.8 L156.0,356.0 L155.0,355.8 L154.0,356.0 L153.2,358.0 L152.9,359.0 L152.4,361.0 L152.0,362.4 L151.7,364.0 L151.3,366.0 L150.9,367.0 L149.0,367.8 L147.0,367.8 L145.0,367.6 L143.0,367.1 L142.0,366.8 L140.0,367.0 L139.0,367.4 L137.7,368.0 L136.0,368.4 L134.0,368.5 L132.2,368.0 L131.0,367.4 L130.0,366.5 L129.0,365.4 L128.0,364.1 L127.2,363.0 L126.7,362.0 L126.2,360.0 L126.9,358.0 L127.8,357.0 L129.0,356.2 L130.0,355.7 L131.9,355.0 L133.0,354.8 L135.0,354.6 L136.7,354.0 L137.9,353.0 L138.9,352.0 L140.0,351.1 L140.4,350.0 L141.2,349.0 L143.0,348.1 L144.0,347.9 L146.0,347.6 L148.0,347.5 L149.5,347.0 L150.6,346.0 L151.1,345.0 L151.0,343.0 L150.5,342.0 L149.8,341.0 L149.0,339.9 L148.0,338.3 L147.3,337.0 L146.9,336.0 L146.6,334.0 L147.0,332.9 L148.0,331.8 L149.3,331.0 L151.0,330.4 L152.4,330.0 L154.0,329.8 L155.6,330.0 L156.9,331.0 L157.5,332.0 L158.2,333.0 L159.3,334.0 L161.0,334.3 L162.0,334.0 L163.4,333.0 L164.3,332.0 L165.2,331.0 L166.2,330.0 L168.0,329.1 L170.0,329.1 L172.0,329.7 L173.0,330.3 L174.0,331.1 L175.0,332.2 L176.0,333.4 L177.0,334.8 L178.0,336.0 L178.9,337.0 L180.0,338.0 L181.0,338.7 L182.0,339.1 L184.0,339.3 L185.0,339.0 L186.8,338.0 L188.0,337.2 L189.0,336.4 L190.0,335.9 L192.0,335.3 L194.0,335.6 L195.0,336.0 L196.7,337.0 L198.0,337.9 L199.0,339.0 L199.6,340.0 L199.7,342.0 L199.0,344.0 L198.6,345.0 L198.4,347.0 L199.2,348.0 L200.0,349.1 L201.0,350.5 L201.8,352.0 L202.2,353.0 L202.6,355.0 L202.7,357.0 L203.0,358.6 L203.7,360.0 L204.8,361.0 L206.0,361.8 L207.0,362.3 L208.2,363.0 L208.4,365.0 L207.4,366.0 L206.2,367.0 L205.1,368.0 L204.3,369.0 L203.9,370.0 L204.0,372.0 L204.3,373.0 L204.7,375.0 L204.2,377.0 L203.0,377.6 L201.0,377.9 L199.7,378.0 L198.0,378.6 L197.0,379.9 L196.8,381.0 L197.0,382.0 L198.0,383.0 L200.0,383.9 L201.0,384.4 L202.0,385.1 L202.7,387.0 L202.0,388.5 L201.0,389.6 L200.0,390.5 L199.0,391.2Z"/>
<path d="M237.0,349.0 L235.0,349.1 L234.0,348.4 L233.0,347.2 L232.4,346.0 L232.0,345.0 L231.3,343.0 L231.0,341.0 L231.1,339.0 L231.4,337.0 L232.0,335.4 L232.9,334.0 L233.9,333.0 L235.0,332.3 L237.0,332.0 L238.4,333.0 L239.1,334.0 L239.9,336.0 L240.2,337.0 L240.7,339.0 L240.8,341.0 L240.6,343.0 L240.0,345.0 L239.6,346.0 L239.0,347.0 L238.0,348.3 L237.0,349.0Z"/>
<path d="M229.0,424.2 L227.0,424.8 L225.0,424.9 L223.0,424.8 L221.0,424.5 L219.4,424.0 L218.0,423.1 L217.1,422.0 L216.6,421.0 L216.0,419.3 L215.6,418.0 L215.2,416.0 L215.0,415.0 L214.0,413.0 L213.1,412.0 L212.5,411.0 L212.1,409.0 L212.1,407.0 L212.0,405.9 L211.8,404.0 L211.6,402.0 L211.5,400.0 L211.7,398.0 L212.1,397.0 L213.0,395.4 L214.0,394.1 L216.0,394.9 L218.0,394.0 L219.0,393.2 L220.0,392.6 L221.4,392.0 L223.0,391.4 L224.0,390.9 L225.3,390.0 L226.4,389.0 L227.0,388.0 L227.6,386.0 L227.1,384.0 L226.4,383.0 L225.2,382.0 L224.0,381.4 L223.0,380.9 L221.6,380.0 L220.6,379.0 L219.8,378.0 L219.0,377.0 L218.0,375.0 L217.6,374.0 L217.0,372.3 L216.5,371.0 L216.0,370.0 L215.1,368.0 L214.7,367.0 L214.0,365.4 L213.4,364.0 L213.0,362.7 L212.6,361.0 L212.1,359.0 L211.7,358.0 L211.0,356.0 L210.7,355.0 L210.7,353.0 L211.0,352.0 L212.0,350.5 L213.0,349.9 L215.0,349.6 L217.0,349.8 L218.0,350.0 L220.0,350.7 L221.0,351.2 L222.4,352.0 L223.6,353.0 L224.3,354.0 L225.0,356.0 L225.1,357.0 L225.5,359.0 L226.0,360.5 L226.6,362.0 L227.1,363.0 L228.0,364.6 L228.7,366.0 L229.3,367.0 L230.0,368.3 L230.9,370.0 L232.0,370.6 L233.3,371.0 L235.0,371.5 L236.5,372.0 L238.0,372.8 L239.0,373.8 L239.2,375.0 L238.9,376.0 L238.0,377.8 L237.5,379.0 L237.1,381.0 L237.4,383.0 L238.0,384.1 L239.0,385.3 L240.0,386.6 L240.6,388.0 L240.5,390.0 L240.0,391.4 L239.5,393.0 L239.5,395.0 L240.0,396.3 L241.0,397.7 L242.0,398.9 L243.0,400.0 L243.6,401.0 L244.0,402.6 L244.0,403.1 L243.4,405.0 L242.8,406.0 L242.0,407.5 L241.3,409.0 L240.9,410.0 L240.2,412.0 L239.8,413.0 L239.0,414.6 L238.0,415.7 L237.0,416.3 L235.3,417.0 L234.0,417.9 L233.2,419.0 L232.6,420.0 L232.0,421.0 L231.0,422.4 L230.0,423.4 L229.0,424.2Z"/>
<path d="M140.6,362.0 L141.0,361.0 L141.0,359.3 L140.3,358.0 L139.0,357.4 L138.0,358.0 L137.6,360.0 L138.0,361.4 L139.0,362.6 L140.6,362.0Z"/>
<path d="M215.0,393.7 L213.0,393.3 L212.3,392.0 L211.8,391.0 L211.5,389.0 L212.0,387.6 L213.0,387.0 L214.0,387.0 L215.3,388.0 L216.0,389.2 L216.5,391.0 L216.0,392.6 L215.0,393.7Z"/>
<path d="M224.0,455.3 L222.0,455.5 L221.0,454.9 L220.0,453.0 L219.6,452.0 L219.0,450.7 L218.2,449.0 L217.9,448.0 L217.7,446.0 L217.8,444.0 L217.6,442.0 L217.0,440.4 L216.0,439.0 L215.1,438.0 L214.4,437.0 L214.5,435.0 L215.4,434.0 L217.0,433.4 L219.0,433.0 L220.0,432.8 L221.7,432.0 L223.0,431.1 L224.0,430.0 L224.7,429.0 L225.3,428.0 L226.0,426.7 L227.0,425.7 L229.0,425.7 L230.0,426.3 L231.0,427.4 L232.0,428.8 L233.0,429.8 L234.0,430.3 L236.0,430.4 L238.0,430.1 L240.0,430.3 L241.8,431.0 L243.0,431.8 L244.0,432.7 L245.0,433.8 L245.8,435.0 L246.2,436.0 L246.5,438.0 L246.3,440.0 L245.8,441.0 L245.0,442.0 L243.1,443.0 L242.0,443.3 L240.1,444.0 L239.0,445.0 L238.5,446.0 L238.0,447.5 L237.6,449.0 L237.0,450.6 L236.1,452.0 L235.0,452.9 L234.0,453.4 L232.0,453.7 L230.0,453.8 L228.0,454.0 L227.0,454.2 L225.0,454.9 L224.0,455.3Z"/>
<path d="M249.0,461.3 L247.0,461.9 L245.0,462.0 L243.0,461.2 L242.0,460.1 L241.6,459.0 L241.5,457.0 L241.7,455.0 L242.0,453.6 L242.6,452.0 L243.3,451.0 L244.2,450.0 L245.5,449.0 L247.0,448.6 L248.2,449.0 L249.3,450.0 L250.0,451.0 L251.0,452.4 L252.0,453.5 L253.0,454.5 L254.0,456.0 L254.1,457.0 L253.8,458.0 L253.0,459.0 L251.6,460.0 L250.0,460.8 L249.0,461.3Z"/>
<path d="M278.0,493.1 L276.0,493.6 L274.4,493.0 L273.0,492.0 L272.0,491.0 L271.3,490.0 L270.7,489.0 L270.1,487.0 L270.0,486.0 L270.0,484.6 L270.2,483.0 L271.0,481.0 L271.8,480.0 L273.0,479.4 L275.0,479.2 L277.0,479.2 L278.0,479.0 L279.5,479.0 L281.0,479.7 L282.0,480.6 L283.0,481.9 L283.6,483.0 L283.9,485.0 L283.3,487.0 L282.7,488.0 L281.8,489.0 L280.8,490.0 L279.9,491.0 L279.0,492.1 L278.0,493.1Z"/>
</g>
<g clip-path="url(#cD)" fill="none" stroke="#9650be" stroke-width="1">
<path d="M501.0,390.3 L499.0,390.8 L497.0,390.2 L496.0,389.9 L494.0,389.4 L492.5,389.0 L491.0,388.2 L490.3,387.0 L490.3,385.0 L491.0,383.6 L492.0,382.6 L493.2,382.0 L495.0,381.9 L496.0,382.0 L498.0,382.6 L499.0,383.0 L500.6,384.0 L501.4,385.0 L501.8,387.0 L501.6,389.0 L501.0,390.3Z"/>
<path d="M482.0,498.2 L480.0,498.9 L478.0,498.6 L476.5,498.0 L475.0,497.3 L474.0,496.7 L473.0,496.0 L472.0,495.0 L471.0,493.4 L470.5,492.0 L470.4,490.0 L471.0,488.0 L471.6,487.0 L472.8,486.0 L474.0,485.4 L475.0,485.0 L476.4,484.0 L477.0,483.0 L477.6,481.0 L478.0,479.4 L478.7,478.0 L479.7,477.0 L481.0,476.4 L482.3,476.0 L482.6,474.0 L483.0,473.0 L484.0,471.4 L484.8,470.0 L485.4,469.0 L486.0,467.5 L486.4,466.0 L486.7,464.0 L487.0,462.8 L488.0,461.3 L490.0,461.9 L490.9,463.0 L491.3,464.0 L491.6,466.0 L492.0,467.2 L493.0,468.7 L494.0,469.6 L495.0,470.2 L497.0,470.5 L497.0,469.5 L496.3,468.0 L495.8,467.0 L495.0,465.2 L494.5,464.0 L495.0,462.1 L495.5,461.0 L496.3,460.0 L497.0,459.0 L498.0,457.6 L498.6,456.0 L498.9,454.0 L499.0,453.0 L499.6,451.0 L500.2,450.0 L501.3,449.0 L503.0,448.1 L504.0,447.7 L505.3,447.0 L506.2,446.0 L507.0,444.0 L507.2,443.0 L508.0,441.2 L508.6,440.0 L509.2,439.0 L510.0,437.8 L511.0,436.0 L511.4,435.0 L511.9,433.0 L511.7,431.0 L511.0,429.8 L509.0,429.3 L507.9,430.0 L507.0,431.1 L506.0,432.9 L505.5,434.0 L505.0,435.1 L504.3,437.0 L504.0,438.0 L503.6,440.0 L503.0,441.7 L502.0,442.9 L501.0,443.6 L499.0,443.9 L497.0,443.6 L495.3,443.0 L494.0,442.7 L492.9,443.0 L492.2,445.0 L492.1,447.0 L491.9,448.0 L491.4,450.0 L491.0,451.4 L490.5,453.0 L490.0,454.8 L489.7,456.0 L489.2,458.0 L488.8,459.0 L488.0,460.3 L486.0,460.5 L484.6,460.0 L483.0,459.3 L482.0,458.7 L480.8,458.0 L479.5,457.0 L478.4,456.0 L477.6,455.0 L477.0,454.0 L476.1,452.0 L475.9,451.0 L475.1,449.0 L474.0,448.1 L473.0,447.8 L471.0,447.6 L469.0,447.6 L467.0,447.5 L465.0,447.0 L464.0,446.2 L463.0,445.1 L462.2,444.0 L461.5,443.0 L460.8,442.0 L459.9,441.0 L459.0,439.9 L458.0,438.7 L457.0,437.5 L456.0,436.3 L455.0,435.6 L453.0,435.1 L451.9,435.0 L450.4,434.0 L449.9,433.0 L449.5,431.0 L449.2,429.0 L449.1,427.0 L449.4,425.0 L449.4,423.0 L449.8,421.0 L450.1,420.0 L450.5,418.0 L450.4,416.0 L450.0,414.7 L450.0,413.0 L451.0,412.7 L452.7,412.0 L453.8,411.0 L454.4,410.0 L455.0,409.0 L455.9,407.0 L456.3,406.0 L456.9,404.0 L457.0,403.0 L457.0,401.7 L456.5,400.0 L456.4,398.0 L456.3,396.0 L456.0,394.7 L455.3,393.0 L454.9,392.0 L454.3,390.0 L454.3,388.0 L455.0,386.2 L455.9,385.0 L457.0,384.2 L458.0,383.8 L460.0,383.5 L462.0,383.6 L463.5,384.0 L465.0,384.7 L466.0,385.4 L467.0,386.4 L468.0,387.8 L469.0,388.9 L470.0,389.2 L472.0,389.5 L474.0,389.5 L476.0,389.4 L478.0,389.9 L479.0,390.3 L480.1,391.0 L482.0,392.0 L483.0,392.4 L484.3,393.0 L486.0,393.5 L487.9,394.0 L489.0,394.4 L490.1,395.0 L491.7,396.0 L493.0,396.8 L494.0,397.2 L496.0,397.3 L497.3,397.0 L499.0,396.1 L500.0,395.3 L501.0,394.4 L502.0,393.8 L504.0,393.4 L506.0,393.2 L507.0,393.0 L509.0,392.8 L511.0,392.9 L513.0,392.3 L514.0,391.3 L515.0,390.6 L516.4,390.0 L518.0,389.7 L520.0,389.9 L521.0,390.3 L522.0,391.0 L523.0,392.4 L523.8,394.0 L524.1,395.0 L524.7,397.0 L525.0,398.7 L525.2,400.0 L525.6,402.0 L526.0,403.2 L527.0,404.3 L528.5,404.0 L530.0,403.1 L531.0,402.8 L532.3,403.0 L534.0,403.7 L535.0,404.3 L536.1,405.0 L537.5,406.0 L538.8,407.0 L539.8,408.0 L540.7,409.0 L541.5,410.0 L542.3,411.0 L543.3,412.0 L545.0,412.9 L546.0,413.1 L548.0,413.4 L550.0,414.0 L551.0,414.5 L552.0,415.5 L552.6,417.0 L552.5,419.0 L552.0,420.7 L552.0,421.3 L552.3,423.0 L552.7,425.0 L553.2,426.0 L554.4,427.0 L556.0,427.5 L558.0,427.9 L559.0,428.2 L560.4,429.0 L561.5,430.0 L562.3,431.0 L563.0,432.0 L564.0,433.8 L564.6,435.0 L565.0,436.0 L565.5,438.0 L565.3,440.0 L564.8,441.0 L564.0,442.2 L563.0,443.4 L562.0,444.6 L561.0,446.0 L560.6,447.0 L560.9,449.0 L561.3,450.0 L562.0,451.2 L563.0,453.0 L563.5,454.0 L564.0,455.3 L564.6,457.0 L565.1,458.0 L566.0,459.1 L568.0,459.5 L570.0,459.7 L572.0,459.9 L573.0,460.2 L574.6,461.0 L575.7,462.0 L576.6,463.0 L577.4,464.0 L578.2,465.0 L579.4,466.0 L581.0,467.0 L582.0,467.4 L583.2,468.0 L584.7,469.0 L585.7,470.0 L586.3,471.0 L586.7,473.0 L586.5,475.0 L586.0,476.6 L585.3,478.0 L584.6,479.0 L583.6,480.0 L582.5,481.0 L581.2,482.0 L580.0,483.0 L579.0,483.9 L578.0,484.8 L577.0,486.0 L576.2,487.0 L575.5,488.0 L574.7,489.0 L573.9,490.0 L572.9,491.0 L571.5,492.0 L570.0,492.5 L568.0,492.5 L566.2,492.0 L565.0,491.7 L563.0,491.5 L561.0,491.6 L559.0,491.9 L557.0,491.7 L555.2,491.0 L554.2,490.0 L553.7,489.0 L553.8,487.0 L553.9,485.0 L553.0,483.2 L552.0,482.3 L551.0,481.7 L549.7,481.0 L548.0,480.1 L547.0,479.5 L546.0,478.8 L545.0,478.0 L544.0,476.8 L543.4,475.0 L544.0,473.0 L544.4,472.0 L545.0,470.8 L545.6,469.0 L545.0,467.3 L544.0,466.2 L543.0,465.5 L541.0,465.6 L540.0,466.5 L539.1,468.0 L538.7,469.0 L538.3,471.0 L538.0,472.2 L537.0,473.9 L536.0,474.5 L534.5,475.0 L533.0,475.3 L531.0,475.9 L530.0,476.4 L529.0,478.0 L528.8,479.0 L528.0,480.1 L527.4,479.0 L527.7,477.0 L527.0,476.0 L525.0,476.0 L524.9,477.0 L524.8,479.0 L524.0,480.7 L523.0,481.4 L521.7,482.0 L520.0,482.7 L519.0,483.0 L517.0,483.4 L515.0,483.3 L513.9,483.0 L512.0,482.2 L511.0,481.5 L510.0,480.5 L509.0,479.0 L508.6,478.0 L508.0,476.0 L507.4,475.0 L506.0,474.3 L504.2,475.0 L504.0,476.9 L503.6,478.0 L502.8,479.0 L501.5,480.0 L500.0,480.7 L498.0,480.7 L496.0,480.0 L495.0,479.7 L493.0,479.3 L491.0,479.4 L489.0,479.7 L487.0,479.9 L486.7,481.0 L486.8,483.0 L487.0,485.0 L487.1,486.0 L487.3,488.0 L487.0,489.9 L486.5,491.0 L485.9,492.0 L485.0,493.4 L484.1,495.0 L483.6,496.0 L483.0,497.1 L482.0,498.2Z"/>
<path d="M483.8,407.0 L484.4,406.0 L484.6,404.0 L484.0,402.3 L483.0,401.7 L482.0,402.1 L480.8,403.0 L479.8,404.0 L480.0,406.0 L481.0,406.8 L482.0,407.3 L483.8,407.0Z"/>
<path d="M517.6,420.0 L517.6,418.0 L517.0,416.8 L516.0,415.5 L515.0,414.7 L513.0,414.5 L512.6,416.0 L513.0,417.6 L513.9,419.0 L514.8,420.0 L516.0,420.8 L517.6,420.0Z"/>
<path d="M467.1,439.0 L468.0,437.6 L468.5,436.0 L468.6,434.0 L468.0,432.8 L466.0,432.6 L465.0,433.4 L464.0,434.4 L463.0,435.9 L462.7,437.0 L463.0,438.4 L464.0,439.6 L466.0,439.9 L467.1,439.0Z"/>
<path d="M555.4,463.0 L557.0,462.0 L557.3,461.0 L557.7,459.0 L557.2,457.0 L556.8,456.0 L556.0,454.5 L555.0,453.1 L554.0,452.2 L553.0,451.7 L551.0,451.8 L550.0,452.0 L548.0,452.9 L547.0,453.4 L545.6,454.0 L544.0,454.6 L542.1,455.0 L541.0,455.2 L539.0,455.7 L538.0,456.0 L537.3,458.0 L538.4,459.0 L540.0,459.8 L542.0,459.9 L544.0,459.4 L546.0,459.0 L547.0,459.0 L548.0,459.1 L550.0,459.7 L551.0,460.3 L552.0,461.0 L553.2,462.0 L554.0,463.0 L555.4,463.0Z"/>
<path d="M561.5,474.0 L563.0,473.2 L564.0,472.2 L564.4,471.0 L564.0,469.8 L563.0,468.9 L561.0,468.3 L559.0,468.2 L557.3,469.0 L556.9,470.0 L557.0,471.3 L557.8,473.0 L559.0,474.0 L560.0,474.2 L561.5,474.0Z"/>
<path d="M549.0,492.2 L547.0,492.8 L545.0,493.0 L543.0,492.7 L541.5,492.0 L540.3,491.0 L539.4,490.0 L538.8,489.0 L538.8,487.0 L540.0,486.3 L541.0,486.0 L543.0,485.6 L545.0,485.5 L547.0,485.6 L548.5,486.0 L550.0,486.6 L551.0,487.3 L552.0,489.0 L551.0,491.0 L550.0,491.7 L549.0,492.2Z"/>
<path d="M518.0,480.3 L516.0,480.7 L514.0,480.3 L513.0,479.7 L512.0,478.5 L511.4,477.0 L511.0,475.0 L510.7,474.0 L510.0,472.5 L509.0,471.7 L507.4,471.0 L506.0,470.6 L504.3,470.0 L503.0,469.5 L501.9,469.0 L500.4,468.0 L499.3,467.0 L498.5,466.0 L497.9,465.0 L497.4,463.0 L497.8,461.0 L498.4,460.0 L499.1,459.0 L500.0,457.8 L500.9,456.0 L501.0,454.4 L501.3,453.0 L502.0,451.8 L503.0,451.0 L505.0,450.3 L506.1,450.0 L507.8,449.0 L508.5,448.0 L509.0,446.2 L509.2,445.0 L509.7,443.0 L510.0,442.0 L510.9,440.0 L511.4,439.0 L512.0,437.9 L512.8,436.0 L513.1,435.0 L513.5,433.0 L513.6,431.0 L513.4,429.0 L513.0,427.2 L512.0,426.3 L510.0,426.2 L508.0,426.9 L507.0,427.9 L506.4,429.0 L505.9,430.0 L505.0,432.0 L504.5,433.0 L503.9,434.0 L503.0,435.4 L502.0,436.9 L501.2,438.0 L500.2,439.0 L499.0,439.2 L498.0,438.5 L497.0,437.3 L496.0,436.2 L495.0,435.4 L494.0,434.9 L492.0,434.6 L490.0,434.1 L489.3,433.0 L488.9,432.0 L488.1,430.0 L487.5,429.0 L486.8,428.0 L485.9,427.0 L484.9,426.0 L483.7,425.0 L482.4,424.0 L481.0,423.6 L480.4,425.0 L480.0,426.3 L479.5,428.0 L479.0,429.4 L478.4,431.0 L478.0,433.0 L479.0,434.8 L480.0,435.6 L482.0,435.9 L484.0,435.7 L486.0,435.6 L487.6,436.0 L487.4,438.0 L486.8,439.0 L485.9,440.0 L484.9,441.0 L483.9,442.0 L482.8,443.0 L481.0,443.1 L480.0,442.8 L478.0,442.4 L476.0,442.4 L474.0,442.2 L473.0,441.8 L472.0,440.2 L471.9,439.0 L472.0,438.0 L472.5,436.0 L473.0,434.3 L473.1,433.0 L472.7,432.0 L471.9,431.0 L470.9,430.0 L469.9,429.0 L469.0,427.9 L468.0,426.1 L467.1,425.0 L466.3,424.0 L465.5,423.0 L464.4,422.0 L463.0,421.7 L461.9,422.0 L460.5,423.0 L459.3,424.0 L458.0,424.6 L456.0,424.6 L454.9,424.0 L454.2,422.0 L454.8,420.0 L455.2,419.0 L456.0,417.0 L456.3,416.0 L456.9,414.0 L457.1,413.0 L457.4,411.0 L457.9,409.0 L458.1,408.0 L458.6,406.0 L458.9,404.0 L459.0,402.1 L459.0,402.0 L458.3,400.0 L458.1,398.0 L458.0,396.3 L457.7,395.0 L457.0,393.1 L456.5,392.0 L456.0,390.0 L456.3,388.0 L457.0,386.8 L458.0,386.0 L460.0,385.4 L462.0,385.6 L463.1,386.0 L464.6,387.0 L465.5,388.0 L466.2,389.0 L467.0,390.3 L468.0,391.8 L469.0,392.6 L470.6,393.0 L472.0,393.4 L474.0,394.0 L475.0,394.3 L477.0,395.0 L478.0,395.6 L479.0,396.8 L479.2,398.0 L479.0,399.0 L478.0,400.1 L476.4,401.0 L475.0,401.4 L473.2,402.0 L472.0,402.7 L471.0,403.4 L470.0,404.2 L469.0,405.0 L467.9,406.0 L466.9,407.0 L466.0,408.0 L465.0,409.9 L464.8,411.0 L465.0,412.8 L465.5,414.0 L466.4,415.0 L467.9,416.0 L469.0,416.4 L471.0,417.0 L472.0,417.2 L474.0,417.9 L475.0,418.2 L476.2,419.0 L478.0,419.6 L478.0,418.1 L477.0,417.7 L476.0,416.7 L475.0,415.0 L474.6,414.0 L474.2,412.0 L474.8,410.0 L476.0,409.1 L477.0,408.8 L478.3,409.0 L480.0,409.7 L481.0,410.3 L482.6,411.0 L483.1,411.0 L485.0,410.1 L486.0,409.0 L486.5,408.0 L487.0,407.0 L487.5,405.0 L487.7,403.0 L487.8,401.0 L488.2,400.0 L490.0,399.1 L492.0,399.5 L494.0,400.0 L495.0,400.0 L496.0,400.0 L498.0,399.5 L499.5,399.0 L501.0,398.6 L503.0,398.3 L505.0,398.2 L507.0,398.8 L508.0,399.9 L508.7,401.0 L509.6,402.0 L511.0,402.5 L513.0,402.3 L514.5,402.0 L516.0,401.6 L518.0,401.2 L520.0,401.2 L521.4,402.0 L522.3,403.0 L523.0,404.3 L523.8,406.0 L524.3,407.0 L525.0,408.0 L527.0,409.0 L529.0,408.4 L530.0,407.7 L531.2,407.0 L533.0,406.7 L534.1,407.0 L535.9,408.0 L537.0,409.0 L537.8,410.0 L538.3,411.0 L538.7,413.0 L538.2,415.0 L537.8,416.0 L537.0,417.6 L536.4,419.0 L536.0,420.4 L535.9,422.0 L536.1,423.0 L537.0,424.8 L537.8,426.0 L539.0,426.7 L540.0,427.0 L542.0,427.4 L544.0,427.9 L545.0,428.2 L546.7,429.0 L548.0,429.7 L549.0,430.2 L550.3,431.0 L552.0,431.9 L553.0,432.3 L555.0,432.7 L557.0,432.6 L558.5,433.0 L559.8,434.0 L560.5,435.0 L561.0,436.2 L561.1,438.0 L560.6,439.0 L559.0,439.8 L557.0,439.3 L555.0,439.2 L553.9,440.0 L553.0,441.0 L552.0,442.8 L551.5,444.0 L551.0,445.9 L550.7,447.0 L550.0,448.3 L549.0,449.5 L548.0,450.4 L547.0,451.1 L545.6,452.0 L544.0,452.7 L543.0,453.0 L541.0,453.4 L539.0,453.6 L537.0,453.6 L535.0,453.6 L533.0,453.5 L531.0,453.4 L529.0,453.1 L528.0,453.0 L527.0,453.1 L525.9,454.0 L525.4,456.0 L526.0,457.4 L527.0,458.1 L529.0,458.5 L531.0,458.8 L532.0,459.0 L534.0,459.7 L535.0,460.3 L536.0,461.0 L537.1,462.0 L537.8,464.0 L537.2,466.0 L536.7,467.0 L536.0,468.3 L535.0,469.7 L534.0,470.4 L532.0,470.8 L530.0,470.8 L528.0,470.9 L526.0,470.9 L524.0,471.0 L523.0,471.8 L522.5,473.0 L522.0,474.4 L521.4,476.0 L521.0,477.0 L520.0,478.6 L519.0,479.6 L518.0,480.3Z"/>
<path d="M522.3,426.0 L523.3,425.0 L523.9,423.0 L523.3,421.0 L522.7,420.0 L522.0,418.8 L521.0,417.1 L520.2,416.0 L519.4,415.0 L518.4,414.0 L517.4,413.0 L516.2,412.0 L515.0,411.1 L514.0,410.4 L513.0,409.8 L511.6,409.0 L510.1,408.0 L509.0,407.5 L508.0,408.1 L507.5,410.0 L507.6,412.0 L508.0,414.0 L508.1,415.0 L508.5,417.0 L509.0,418.7 L509.6,420.0 L510.3,421.0 L511.1,422.0 L512.0,423.5 L512.9,425.0 L514.0,425.8 L516.0,426.0 L517.0,426.1 L519.0,426.2 L521.0,426.3 L522.3,426.0Z"/>
<path d="M538.2,441.0 L539.5,440.0 L540.0,439.0 L540.0,437.2 L539.3,436.0 L538.0,435.3 L536.0,435.2 L534.4,436.0 L533.5,437.0 L533.3,439.0 L534.0,440.2 L535.0,441.1 L537.0,441.3 L538.2,441.0Z"/>
<path d="M486.0,455.4 L484.0,455.3 L483.0,454.8 L481.9,454.0 L481.0,453.0 L480.2,451.0 L480.2,449.0 L480.9,447.0 L481.4,446.0 L482.0,445.0 L484.0,444.7 L485.0,445.2 L486.5,446.0 L488.0,447.0 L488.6,448.0 L489.0,450.0 L488.6,452.0 L488.0,453.4 L487.0,454.9 L486.0,455.4Z"/>
<path d="M570.0,488.1 L568.0,488.3 L566.0,488.1 L565.0,487.9 L563.0,487.8 L561.0,487.6 L559.0,487.1 L558.0,486.2 L557.3,485.0 L556.9,484.0 L556.0,482.4 L555.0,481.3 L554.0,480.6 L552.8,480.0 L551.0,479.2 L550.0,478.7 L548.9,478.0 L547.8,477.0 L547.0,475.9 L546.6,474.0 L547.0,472.3 L547.5,471.0 L548.0,470.0 L549.0,468.2 L550.0,467.2 L552.0,467.3 L553.0,468.1 L554.0,469.6 L554.6,471.0 L555.0,472.0 L556.0,473.7 L557.0,474.9 L558.0,475.6 L560.0,475.9 L562.0,475.4 L563.0,474.9 L564.5,474.0 L565.7,473.0 L566.4,472.0 L566.7,470.0 L566.0,468.6 L565.0,467.7 L563.4,467.0 L562.0,466.5 L560.7,466.0 L559.7,465.0 L560.0,463.7 L561.0,462.7 L562.6,462.0 L564.0,461.9 L565.7,462.0 L567.0,462.2 L569.0,462.6 L571.0,463.0 L572.0,463.4 L573.0,464.0 L574.1,465.0 L575.0,466.0 L576.0,467.2 L577.0,468.2 L578.2,469.0 L580.0,469.8 L581.0,470.4 L582.0,471.0 L583.0,472.3 L583.3,474.0 L583.0,475.3 L582.0,476.8 L581.0,477.6 L580.0,478.2 L578.1,479.0 L577.0,479.7 L576.0,481.0 L575.5,482.0 L574.9,483.0 L574.0,484.5 L573.0,485.9 L572.0,486.9 L571.0,487.6 L570.0,488.1Z"/>
<path d="M479.0,495.1 L477.8,495.0 L476.0,494.3 L475.0,493.7 L474.0,492.9 L473.0,491.0 L473.0,490.0 L473.3,489.0 L474.4,488.0 L476.0,487.7 L477.0,488.1 L478.2,489.0 L479.7,490.0 L480.5,490.0 L481.3,489.0 L481.0,487.5 L480.3,486.0 L479.8,485.0 L479.4,483.0 L479.5,481.0 L480.0,479.8 L481.0,478.9 L483.0,479.0 L484.0,480.0 L484.4,481.0 L484.5,483.0 L484.3,485.0 L484.0,486.9 L483.7,488.0 L483.0,489.5 L482.0,490.5 L481.3,492.0 L481.0,493.0 L480.0,494.7 L479.0,495.1Z"/>
<path d="M546.0,491.1 L544.0,491.0 L543.0,490.4 L542.6,489.0 L544.0,488.2 L546.0,488.1 L548.0,488.9 L548.1,490.0 L547.0,490.8 L546.0,491.1Z"/>
</g>
<g clip-path="url(#cD)" fill="none" stroke="#5aa698" stroke-width="1">
<path d="M576.0,335.5 L574.0,335.7 L572.7,335.0 L571.6,334.0 L570.9,333.0 L570.2,331.0 L570.1,329.0 L570.8,327.0 L571.5,326.0 L573.0,325.1 L574.0,324.8 L575.2,325.0 L576.8,326.0 L577.6,327.0 L578.1,328.0 L578.7,330.0 L578.6,332.0 L578.0,333.6 L577.0,334.9 L576.0,335.5Z"/>
<path d="M559.0,342.1 L557.0,342.5 L555.0,342.3 L554.0,341.9 L552.9,341.0 L552.0,339.9 L551.0,338.6 L550.0,337.7 L548.7,337.0 L547.2,336.0 L546.5,335.0 L546.5,333.0 L547.2,332.0 L548.2,331.0 L550.0,330.0 L551.0,329.7 L553.0,329.3 L555.0,329.1 L556.0,328.9 L558.0,328.7 L560.0,328.8 L561.0,329.1 L562.6,330.0 L563.6,331.0 L564.2,332.0 L564.7,334.0 L564.6,336.0 L564.0,337.7 L563.3,339.0 L562.5,340.0 L561.3,341.0 L560.0,341.7 L559.0,342.1Z"/>
<path d="M487.0,352.3 L485.0,352.7 L483.0,352.5 L481.9,352.0 L480.6,351.0 L479.8,350.0 L479.1,348.0 L479.0,346.5 L478.9,345.0 L478.9,343.0 L479.0,342.0 L479.8,340.0 L480.7,339.0 L482.0,338.2 L483.0,337.8 L485.0,337.4 L487.0,337.5 L488.6,338.0 L490.0,338.9 L491.0,339.9 L491.8,341.0 L492.2,342.0 L492.6,344.0 L492.5,346.0 L492.0,347.5 L491.3,349.0 L490.5,350.0 L489.5,351.0 L488.0,351.9 L487.0,352.3Z"/>
<path d="M583.0,443.4 L581.0,443.8 L579.0,443.5 L577.0,443.1 L576.0,443.0 L574.0,442.8 L572.0,442.5 L570.5,442.0 L569.0,441.3 L568.0,440.8 L566.5,440.0 L565.0,439.4 L564.0,439.0 L562.0,438.4 L560.0,438.1 L558.0,438.1 L556.0,438.7 L555.0,439.3 L553.7,440.0 L552.0,440.6 L550.0,440.3 L549.0,439.5 L548.0,438.0 L547.6,437.0 L547.0,435.2 L546.6,434.0 L546.2,432.0 L546.1,430.0 L546.0,428.7 L545.8,427.0 L545.3,425.0 L545.0,423.4 L544.9,422.0 L545.0,420.2 L545.2,419.0 L546.0,417.1 L546.9,416.0 L548.0,415.1 L549.0,414.5 L550.0,413.8 L551.0,412.5 L551.7,411.0 L552.1,410.0 L552.8,408.0 L553.3,407.0 L554.0,405.4 L555.0,404.3 L557.0,404.2 L559.0,404.3 L561.0,404.2 L562.2,404.0 L564.0,403.2 L565.0,402.3 L566.0,401.0 L566.4,400.0 L566.8,398.0 L566.0,396.0 L565.0,395.3 L564.0,394.9 L562.8,395.0 L561.0,395.6 L560.0,396.1 L558.9,397.0 L557.9,398.0 L557.0,399.1 L556.0,400.5 L555.2,402.0 L554.4,403.0 L553.0,403.5 L551.3,403.0 L550.0,403.0 L548.0,402.6 L546.2,402.0 L545.0,401.6 L543.6,401.0 L542.0,400.4 L541.0,399.8 L540.0,398.8 L539.2,397.0 L539.0,396.0 L538.5,394.0 L538.0,392.5 L537.0,391.8 L535.7,392.0 L534.0,392.9 L533.0,393.6 L532.0,394.3 L530.5,395.0 L529.0,395.2 L528.0,394.8 L527.0,393.8 L526.3,392.0 L526.0,391.0 L525.5,389.0 L525.0,387.0 L524.8,386.0 L524.3,384.0 L524.3,382.0 L525.0,380.1 L526.0,379.3 L527.6,379.0 L529.0,379.0 L531.0,378.8 L533.0,378.4 L534.9,378.0 L536.0,377.7 L538.0,377.2 L539.0,376.5 L539.7,375.0 L539.4,373.0 L539.0,371.7 L538.1,370.0 L537.3,369.0 L536.2,368.0 L535.0,367.3 L534.0,366.9 L533.0,366.0 L532.4,364.0 L533.0,362.7 L534.0,361.7 L535.2,361.0 L537.0,360.1 L538.0,359.5 L539.0,358.7 L540.0,357.7 L540.8,356.0 L540.5,354.0 L539.4,353.0 L538.0,352.7 L536.0,352.8 L534.0,353.0 L533.0,353.0 L531.0,353.3 L529.5,354.0 L528.7,355.0 L528.0,356.7 L527.6,358.0 L527.0,359.8 L526.5,361.0 L525.8,362.0 L525.0,363.2 L524.0,364.8 L523.4,366.0 L523.0,367.1 L522.5,369.0 L522.3,371.0 L522.6,373.0 L522.8,375.0 L522.0,376.7 L521.0,377.4 L520.0,378.0 L518.0,379.0 L517.0,379.4 L515.0,379.9 L514.0,380.1 L512.0,380.2 L510.0,380.0 L509.0,379.8 L507.4,379.0 L506.2,378.0 L505.4,377.0 L504.7,376.0 L504.0,375.0 L503.0,373.9 L502.0,372.7 L501.1,371.0 L500.7,370.0 L500.4,368.0 L500.3,366.0 L500.3,364.0 L500.1,362.0 L500.1,360.0 L500.3,358.0 L500.9,356.0 L501.4,355.0 L502.2,354.0 L503.3,353.0 L504.8,352.0 L506.0,351.1 L507.0,350.3 L508.0,349.5 L509.0,348.7 L510.3,348.0 L512.0,347.8 L514.0,347.9 L516.0,347.7 L518.0,347.3 L519.9,347.0 L521.0,346.9 L523.0,346.7 L525.0,346.6 L526.6,346.0 L527.9,345.0 L529.0,344.0 L530.0,343.1 L531.0,342.4 L532.2,342.0 L534.0,341.9 L535.0,342.2 L536.2,343.0 L537.3,344.0 L538.2,345.0 L539.0,346.1 L540.0,347.5 L541.0,348.7 L542.0,349.8 L543.0,350.7 L544.0,351.7 L544.7,353.0 L545.3,354.0 L547.0,354.7 L548.0,356.0 L548.3,357.0 L548.7,359.0 L549.0,360.0 L550.0,361.4 L551.0,362.3 L552.0,363.0 L554.0,363.8 L556.0,363.5 L557.1,363.0 L559.0,362.4 L561.0,362.3 L562.9,363.0 L564.0,363.6 L565.0,364.3 L566.2,365.0 L568.0,365.5 L569.0,365.0 L570.5,364.0 L572.0,363.3 L574.0,363.0 L576.0,363.9 L576.8,365.0 L577.3,366.0 L577.3,368.0 L576.9,369.0 L576.0,370.0 L574.0,370.8 L572.0,370.5 L570.9,370.0 L569.1,369.0 L568.0,368.6 L566.9,369.0 L565.7,370.0 L564.5,371.0 L563.0,371.8 L561.0,371.9 L559.0,371.3 L558.0,371.0 L556.5,371.0 L555.0,372.0 L554.3,373.0 L554.0,374.0 L554.1,375.0 L555.0,376.1 L556.7,377.0 L558.0,377.3 L560.0,377.8 L561.0,378.1 L563.0,378.9 L564.0,379.4 L565.1,380.0 L567.0,381.0 L568.0,381.6 L569.0,382.2 L570.1,383.0 L571.3,384.0 L572.6,385.0 L573.9,386.0 L575.0,386.3 L577.0,386.6 L579.0,386.8 L581.0,386.4 L582.0,386.0 L583.6,385.0 L585.0,384.4 L586.0,385.5 L587.0,387.0 L587.8,388.0 L588.6,389.0 L589.6,390.0 L591.0,390.8 L593.0,390.6 L594.4,390.0 L596.0,389.1 L597.0,388.5 L598.0,387.9 L599.6,387.0 L601.0,386.4 L602.8,386.0 L604.0,386.0 L605.0,386.2 L606.0,387.0 L606.5,389.0 L606.0,391.0 L605.5,392.0 L604.8,393.0 L604.0,394.0 L603.1,396.0 L603.6,398.0 L604.3,399.0 L605.2,400.0 L606.2,401.0 L607.1,402.0 L607.7,404.0 L607.1,406.0 L606.6,407.0 L606.0,408.5 L605.8,410.0 L606.0,411.2 L607.0,412.4 L608.0,413.4 L609.0,414.7 L609.5,416.0 L609.7,418.0 L609.2,420.0 L608.3,421.0 L607.0,421.9 L606.0,422.7 L605.0,423.8 L604.4,425.0 L604.3,427.0 L605.0,428.8 L605.5,430.0 L605.9,432.0 L605.6,434.0 L605.0,435.0 L603.0,435.9 L602.0,436.1 L600.0,436.6 L598.8,437.0 L597.2,438.0 L596.1,439.0 L595.2,440.0 L594.3,441.0 L593.0,441.9 L591.0,441.6 L589.3,441.0 L588.6,441.0 L587.0,441.4 L585.7,442.0 L584.0,443.0 L583.0,443.4Z"/>
<path d="M611.0,491.1 L609.0,491.9 L607.0,491.6 L605.7,491.0 L604.0,490.2 L603.0,489.9 L601.0,489.9 L600.0,490.1 L598.0,490.9 L597.0,491.3 L595.0,491.6 L593.0,491.3 L592.0,490.9 L590.4,490.0 L589.3,489.0 L588.5,488.0 L588.0,487.0 L587.3,485.0 L587.0,483.7 L586.6,482.0 L586.4,480.0 L586.4,478.0 L587.0,476.4 L588.0,475.9 L589.2,476.0 L591.0,476.7 L592.0,477.3 L593.0,478.0 L594.3,479.0 L595.5,480.0 L596.9,481.0 L598.0,481.7 L599.0,482.2 L601.0,482.6 L602.1,482.0 L602.0,480.2 L601.3,479.0 L600.6,478.0 L599.9,477.0 L599.0,475.8 L598.0,474.7 L597.0,473.7 L596.0,472.9 L594.8,472.0 L593.6,471.0 L592.6,470.0 L591.7,469.0 L590.0,468.5 L588.3,468.0 L587.0,467.4 L586.0,466.6 L585.0,465.0 L584.8,464.0 L584.9,462.0 L585.2,461.0 L586.0,459.0 L586.2,458.0 L586.1,456.0 L586.2,454.0 L586.6,452.0 L587.0,450.8 L588.0,449.2 L589.0,448.1 L590.0,447.2 L591.0,446.4 L592.0,445.6 L593.1,445.0 L595.0,444.5 L597.0,444.7 L599.0,444.7 L601.0,444.3 L602.0,443.7 L603.0,442.8 L604.0,441.5 L605.0,440.1 L606.0,439.1 L607.0,438.6 L609.0,438.5 L611.0,438.7 L613.0,438.8 L615.0,438.8 L617.0,438.4 L618.0,437.6 L618.7,436.0 L619.0,434.8 L619.1,433.0 L619.0,432.0 L618.0,430.1 L617.0,429.4 L616.0,428.8 L614.6,428.0 L613.6,427.0 L613.1,425.0 L614.0,423.6 L615.8,423.0 L616.3,423.0 L618.0,423.3 L619.4,424.0 L621.0,424.9 L622.0,425.4 L624.0,426.0 L625.0,426.3 L626.5,427.0 L627.3,428.0 L628.0,430.0 L628.3,431.0 L629.0,432.9 L629.5,434.0 L630.0,435.0 L631.0,436.8 L631.6,438.0 L632.0,439.0 L632.7,441.0 L633.0,442.0 L633.7,444.0 L634.0,445.0 L634.6,447.0 L635.0,449.0 L635.2,450.0 L635.6,452.0 L636.0,453.0 L637.0,454.3 L639.0,454.4 L641.0,454.6 L642.5,455.0 L644.0,455.8 L645.0,456.8 L645.6,458.0 L645.5,460.0 L644.7,461.0 L643.0,462.0 L642.0,462.4 L640.4,463.0 L639.0,463.5 L637.0,463.7 L635.1,463.0 L634.1,462.0 L633.8,462.0 L632.9,463.0 L632.2,465.0 L632.2,467.0 L632.1,469.0 L632.0,470.0 L631.2,472.0 L630.4,473.0 L629.1,474.0 L628.0,474.7 L627.0,475.3 L625.8,476.0 L624.0,476.9 L623.0,477.3 L621.1,478.0 L620.0,478.4 L618.3,479.0 L617.9,480.0 L617.5,482.0 L617.0,483.7 L616.9,485.0 L616.4,487.0 L615.7,488.0 L614.5,489.0 L613.0,489.9 L612.0,490.4 L611.0,491.1Z"/>
<path d="M589.8,431.0 L590.1,430.0 L590.0,428.5 L589.0,427.4 L587.0,427.7 L586.0,428.8 L586.0,430.0 L586.6,431.0 L588.0,431.9 L589.8,431.0Z"/>
<path d="M626.0,497.3 L625.0,497.0 L624.0,495.9 L623.0,494.7 L622.0,493.8 L621.0,492.4 L621.0,491.7 L622.0,490.7 L624.0,490.2 L626.0,491.0 L626.7,492.0 L627.1,493.0 L627.3,495.0 L627.0,496.2 L626.0,497.3Z"/>
<path d="M575.0,334.2 L573.6,334.0 L572.4,333.0 L571.7,332.0 L571.2,330.0 L571.7,328.0 L572.5,327.0 L574.0,326.4 L575.5,327.0 L576.3,328.0 L577.0,329.5 L577.2,331.0 L577.0,332.4 L576.0,333.8 L575.0,334.2Z"/>
<path d="M557.0,341.1 L556.0,341.0 L554.0,340.0 L553.2,339.0 L552.5,338.0 L551.7,337.0 L550.7,336.0 L549.5,335.0 L549.0,334.0 L549.2,333.0 L550.1,332.0 L552.0,331.2 L553.0,330.9 L555.0,330.6 L557.0,330.3 L559.0,330.3 L561.0,331.0 L562.0,331.8 L562.7,333.0 L563.0,334.3 L563.0,335.5 L562.7,337.0 L562.0,338.3 L561.0,339.4 L560.0,340.2 L558.0,341.0 L557.0,341.1Z"/>
<path d="M486.0,351.3 L484.0,351.3 L482.9,351.0 L481.5,350.0 L480.7,349.0 L480.2,347.0 L480.1,345.0 L480.2,343.0 L480.8,341.0 L481.8,340.0 L483.0,339.3 L484.0,338.9 L486.0,338.7 L487.3,339.0 L489.0,339.8 L490.0,340.8 L490.7,342.0 L491.1,343.0 L491.3,345.0 L491.0,346.5 L490.4,348.0 L489.8,349.0 L488.7,350.0 L487.0,351.0 L486.0,351.3Z"/>
<path d="M533.0,350.1 L532.0,350.0 L530.6,349.0 L530.9,347.0 L531.9,346.0 L533.0,345.7 L534.1,346.0 L535.1,347.0 L535.2,349.0 L534.0,349.9 L533.0,350.1Z"/>
<path d="M514.0,375.3 L512.5,375.0 L512.4,373.0 L511.9,372.0 L510.0,371.2 L509.0,370.9 L507.0,370.6 L505.4,370.0 L504.1,369.0 L503.5,368.0 L503.0,366.0 L502.9,365.0 L502.8,363.0 L503.0,361.0 L503.1,360.0 L503.6,358.0 L504.0,357.0 L505.0,355.3 L506.0,354.2 L507.0,353.4 L508.0,352.7 L509.2,352.0 L511.0,351.2 L512.0,350.8 L514.0,350.3 L515.0,350.0 L517.0,349.3 L518.1,349.0 L520.0,348.6 L522.0,348.7 L523.4,349.0 L525.0,349.9 L526.0,350.9 L526.5,352.0 L526.6,354.0 L526.4,356.0 L526.0,357.5 L525.5,359.0 L524.9,360.0 L524.0,361.4 L523.0,362.8 L522.2,364.0 L521.7,365.0 L521.0,366.3 L520.0,367.9 L519.0,368.9 L518.0,369.6 L517.0,370.2 L515.5,371.0 L514.2,372.0 L514.5,374.0 L514.0,375.3Z"/>
<path d="M552.0,400.2 L550.0,400.4 L548.5,400.0 L547.0,399.4 L546.0,398.8 L544.6,398.0 L543.3,397.0 L542.5,396.0 L542.0,394.9 L541.6,393.0 L541.6,391.0 L541.5,389.0 L541.0,387.6 L540.0,387.0 L538.0,387.0 L537.0,387.2 L535.0,387.9 L534.0,388.3 L532.5,389.0 L531.0,389.4 L529.8,389.0 L529.0,388.0 L528.5,386.0 L528.7,384.0 L529.4,383.0 L531.0,382.0 L532.0,381.6 L533.5,381.0 L535.0,380.6 L537.0,380.3 L539.0,380.0 L540.0,379.8 L541.4,379.0 L542.6,378.0 L543.4,377.0 L543.7,375.0 L543.0,373.8 L542.1,372.0 L541.7,371.0 L541.3,369.0 L541.1,367.0 L541.1,365.0 L541.8,363.0 L542.9,362.0 L544.0,361.5 L546.0,361.9 L547.0,362.5 L548.0,363.1 L549.4,364.0 L550.7,365.0 L551.8,366.0 L552.5,367.0 L552.9,369.0 L552.1,371.0 L551.4,372.0 L550.6,373.0 L549.6,374.0 L549.0,375.0 L549.4,376.0 L551.0,376.8 L552.0,377.2 L554.0,377.8 L555.0,378.1 L557.0,378.6 L558.8,379.0 L560.0,379.3 L561.6,380.0 L563.0,380.8 L564.0,381.4 L565.0,382.1 L566.3,383.0 L567.4,384.0 L568.4,385.0 L569.1,386.0 L569.9,388.0 L569.1,390.0 L568.0,390.9 L567.0,391.5 L565.9,392.0 L564.0,392.6 L562.8,393.0 L561.0,393.6 L560.0,394.0 L558.4,395.0 L557.2,396.0 L556.2,397.0 L555.3,398.0 L554.2,399.0 L553.0,399.8 L552.0,400.2Z"/>
<path d="M581.0,440.1 L579.0,440.2 L577.0,440.2 L575.4,440.0 L574.0,439.8 L572.0,439.3 L571.0,438.9 L569.0,438.2 L568.0,437.9 L566.0,437.3 L564.8,437.0 L563.0,436.3 L562.0,435.9 L560.3,435.0 L559.3,434.0 L560.0,432.1 L561.0,431.6 L562.6,431.0 L564.0,430.7 L566.0,430.6 L568.0,430.5 L570.0,430.4 L572.0,430.3 L574.0,430.2 L575.7,430.0 L577.0,429.8 L579.0,429.3 L580.0,428.8 L580.0,427.7 L579.0,426.7 L578.0,425.9 L576.4,425.0 L575.0,424.6 L573.0,424.6 L571.0,424.8 L569.3,425.0 L568.0,425.1 L566.0,425.1 L565.0,425.0 L563.0,424.5 L561.9,424.0 L560.6,423.0 L559.8,422.0 L559.0,420.8 L558.0,419.1 L557.2,418.0 L556.4,417.0 L555.8,416.0 L555.0,414.0 L554.9,413.0 L555.0,411.4 L555.3,410.0 L556.0,408.6 L557.0,407.5 L558.0,406.9 L560.0,406.3 L561.7,406.0 L563.0,405.6 L564.2,405.0 L565.6,404.0 L566.5,403.0 L567.2,402.0 L568.0,400.7 L568.8,399.0 L569.2,398.0 L569.8,396.0 L569.6,394.0 L569.0,392.0 L570.0,390.4 L571.0,389.8 L573.0,389.2 L575.0,389.3 L577.0,389.6 L579.0,389.8 L581.0,389.8 L583.0,389.9 L584.0,390.2 L585.2,391.0 L586.1,392.0 L587.0,393.4 L588.0,395.0 L589.0,395.9 L590.0,396.1 L591.1,396.0 L593.0,395.5 L595.0,395.1 L597.0,395.5 L598.0,396.3 L599.0,397.5 L600.0,399.0 L600.7,400.0 L601.4,401.0 L602.1,402.0 L602.9,404.0 L602.8,406.0 L602.4,408.0 L602.0,409.1 L601.1,411.0 L600.1,412.0 L599.0,412.4 L597.0,412.2 L596.0,411.9 L594.0,411.3 L592.5,411.0 L591.0,410.8 L590.0,410.0 L589.0,408.8 L588.0,407.5 L587.0,406.4 L586.0,405.7 L584.0,405.6 L582.9,406.0 L581.8,407.0 L581.5,409.0 L582.2,410.0 L583.9,411.0 L585.0,411.3 L587.0,411.5 L589.0,411.6 L590.0,412.1 L591.0,413.3 L591.8,415.0 L592.4,416.0 L593.0,417.0 L594.0,418.2 L595.2,419.0 L597.0,419.5 L599.0,419.2 L600.0,418.8 L602.0,418.0 L602.1,418.0 L603.1,419.0 L602.5,420.0 L601.9,421.0 L601.2,423.0 L601.2,425.0 L601.6,427.0 L602.0,429.0 L602.3,430.0 L602.8,432.0 L602.0,433.2 L600.9,434.0 L599.0,434.7 L598.0,435.0 L596.0,435.4 L594.0,435.4 L592.6,435.0 L592.2,433.0 L592.3,431.0 L592.4,429.0 L592.3,427.0 L592.0,426.0 L590.7,425.0 L589.0,424.9 L588.0,425.0 L586.0,425.7 L585.0,426.2 L583.4,427.0 L582.0,427.9 L581.2,429.0 L582.1,430.0 L583.0,431.0 L584.0,432.3 L585.0,433.4 L586.0,434.6 L587.0,435.8 L587.2,437.0 L586.1,438.0 L585.0,438.6 L584.0,439.1 L582.0,439.9 L581.0,440.1Z"/>
<path d="M626.0,441.5 L624.9,441.0 L623.4,440.0 L622.5,439.0 L621.9,438.0 L621.7,436.0 L622.0,434.4 L622.7,433.0 L624.0,432.3 L625.3,433.0 L626.1,434.0 L627.0,435.6 L627.4,437.0 L627.6,439.0 L627.0,440.8 L626.0,441.5Z"/>
<path d="M614.0,488.2 L612.0,488.7 L610.1,488.0 L609.0,487.0 L608.0,486.9 L606.7,486.0 L606.9,484.0 L606.6,482.0 L606.0,480.9 L605.0,479.4 L604.0,478.1 L603.2,477.0 L602.7,476.0 L602.1,474.0 L603.0,472.0 L604.0,471.2 L604.9,470.0 L604.6,468.0 L604.4,466.0 L603.0,465.1 L601.0,465.6 L599.8,466.0 L598.0,466.7 L596.0,467.0 L594.0,466.8 L592.0,466.1 L591.0,465.5 L590.0,464.4 L589.6,463.0 L589.8,461.0 L589.9,459.0 L589.4,457.0 L589.0,455.7 L588.6,454.0 L588.9,452.0 L589.3,451.0 L590.0,450.0 L591.0,448.9 L592.2,448.0 L594.0,447.1 L595.0,446.7 L597.0,446.4 L599.0,446.3 L601.0,446.1 L602.0,445.8 L603.5,445.0 L604.8,444.0 L605.9,443.0 L607.0,442.2 L608.0,441.7 L610.0,441.4 L612.0,441.5 L613.7,442.0 L614.9,443.0 L615.3,444.0 L615.8,446.0 L616.2,447.0 L617.5,448.0 L619.0,448.3 L621.0,448.0 L622.0,447.6 L623.0,446.9 L624.0,445.9 L625.0,444.8 L626.0,443.7 L628.0,443.6 L629.0,444.3 L630.0,445.2 L631.0,446.6 L631.5,448.0 L631.5,450.0 L631.0,451.7 L630.3,453.0 L629.7,454.0 L629.0,455.3 L628.2,457.0 L627.7,458.0 L627.0,459.7 L626.8,461.0 L627.0,462.2 L627.7,464.0 L628.0,465.3 L628.1,467.0 L627.9,468.0 L627.0,469.9 L626.0,470.9 L625.0,471.7 L624.0,472.2 L622.4,473.0 L621.0,473.6 L619.8,474.0 L618.0,474.5 L616.0,474.9 L615.0,475.0 L614.6,477.0 L614.7,479.0 L614.5,481.0 L615.0,482.5 L615.6,484.0 L615.6,486.0 L615.0,487.2 L614.0,488.2Z"/>
<path d="M639.0,462.1 L637.0,462.2 L636.0,461.7 L635.0,460.4 L634.8,459.0 L635.2,458.0 L636.0,457.0 L637.7,456.0 L639.0,455.7 L641.0,455.9 L642.0,456.4 L643.0,457.3 L643.4,459.0 L642.8,460.0 L641.5,461.0 L640.0,461.7 L639.0,462.1Z"/>
<path d="M618.0,463.0 L618.9,461.0 L618.0,459.6 L617.0,458.7 L616.0,458.0 L614.1,457.0 L613.0,456.7 L612.0,457.2 L611.4,459.0 L611.6,461.0 L612.2,462.0 L613.4,463.0 L615.0,463.6 L617.0,463.5 L618.0,463.0Z"/>
<path d="M597.0,489.2 L595.0,489.6 L593.0,489.3 L592.0,488.8 L591.0,488.0 L590.0,486.7 L589.2,485.0 L589.0,484.0 L588.9,482.0 L589.0,481.0 L590.0,479.9 L591.7,480.0 L593.0,480.6 L594.0,481.2 L595.2,482.0 L596.5,483.0 L597.8,484.0 L598.9,485.0 L599.7,486.0 L599.0,488.0 L598.0,488.7 L597.0,489.2Z"/>
</g>
<g clip-path="url(#cE)" fill="none" stroke="#9650be" stroke-width="1">
<path d="M97.0,666.4 L95.0,666.7 L93.4,666.0 L92.3,665.0 L91.7,664.0 L91.3,662.0 L91.5,660.0 L92.0,659.0 L93.0,657.9 L95.0,657.1 L97.0,657.3 L98.2,658.0 L99.1,659.0 L99.9,661.0 L99.8,663.0 L99.0,664.6 L98.0,665.8 L97.0,666.4Z"/>
<path d="M193.0,790.6 L191.0,790.9 L189.1,790.0 L188.1,789.0 L187.2,788.0 L186.3,787.0 L185.6,786.0 L185.0,785.0 L184.4,783.0 L185.0,781.2 L186.0,780.2 L187.0,779.4 L188.0,778.4 L188.3,777.0 L187.9,776.0 L187.0,774.6 L186.0,773.5 L185.0,772.5 L183.0,772.3 L181.0,772.9 L180.0,773.8 L179.2,775.0 L178.9,776.0 L178.5,778.0 L178.0,779.8 L177.0,780.9 L176.0,781.1 L175.0,781.0 L173.0,780.2 L172.0,779.9 L170.7,780.0 L169.0,780.7 L168.0,781.5 L167.0,782.4 L166.0,783.2 L164.0,783.9 L162.0,783.2 L161.0,782.3 L160.0,781.1 L159.2,780.0 L158.6,779.0 L157.9,778.0 L157.0,776.7 L156.0,775.4 L155.0,774.1 L154.1,773.0 L153.3,772.0 L153.0,771.0 L153.0,769.6 L153.4,768.0 L154.0,766.7 L154.6,765.0 L154.8,763.0 L154.0,761.5 L152.2,761.0 L152.0,761.0 L150.0,761.7 L149.0,762.2 L147.7,763.0 L147.0,764.1 L146.0,765.9 L145.8,767.0 L146.1,768.0 L147.0,769.7 L147.8,771.0 L148.2,772.0 L148.2,774.0 L147.8,775.0 L147.0,776.3 L146.0,777.2 L144.1,778.0 L143.0,778.2 L141.0,778.2 L140.0,778.0 L138.0,777.6 L136.0,777.3 L134.0,777.4 L132.0,777.8 L131.0,778.2 L129.3,779.0 L128.0,779.6 L126.6,780.0 L125.0,780.1 L123.7,780.0 L122.0,779.7 L120.0,779.1 L119.0,778.7 L117.8,778.0 L116.2,777.0 L115.0,776.1 L114.0,775.4 L113.0,774.6 L112.0,773.9 L110.9,773.0 L109.8,772.0 L109.0,770.8 L108.4,769.0 L108.7,767.0 L109.2,766.0 L110.0,764.8 L111.0,763.5 L112.0,762.6 L113.0,762.0 L115.0,761.4 L117.0,761.4 L118.0,761.0 L118.0,759.8 L117.5,758.0 L117.1,756.0 L117.0,754.0 L117.6,752.0 L117.0,750.8 L115.4,750.0 L114.7,750.0 L113.0,750.4 L111.6,751.0 L110.0,751.6 L108.0,751.6 L106.9,751.0 L105.9,750.0 L105.0,748.2 L104.5,747.0 L104.0,745.6 L103.0,744.9 L102.0,745.2 L100.9,746.0 L100.0,747.3 L99.2,749.0 L98.8,750.0 L98.0,751.7 L97.0,753.0 L96.0,753.9 L95.0,754.5 L93.0,754.9 L91.0,754.5 L90.0,753.8 L89.0,752.6 L88.2,751.0 L87.8,750.0 L87.1,748.0 L86.8,747.0 L86.4,745.0 L86.1,743.0 L85.8,742.0 L85.1,740.0 L84.7,739.0 L84.3,737.0 L84.2,735.0 L84.4,733.0 L84.7,731.0 L84.5,729.0 L83.0,728.6 L82.0,729.1 L81.0,730.0 L79.7,731.0 L78.0,731.7 L76.0,731.9 L74.0,731.1 L73.1,730.0 L72.6,729.0 L72.3,727.0 L72.0,725.8 L71.0,724.4 L70.0,723.8 L68.3,723.0 L67.0,722.4 L66.0,721.8 L65.0,720.9 L64.0,719.5 L63.3,718.0 L63.0,716.8 L62.6,715.0 L62.0,713.5 L61.0,712.1 L60.3,711.0 L59.9,710.0 L60.0,709.0 L62.0,708.0 L63.0,707.8 L64.3,707.0 L65.1,706.0 L65.9,704.0 L66.1,703.0 L66.4,701.0 L66.6,699.0 L66.6,697.0 L67.0,695.3 L68.0,694.9 L69.0,695.2 L70.9,696.0 L72.0,696.3 L73.9,696.0 L74.5,695.0 L75.0,693.5 L75.2,692.0 L75.1,690.0 L74.8,689.0 L74.0,687.6 L73.0,686.7 L72.0,685.7 L71.1,684.0 L71.7,682.0 L73.0,681.1 L74.0,680.9 L75.4,681.0 L77.0,681.3 L79.0,681.7 L81.0,681.9 L83.0,681.9 L85.0,681.8 L87.0,681.8 L89.0,681.2 L90.0,680.4 L91.0,679.0 L91.6,678.0 L92.2,677.0 L93.0,675.9 L94.0,674.9 L96.0,674.7 L96.8,676.0 L97.0,677.0 L97.2,679.0 L97.1,681.0 L97.1,683.0 L97.2,685.0 L97.6,687.0 L98.0,688.2 L98.9,690.0 L99.6,691.0 L100.4,692.0 L101.7,693.0 L103.0,693.8 L104.0,694.4 L105.0,695.6 L106.0,697.0 L107.0,698.0 L108.0,698.9 L109.0,699.6 L110.0,700.2 L111.7,701.0 L113.0,701.4 L115.0,701.4 L116.2,701.0 L117.7,700.0 L118.5,699.0 L119.3,698.0 L120.1,697.0 L121.0,696.0 L122.6,695.0 L124.0,694.5 L126.0,694.3 L127.0,694.0 L128.0,692.0 L128.0,692.0 L127.5,690.0 L127.0,688.4 L126.8,687.0 L127.0,685.3 L127.7,684.0 L128.5,683.0 L129.3,682.0 L130.1,681.0 L131.0,679.5 L132.0,678.0 L132.9,677.0 L134.0,676.3 L136.0,676.5 L137.0,677.6 L137.7,679.0 L138.1,680.0 L139.0,681.8 L139.7,683.0 L140.4,684.0 L141.1,685.0 L142.0,686.6 L142.6,688.0 L143.0,689.3 L143.4,691.0 L143.9,693.0 L144.1,694.0 L144.9,696.0 L145.8,697.0 L147.0,697.5 L149.0,697.9 L150.0,698.1 L151.4,699.0 L152.0,700.1 L152.1,702.0 L152.6,704.0 L152.9,706.0 L153.0,707.0 L153.5,709.0 L154.0,710.5 L154.6,712.0 L155.2,713.0 L156.2,714.0 L157.8,715.0 L159.0,715.6 L160.0,716.2 L161.0,717.0 L162.1,718.0 L163.0,719.2 L164.0,721.0 L164.7,722.0 L166.0,723.0 L166.1,723.0 L168.0,722.2 L169.0,721.3 L170.0,720.2 L170.6,719.0 L170.6,717.0 L170.4,715.0 L170.5,713.0 L171.0,711.0 L171.6,710.0 L172.5,709.0 L173.8,708.0 L175.0,707.5 L177.0,707.6 L178.2,708.0 L180.0,709.0 L181.0,709.7 L182.0,710.6 L183.0,711.6 L184.0,712.7 L184.9,714.0 L185.4,715.0 L185.7,717.0 L185.0,718.6 L184.0,719.3 L182.0,719.7 L180.0,719.4 L178.0,719.0 L177.0,719.0 L176.0,719.0 L174.0,719.7 L173.0,720.7 L172.7,722.0 L173.0,723.5 L173.4,725.0 L174.0,726.4 L175.0,727.8 L176.0,728.6 L178.0,729.0 L180.0,728.9 L181.0,729.0 L183.0,729.6 L184.0,730.3 L185.0,731.2 L186.0,732.8 L186.4,734.0 L186.2,736.0 L185.5,737.0 L184.2,738.0 L183.0,738.5 L181.0,739.0 L179.0,738.9 L177.0,738.9 L176.0,739.1 L174.9,740.0 L174.0,741.8 L174.0,742.5 L174.1,744.0 L174.2,746.0 L174.5,748.0 L175.0,749.2 L176.4,750.0 L178.0,750.0 L179.0,749.7 L180.7,749.0 L182.0,748.2 L183.0,747.6 L184.4,747.0 L186.0,746.6 L188.0,746.4 L190.0,746.7 L191.0,747.0 L192.7,748.0 L193.7,749.0 L194.5,750.0 L195.3,751.0 L196.0,752.0 L197.0,753.1 L198.0,754.0 L199.5,755.0 L200.6,756.0 L201.3,757.0 L201.8,759.0 L201.8,761.0 L202.5,762.0 L203.5,763.0 L204.4,764.0 L205.2,765.0 L206.0,766.2 L206.9,768.0 L207.2,769.0 L207.5,771.0 L207.7,773.0 L207.3,775.0 L206.8,776.0 L206.0,777.2 L205.0,778.3 L204.0,779.1 L202.7,780.0 L201.0,781.0 L200.0,781.5 L199.0,782.1 L197.9,783.0 L197.0,784.2 L196.1,786.0 L195.7,787.0 L195.0,788.4 L194.0,789.8 L193.0,790.6Z"/>
<path d="M111.0,690.1 L109.0,690.9 L107.2,690.0 L107.0,689.0 L107.0,687.0 L107.1,686.0 L108.0,684.0 L109.0,683.5 L110.4,684.0 L111.3,685.0 L112.0,686.7 L112.1,688.0 L111.8,689.0 L111.0,690.1Z"/>
<path d="M140.0,717.0 L141.0,715.0 L141.0,714.0 L140.9,713.0 L140.0,711.6 L138.0,711.4 L136.6,712.0 L135.5,713.0 L135.0,714.0 L135.1,715.0 L136.0,716.3 L137.0,717.2 L139.0,717.4 L140.0,717.0Z"/>
<path d="M153.3,736.0 L154.0,734.3 L154.0,733.7 L153.8,732.0 L154.0,730.0 L154.3,729.0 L155.0,727.2 L155.3,726.0 L155.4,724.0 L155.0,722.3 L154.5,721.0 L153.9,720.0 L153.0,718.9 L151.0,718.0 L149.0,718.2 L147.0,718.9 L146.0,719.8 L145.2,721.0 L145.0,722.0 L144.9,724.0 L145.1,725.0 L145.6,727.0 L146.0,728.0 L147.0,729.7 L147.8,731.0 L148.3,732.0 L149.0,734.0 L149.5,735.0 L150.5,736.0 L152.0,736.5 L153.3,736.0Z"/>
<path d="M146.1,757.0 L147.0,755.5 L147.4,754.0 L146.3,753.0 L145.0,752.5 L143.8,752.0 L142.0,751.6 L140.0,751.1 L139.0,750.7 L137.9,750.0 L137.0,749.0 L136.0,747.1 L135.6,746.0 L135.0,744.3 L134.3,743.0 L133.1,742.0 L132.0,741.9 L131.0,742.1 L129.2,743.0 L128.2,744.0 L127.6,745.0 L127.0,747.0 L126.8,748.0 L127.0,749.1 L128.3,750.0 L129.9,751.0 L131.0,751.6 L132.0,752.2 L133.3,753.0 L134.7,754.0 L135.7,755.0 L136.6,756.0 L138.0,756.9 L139.0,757.2 L141.0,757.2 L143.0,757.1 L144.0,757.0 L145.3,757.0 L146.1,757.0Z"/>
<path d="M120.0,793.2 L118.0,793.1 L117.0,792.7 L115.9,792.0 L115.0,790.7 L114.9,789.0 L115.3,788.0 L116.1,787.0 L117.3,786.0 L119.0,785.3 L121.0,785.2 L122.8,786.0 L123.4,787.0 L123.2,789.0 L122.7,790.0 L122.0,791.5 L121.0,792.7 L120.0,793.2Z"/>
<path d="M97.0,665.3 L95.0,665.6 L93.8,665.0 L92.9,664.0 L92.4,662.0 L92.6,660.0 L93.3,659.0 L95.0,658.1 L97.0,658.4 L98.0,659.2 L98.9,661.0 L98.8,663.0 L98.0,664.4 L97.0,665.3Z"/>
<path d="M198.0,778.2 L196.0,778.1 L195.0,778.0 L193.0,777.5 L192.0,777.0 L190.7,776.0 L189.7,775.0 L188.7,774.0 L187.9,773.0 L187.0,771.8 L186.0,770.2 L185.0,770.0 L183.0,769.8 L181.0,769.8 L179.7,770.0 L178.0,770.5 L177.0,771.2 L176.0,772.3 L175.0,773.2 L173.0,773.8 L171.0,773.9 L169.0,773.8 L167.0,773.8 L165.0,774.0 L164.0,774.4 L162.0,774.8 L160.1,774.0 L159.0,773.3 L158.0,772.4 L157.0,771.0 L156.6,770.0 L156.3,768.0 L156.6,766.0 L157.0,764.0 L157.1,763.0 L157.1,761.0 L157.0,760.0 L157.0,758.0 L157.9,757.0 L159.0,756.3 L160.0,755.3 L160.6,754.0 L160.5,752.0 L160.0,750.8 L159.0,749.3 L158.2,748.0 L157.0,747.8 L155.7,748.0 L154.0,748.6 L153.0,749.2 L151.3,750.0 L150.0,750.4 L148.0,750.4 L146.0,750.0 L145.0,749.8 L143.0,749.4 L141.7,749.0 L140.0,748.1 L139.0,747.2 L138.2,746.0 L137.8,745.0 L137.3,743.0 L137.0,741.0 L136.7,740.0 L136.0,738.8 L134.0,738.3 L132.0,738.6 L130.0,739.0 L129.0,739.0 L128.0,739.0 L127.0,739.3 L125.0,739.8 L123.3,739.0 L122.7,738.0 L122.2,736.0 L121.9,735.0 L121.2,733.0 L120.6,732.0 L119.6,731.0 L118.0,730.1 L117.0,729.9 L115.0,729.9 L114.0,730.0 L112.0,730.3 L110.1,731.0 L110.0,732.0 L110.4,733.0 L111.0,734.0 L112.0,735.3 L113.0,736.5 L114.0,737.8 L114.8,739.0 L115.3,740.0 L115.5,742.0 L115.0,743.3 L114.0,744.7 L113.0,745.5 L112.0,746.1 L110.0,746.3 L109.0,745.3 L108.5,744.0 L108.0,742.8 L107.0,741.3 L106.0,740.7 L104.0,740.4 L102.0,740.8 L101.0,741.2 L99.5,742.0 L98.1,743.0 L97.0,744.0 L96.0,745.0 L95.2,746.0 L94.3,747.0 L93.0,747.9 L91.2,747.0 L90.5,746.0 L90.0,745.0 L89.1,743.0 L88.7,742.0 L88.0,740.6 L87.3,739.0 L87.0,738.0 L86.8,736.0 L87.0,734.8 L87.6,733.0 L88.3,732.0 L89.3,731.0 L91.0,730.3 L93.0,730.7 L94.0,731.2 L96.0,731.8 L98.0,731.8 L99.4,731.0 L100.1,730.0 L100.0,729.0 L99.0,728.0 L97.0,727.3 L95.0,727.0 L94.0,726.9 L92.0,726.5 L91.0,725.9 L89.9,725.0 L88.9,724.0 L87.9,723.0 L86.0,722.2 L84.0,722.5 L82.0,722.8 L80.0,722.0 L79.1,721.0 L78.5,720.0 L77.9,719.0 L77.0,717.4 L76.3,716.0 L76.0,714.9 L74.0,714.7 L73.4,716.0 L73.8,718.0 L73.0,719.0 L71.0,719.9 L69.0,719.4 L68.0,718.6 L67.4,717.0 L68.0,715.3 L68.1,714.0 L69.0,712.7 L69.9,711.0 L69.3,709.0 L69.0,708.0 L68.6,706.0 L68.7,704.0 L69.0,702.8 L70.0,701.2 L71.0,700.9 L72.0,701.0 L74.0,701.9 L75.0,702.3 L77.0,702.9 L79.0,702.7 L80.0,701.7 L80.1,700.0 L79.5,699.0 L78.7,698.0 L77.8,697.0 L77.1,695.0 L77.0,694.0 L77.0,693.0 L77.3,691.0 L77.7,689.0 L78.1,688.0 L79.0,686.5 L80.0,685.7 L81.5,685.0 L83.0,684.6 L85.0,684.4 L87.0,684.7 L88.0,685.0 L89.9,686.0 L91.0,686.9 L92.0,687.8 L93.0,688.2 L94.0,689.0 L95.0,690.6 L95.4,692.0 L95.0,693.8 L94.3,695.0 L93.8,696.0 L93.6,698.0 L93.9,700.0 L94.2,701.0 L95.0,702.6 L96.0,703.7 L97.0,704.1 L98.1,704.0 L100.0,703.1 L101.0,702.2 L102.0,701.1 L103.0,700.1 L104.0,699.6 L106.0,699.9 L107.0,700.3 L108.3,701.0 L110.0,701.9 L111.0,702.3 L113.0,702.9 L114.0,703.0 L115.1,703.0 L117.0,702.6 L118.2,702.0 L119.5,701.0 L120.4,700.0 L121.4,699.0 L123.0,698.0 L124.0,697.8 L126.0,698.0 L127.0,698.0 L128.0,697.9 L130.0,697.1 L131.0,696.0 L131.4,695.0 L131.6,693.0 L131.4,691.0 L131.3,689.0 L132.0,687.1 L133.0,686.1 L134.0,685.6 L136.0,685.6 L137.0,686.1 L138.0,687.0 L139.0,688.4 L139.7,690.0 L140.0,691.9 L140.0,693.0 L139.9,694.0 L139.0,695.9 L138.0,697.0 L137.0,697.8 L136.0,698.6 L135.0,699.6 L134.0,700.8 L133.1,702.0 L132.4,703.0 L132.2,705.0 L133.0,706.4 L133.3,708.0 L132.7,709.0 L131.6,710.0 L130.1,711.0 L129.0,711.7 L128.0,712.5 L127.0,713.5 L126.0,714.8 L125.2,716.0 L124.7,717.0 L124.0,719.0 L124.4,721.0 L125.1,722.0 L126.4,723.0 L128.0,723.9 L129.0,724.6 L130.0,725.4 L130.7,727.0 L131.0,728.4 L131.8,730.0 L132.8,731.0 L134.0,731.8 L135.0,732.4 L136.1,733.0 L137.9,734.0 L139.0,734.4 L141.0,734.5 L143.0,734.4 L144.8,735.0 L146.0,735.9 L147.0,736.8 L148.0,737.6 L149.0,738.3 L150.5,739.0 L152.0,739.5 L154.0,739.6 L155.3,739.0 L156.1,738.0 L156.7,736.0 L156.8,734.0 L156.8,732.0 L156.9,730.0 L157.2,729.0 L157.8,727.0 L157.9,725.0 L157.3,723.0 L156.9,722.0 L156.4,720.0 L156.7,718.0 L158.0,717.8 L159.0,718.2 L160.0,719.0 L161.0,721.0 L161.2,722.0 L161.2,724.0 L161.6,726.0 L162.8,727.0 L164.0,727.5 L166.0,727.9 L168.0,728.0 L169.0,728.1 L170.9,729.0 L172.0,729.9 L172.9,731.0 L173.6,732.0 L174.0,733.1 L174.1,735.0 L173.7,736.0 L173.0,737.6 L172.5,739.0 L172.0,740.7 L171.7,742.0 L172.0,743.6 L172.3,745.0 L172.4,747.0 L172.5,749.0 L173.0,750.7 L174.0,751.8 L175.0,752.3 L177.0,752.8 L178.8,753.0 L180.0,753.2 L182.0,753.8 L183.0,754.2 L185.0,755.0 L185.0,755.0 L185.8,753.0 L186.0,752.0 L187.0,750.5 L188.0,749.9 L190.0,749.9 L191.0,750.4 L192.0,751.2 L193.0,752.5 L193.9,754.0 L194.5,755.0 L195.1,756.0 L196.0,757.5 L196.6,759.0 L196.6,761.0 L197.0,762.3 L199.0,762.9 L200.0,763.6 L201.0,764.5 L202.0,765.7 L202.8,767.0 L203.2,768.0 L203.3,770.0 L203.0,771.4 L202.5,773.0 L202.0,774.3 L201.3,776.0 L200.6,777.0 L199.0,778.0 L198.0,778.2Z"/>
<path d="M151.0,715.3 L149.0,715.8 L147.0,715.9 L145.2,715.0 L144.8,714.0 L144.6,712.0 L145.0,710.4 L145.9,709.0 L147.0,708.1 L148.0,707.6 L149.5,708.0 L150.5,709.0 L151.1,710.0 L151.9,712.0 L152.1,713.0 L152.0,714.1 L151.0,715.3Z"/>
<path d="M128.0,777.2 L126.0,777.4 L124.0,777.3 L122.1,777.0 L121.0,776.8 L119.0,776.0 L118.0,775.5 L117.0,774.8 L116.0,774.0 L115.0,773.0 L114.0,771.9 L113.0,770.4 L112.5,769.0 L112.6,767.0 L113.1,766.0 L114.3,765.0 L116.0,764.7 L117.4,765.0 L119.0,765.3 L120.8,765.0 L122.0,764.0 L122.3,763.0 L122.0,761.7 L121.0,760.1 L120.3,759.0 L119.8,758.0 L119.3,756.0 L119.6,754.0 L120.2,753.0 L121.5,752.0 L123.0,751.4 L125.0,751.4 L127.0,752.0 L128.0,752.5 L129.0,753.1 L130.1,754.0 L131.0,755.0 L132.0,756.6 L132.6,758.0 L133.0,759.0 L134.0,760.4 L135.0,761.4 L136.0,762.1 L137.4,763.0 L138.7,764.0 L139.7,765.0 L140.6,766.0 L141.4,767.0 L142.1,768.0 L143.0,769.1 L144.0,770.7 L144.6,772.0 L144.4,774.0 L143.3,775.0 L142.0,775.5 L140.0,775.7 L138.0,775.7 L136.0,775.7 L134.0,775.9 L133.0,776.0 L131.0,776.5 L129.0,776.9 L128.0,777.2Z"/>
<path d="M192.6,764.0 L193.8,763.0 L193.0,761.9 L192.0,760.2 L191.0,759.1 L190.0,758.3 L189.0,757.6 L187.9,757.0 L186.0,756.8 L185.9,758.0 L186.0,760.0 L186.3,761.0 L187.0,762.2 L188.0,763.1 L189.9,764.0 L191.0,764.2 L192.6,764.0Z"/>
<path d="M175.3,768.0 L176.0,766.9 L176.0,765.0 L175.3,764.0 L174.0,763.8 L173.0,764.8 L172.7,766.0 L173.0,767.4 L174.0,768.2 L175.3,768.0Z"/>
</g>
<g clip-path="url(#cE)" fill="none" stroke="#5aa698" stroke-width="1">
<path d="M213.0,729.1 L211.0,729.5 L209.0,729.0 L208.0,728.5 L207.0,727.7 L206.0,726.8 L205.0,725.7 L204.0,724.7 L202.0,724.0 L200.5,725.0 L199.5,726.0 L198.5,727.0 L197.4,728.0 L196.0,728.9 L195.0,729.3 L193.0,729.2 L192.0,728.6 L191.0,727.5 L190.1,726.0 L189.7,725.0 L189.0,723.6 L188.0,722.0 L187.0,721.0 L186.0,720.4 L185.0,719.9 L183.0,719.1 L182.0,718.6 L180.9,718.0 L179.6,717.0 L178.7,716.0 L178.0,714.0 L178.7,712.0 L179.7,711.0 L181.0,710.0 L182.0,709.2 L183.0,708.1 L183.6,707.0 L184.0,705.4 L184.0,704.0 L183.9,703.0 L183.3,701.0 L183.0,700.0 L182.0,698.0 L181.4,697.0 L180.0,696.1 L179.0,695.5 L178.0,694.9 L176.7,694.0 L175.5,693.0 L174.0,692.3 L172.0,692.4 L170.5,692.0 L169.0,691.4 L168.0,691.0 L166.0,690.0 L165.0,689.5 L164.0,689.0 L162.7,688.0 L161.8,687.0 L161.0,685.6 L160.4,684.0 L160.0,682.4 L159.4,681.0 L158.8,680.0 L157.9,679.0 L157.0,677.8 L156.1,676.0 L155.9,675.0 L156.0,674.0 L156.6,672.0 L157.1,671.0 L158.0,669.5 L159.0,668.2 L160.0,667.1 L161.0,666.1 L162.0,665.1 L162.9,664.0 L163.5,663.0 L163.3,661.0 L162.9,660.0 L162.2,658.0 L162.0,656.4 L161.9,655.0 L161.6,653.0 L161.0,651.8 L160.0,650.8 L158.0,650.3 L156.1,651.0 L155.0,651.9 L154.1,653.0 L153.2,654.0 L152.3,655.0 L151.1,656.0 L150.0,656.7 L149.0,657.1 L147.0,657.4 L145.0,657.3 L143.1,657.0 L142.0,656.6 L141.0,655.9 L140.0,654.7 L139.1,653.0 L138.7,652.0 L138.0,650.2 L137.5,649.0 L137.0,647.9 L136.0,646.7 L135.0,646.0 L133.0,645.0 L132.0,644.5 L131.0,644.0 L129.5,643.0 L128.5,642.0 L127.9,641.0 L127.3,639.0 L127.3,637.0 L127.7,635.0 L128.1,634.0 L127.0,634.0 L126.0,634.5 L124.0,634.3 L123.0,633.9 L121.8,633.0 L120.8,632.0 L120.0,630.7 L119.3,629.0 L119.1,627.0 L119.0,625.0 L119.3,623.0 L120.0,621.0 L120.5,620.0 L121.5,619.0 L122.9,618.0 L124.0,617.5 L126.0,617.3 L127.3,618.0 L128.0,619.0 L128.9,621.0 L129.2,622.0 L129.7,624.0 L129.9,626.0 L129.9,628.0 L129.9,630.0 L130.2,630.0 L131.3,629.0 L132.5,628.0 L133.6,627.0 L134.5,626.0 L135.3,625.0 L136.2,624.0 L137.5,623.0 L139.0,622.3 L140.0,622.0 L142.0,621.0 L143.0,620.1 L144.0,619.0 L144.9,618.0 L146.0,617.0 L147.0,616.3 L148.0,615.9 L150.0,615.9 L151.0,616.2 L153.0,617.0 L154.0,617.5 L155.0,618.2 L156.1,619.0 L157.4,620.0 L159.0,620.7 L161.0,620.2 L161.9,619.0 L162.4,618.0 L163.0,616.3 L163.5,615.0 L164.1,614.0 L165.4,613.0 L167.0,612.6 L169.0,612.7 L170.3,613.0 L172.0,613.5 L173.2,614.0 L175.0,614.9 L176.0,615.7 L177.0,617.0 L177.5,618.0 L178.0,619.1 L179.0,621.0 L179.8,622.0 L181.0,622.8 L182.0,623.3 L184.0,623.4 L185.8,623.0 L187.0,622.5 L188.4,622.0 L190.0,621.7 L191.4,622.0 L192.7,623.0 L193.4,624.0 L194.0,625.1 L195.0,626.9 L195.9,628.0 L197.0,629.0 L198.0,630.0 L198.9,631.0 L199.6,632.0 L200.0,633.0 L200.3,635.0 L200.0,636.4 L199.4,638.0 L198.7,639.0 L198.0,640.0 L197.0,641.0 L195.3,642.0 L194.0,642.1 L193.0,641.8 L191.3,641.0 L190.0,640.5 L189.0,640.0 L187.0,639.2 L186.0,638.8 L184.4,639.0 L184.3,641.0 L185.0,642.6 L185.7,644.0 L186.1,645.0 L186.7,647.0 L187.0,648.4 L188.0,649.5 L190.0,649.2 L191.0,648.5 L192.0,647.6 L193.0,646.7 L194.0,646.0 L196.0,645.2 L197.5,646.0 L198.7,647.0 L199.8,648.0 L200.9,649.0 L202.0,649.8 L203.0,650.5 L204.0,651.2 L205.2,652.0 L206.5,653.0 L207.2,654.0 L207.8,656.0 L207.5,658.0 L207.0,659.2 L206.0,660.9 L205.0,662.0 L204.2,663.0 L203.5,664.0 L203.0,665.2 L202.9,667.0 L203.4,668.0 L205.0,668.5 L207.0,668.2 L209.0,668.0 L211.0,668.4 L213.0,668.7 L215.0,668.3 L216.0,667.7 L217.1,667.0 L219.0,666.2 L220.0,666.0 L221.0,666.0 L223.0,666.9 L224.0,667.9 L224.7,669.0 L225.1,670.0 L225.5,672.0 L226.0,673.9 L226.3,675.0 L227.0,676.8 L227.2,678.0 L227.2,680.0 L226.9,681.0 L226.0,682.8 L225.1,684.0 L224.1,685.0 L223.3,686.0 L223.0,687.0 L223.0,688.1 L224.0,689.7 L225.0,690.9 L225.6,692.0 L226.0,693.0 L226.6,695.0 L227.0,696.0 L228.0,697.6 L229.0,698.8 L229.9,700.0 L230.5,701.0 L231.0,703.0 L230.5,705.0 L230.0,706.0 L229.0,707.4 L228.0,708.8 L227.3,710.0 L227.0,711.0 L226.9,713.0 L227.1,714.0 L227.8,716.0 L228.1,717.0 L228.2,719.0 L228.0,720.1 L227.4,722.0 L226.8,723.0 L226.0,724.0 L224.6,725.0 L223.0,725.7 L221.7,726.0 L220.0,726.4 L218.0,726.9 L217.0,727.3 L215.4,728.0 L214.0,728.7 L213.0,729.1Z"/>
<path d="M170.0,643.0 L171.0,641.6 L171.2,640.0 L171.0,638.2 L170.5,637.0 L169.7,636.0 L168.0,635.4 L166.8,636.0 L165.9,637.0 L165.0,638.9 L164.9,640.0 L165.4,641.0 L166.4,642.0 L168.0,643.0 L169.0,643.2 L170.0,643.0Z"/>
<path d="M244.0,725.1 L242.3,725.0 L241.0,724.0 L240.3,723.0 L239.9,722.0 L239.6,720.0 L240.0,718.3 L240.6,717.0 L241.3,716.0 L242.0,715.0 L243.0,713.4 L243.6,712.0 L243.9,710.0 L243.4,708.0 L242.5,707.0 L241.0,706.4 L239.0,706.3 L237.4,706.0 L236.0,705.2 L235.2,704.0 L234.8,703.0 L234.7,701.0 L235.0,699.6 L235.4,698.0 L235.9,696.0 L236.1,695.0 L236.4,693.0 L236.6,691.0 L236.8,689.0 L237.0,687.4 L237.2,686.0 L237.6,684.0 L238.0,682.1 L238.2,681.0 L238.8,679.0 L239.1,678.0 L240.0,676.0 L240.7,675.0 L242.0,674.0 L243.0,673.7 L245.0,673.9 L246.0,674.5 L247.0,675.6 L247.9,677.0 L248.3,678.0 L249.0,679.8 L249.5,681.0 L250.0,682.4 L250.5,684.0 L250.8,686.0 L250.8,688.0 L250.4,690.0 L250.0,691.2 L249.5,693.0 L249.8,695.0 L250.3,696.0 L251.0,697.2 L251.8,699.0 L252.0,700.0 L252.0,701.9 L251.8,703.0 L251.0,705.0 L250.5,706.0 L249.9,707.0 L249.0,709.0 L248.7,710.0 L248.4,712.0 L248.2,714.0 L248.0,715.3 L247.7,717.0 L247.2,719.0 L246.9,720.0 L246.2,722.0 L245.8,723.0 L245.0,724.3 L244.0,725.1Z"/>
<path d="M217.4,687.0 L219.0,686.1 L219.8,685.0 L219.0,683.3 L218.0,682.8 L216.8,683.0 L215.6,684.0 L215.0,685.0 L215.0,686.7 L216.0,687.4 L217.4,687.0Z"/>
<path d="M125.0,708.1 L123.0,708.7 L121.0,708.4 L120.0,708.0 L118.2,707.0 L117.0,706.4 L115.3,706.0 L114.0,705.9 L112.0,705.7 L110.8,705.0 L109.8,704.0 L108.9,703.0 L108.0,701.5 L107.5,700.0 L107.7,698.0 L108.0,697.0 L109.0,695.0 L109.5,694.0 L110.2,693.0 L111.0,691.9 L112.0,690.9 L113.4,690.0 L115.0,689.3 L116.0,688.9 L118.0,688.1 L119.0,687.9 L121.0,687.7 L123.0,688.0 L124.0,688.3 L125.4,689.0 L126.7,690.0 L127.5,691.0 L128.0,692.0 L128.6,694.0 L129.0,695.9 L129.6,697.0 L130.6,698.0 L132.0,698.7 L133.0,699.1 L134.2,700.0 L135.0,701.4 L135.1,703.0 L134.6,704.0 L133.8,705.0 L132.0,706.0 L131.0,706.2 L129.0,706.6 L127.7,707.0 L126.0,707.7 L125.0,708.1Z"/>
<path d="M195.0,694.0 L195.2,693.0 L195.0,691.8 L193.9,691.0 L192.5,691.0 L191.1,692.0 L190.8,693.0 L191.6,694.0 L193.0,694.8 L195.0,694.0Z"/>
<path d="M208.4,702.0 L209.4,701.0 L210.2,700.0 L211.0,698.9 L211.9,697.0 L211.0,695.1 L210.0,694.8 L209.0,695.0 L207.5,696.0 L206.4,697.0 L205.6,698.0 L205.0,699.1 L204.9,701.0 L205.6,702.0 L207.0,702.6 L208.4,702.0Z"/>
<path d="M221.9,702.0 L222.4,701.0 L222.5,699.0 L221.8,698.0 L220.0,697.3 L218.0,697.8 L217.4,699.0 L218.0,701.0 L218.8,702.0 L220.0,702.7 L221.9,702.0Z"/>
<path d="M228.0,786.3 L226.0,786.1 L225.0,785.5 L224.0,784.5 L223.0,783.1 L222.4,782.0 L222.0,781.0 L221.3,779.0 L221.0,777.8 L220.7,776.0 L220.6,774.0 L221.0,772.2 L221.3,771.0 L222.0,769.4 L222.7,768.0 L223.3,767.0 L224.2,766.0 L225.6,765.0 L227.0,764.5 L229.0,764.3 L231.0,765.0 L232.0,765.7 L233.0,766.8 L233.8,768.0 L234.4,769.0 L235.0,770.7 L235.3,772.0 L235.4,774.0 L235.3,776.0 L235.0,777.3 L234.6,779.0 L234.0,780.4 L233.2,782.0 L232.5,783.0 L231.6,784.0 L230.5,785.0 L229.0,785.9 L228.0,786.3Z"/>
<path d="M238.0,792.5 L236.0,792.9 L234.6,792.0 L234.0,790.4 L234.0,789.7 L235.0,788.0 L236.0,787.7 L237.7,788.0 L238.7,789.0 L239.0,790.0 L239.0,791.0 L238.0,792.5Z"/>
<path d="M212.0,724.5 L210.0,724.7 L208.7,724.0 L208.0,722.9 L207.7,721.0 L208.0,719.2 L208.3,718.0 L208.6,716.0 L208.3,714.0 L208.0,712.8 L206.5,713.0 L205.6,714.0 L204.7,715.0 L203.9,716.0 L203.0,717.0 L202.0,718.2 L201.0,719.3 L200.0,720.4 L199.0,721.5 L198.0,722.6 L197.0,723.6 L196.0,724.3 L194.0,724.5 L193.0,723.7 L192.1,722.0 L191.7,721.0 L191.0,719.0 L190.7,718.0 L190.0,716.2 L189.3,715.0 L188.5,714.0 L187.8,713.0 L187.3,711.0 L187.2,709.0 L187.2,707.0 L187.0,705.7 L186.6,704.0 L186.0,702.0 L185.7,701.0 L185.1,699.0 L184.9,698.0 L184.9,696.0 L184.0,694.9 L182.5,694.0 L181.3,693.0 L180.5,692.0 L179.9,691.0 L179.2,689.0 L178.8,688.0 L178.2,686.0 L177.9,685.0 L177.1,683.0 L178.3,682.0 L179.7,681.0 L180.4,680.0 L180.0,678.4 L178.0,678.2 L177.0,679.0 L177.0,680.9 L177.4,682.0 L176.9,683.0 L175.0,683.6 L174.0,684.0 L172.0,684.8 L171.0,685.3 L169.3,686.0 L168.0,686.1 L167.0,685.9 L165.8,685.0 L165.3,683.0 L166.0,681.4 L167.0,680.2 L168.0,679.3 L169.0,678.6 L170.3,678.0 L172.0,677.4 L173.1,677.0 L174.1,676.0 L174.0,674.0 L173.7,673.0 L173.0,671.5 L172.0,670.4 L171.0,669.9 L169.7,670.0 L168.0,670.6 L167.0,671.2 L165.5,672.0 L164.0,672.5 L163.0,672.0 L163.0,671.0 L164.0,669.1 L164.7,668.0 L165.3,667.0 L166.0,665.8 L166.9,664.0 L167.3,663.0 L168.0,661.4 L168.8,660.0 L167.9,659.0 L166.7,658.0 L166.0,657.0 L165.3,655.0 L165.0,653.8 L164.6,652.0 L164.0,650.6 L163.1,649.0 L162.5,648.0 L162.4,646.0 L163.8,645.0 L164.4,645.0 L166.0,645.4 L167.3,646.0 L169.0,646.5 L170.7,646.0 L171.8,645.0 L172.5,644.0 L173.0,642.4 L173.2,641.0 L173.3,639.0 L173.0,637.1 L172.7,636.0 L172.0,634.8 L171.0,633.6 L170.0,632.6 L169.0,631.9 L167.0,631.0 L165.8,632.0 L165.0,633.4 L164.0,635.0 L163.2,636.0 L162.2,637.0 L161.0,637.8 L160.0,638.3 L158.3,639.0 L157.0,639.6 L156.0,640.2 L154.2,641.0 L153.0,641.5 L151.2,641.0 L150.6,640.0 L149.8,639.0 L148.7,638.0 L147.2,637.0 L146.0,636.5 L145.0,637.3 L144.3,639.0 L145.0,640.8 L146.0,641.1 L148.0,641.5 L150.0,641.5 L151.9,642.0 L152.3,643.0 L152.9,645.0 L152.9,647.0 L152.2,649.0 L151.6,650.0 L150.9,651.0 L150.0,652.0 L148.8,653.0 L147.0,653.8 L145.0,653.9 L143.0,653.1 L142.0,652.3 L141.1,651.0 L140.6,650.0 L140.0,648.6 L139.4,647.0 L138.9,646.0 L137.9,645.0 L136.0,644.3 L135.0,643.9 L133.3,643.0 L132.0,642.0 L131.2,641.0 L130.6,640.0 L130.2,638.0 L130.4,636.0 L131.0,634.5 L132.0,633.0 L133.0,632.1 L134.0,631.3 L135.0,630.4 L136.0,629.1 L136.7,628.0 L137.3,627.0 L138.0,626.0 L139.2,625.0 L141.0,624.3 L143.0,624.4 L144.8,624.0 L145.7,623.0 L146.5,622.0 L147.6,621.0 L149.0,620.3 L151.0,620.1 L153.0,621.0 L154.0,621.9 L154.7,623.0 L155.4,624.0 L156.4,625.0 L158.0,625.4 L160.0,625.5 L162.0,625.7 L163.8,625.0 L164.0,624.0 L164.3,622.0 L164.9,620.0 L165.4,619.0 L166.0,618.0 L167.3,617.0 L169.0,616.8 L170.0,617.0 L171.8,618.0 L173.0,619.0 L173.9,620.0 L174.7,621.0 L175.6,622.0 L176.7,623.0 L178.0,624.0 L179.0,624.7 L180.0,625.4 L181.0,626.1 L182.3,627.0 L183.1,628.0 L183.0,629.0 L182.0,630.6 L181.3,632.0 L180.8,633.0 L180.2,635.0 L180.2,637.0 L180.6,639.0 L181.0,640.0 L182.0,641.8 L182.8,643.0 L183.4,644.0 L184.0,645.1 L184.6,647.0 L184.8,649.0 L185.0,650.7 L185.8,652.0 L187.0,652.9 L188.0,653.1 L189.0,652.9 L190.4,652.0 L191.6,651.0 L192.9,650.0 L194.0,649.3 L195.0,649.0 L196.1,649.0 L198.0,649.7 L199.0,650.4 L200.0,651.1 L201.1,652.0 L202.2,653.0 L203.2,654.0 L204.0,655.1 L204.6,657.0 L204.2,659.0 L203.7,660.0 L203.0,661.0 L202.0,662.6 L201.4,664.0 L201.0,665.5 L200.7,667.0 L200.4,669.0 L200.4,671.0 L201.0,672.0 L203.0,672.1 L204.0,671.7 L206.0,671.1 L207.0,670.9 L209.0,671.0 L210.0,671.2 L211.8,672.0 L213.0,672.6 L214.0,673.3 L215.0,674.2 L216.0,675.8 L216.3,677.0 L216.0,678.4 L215.0,680.0 L214.2,681.0 L213.3,682.0 L212.5,683.0 L211.8,684.0 L211.0,685.3 L210.0,686.6 L209.0,687.6 L208.0,688.3 L206.7,689.0 L205.6,690.0 L205.3,692.0 L205.0,693.4 L204.4,695.0 L203.8,696.0 L203.0,697.1 L202.0,698.9 L201.7,700.0 L202.0,701.2 L203.0,703.0 L203.8,704.0 L204.7,705.0 L205.6,706.0 L206.4,707.0 L207.0,708.2 L208.0,709.1 L208.6,708.0 L209.2,707.0 L210.0,705.3 L210.7,704.0 L211.4,703.0 L212.5,702.0 L214.0,701.6 L215.0,702.1 L216.0,703.0 L217.2,704.0 L218.7,705.0 L220.0,705.6 L221.0,706.0 L223.0,706.9 L223.7,708.0 L223.8,710.0 L223.4,712.0 L223.0,713.2 L222.1,715.0 L221.0,716.0 L220.0,716.4 L218.0,716.8 L217.0,717.0 L215.3,718.0 L214.6,719.0 L214.3,721.0 L214.0,722.2 L213.0,723.8 L212.0,724.5Z"/>
<path d="M126.0,632.4 L124.0,632.5 L123.0,632.0 L121.9,631.0 L121.0,629.4 L120.6,628.0 L120.4,626.0 L120.5,624.0 L121.0,622.3 L121.9,621.0 L123.0,620.3 L125.0,620.2 L126.2,621.0 L127.1,622.0 L128.0,623.6 L128.4,625.0 L128.6,627.0 L128.3,629.0 L128.0,630.1 L127.0,631.7 L126.0,632.4Z"/>
<path d="M193.0,638.1 L192.0,637.9 L190.0,637.1 L189.0,636.3 L188.1,635.0 L188.0,634.0 L188.0,633.0 L188.8,631.0 L190.0,630.4 L192.0,630.8 L193.0,631.2 L194.3,632.0 L195.3,633.0 L196.0,634.9 L196.0,635.1 L195.3,637.0 L194.0,637.9 L193.0,638.1Z"/>
<path d="M188.4,674.0 L188.6,672.0 L188.0,670.4 L187.1,669.0 L186.3,668.0 L186.3,666.0 L186.8,664.0 L187.0,663.0 L187.1,661.0 L186.9,660.0 L186.0,658.4 L185.0,657.3 L184.0,656.7 L182.1,656.0 L181.0,655.7 L179.0,655.5 L177.0,655.8 L176.0,656.4 L175.4,658.0 L175.8,660.0 L176.3,661.0 L177.0,662.0 L178.4,663.0 L180.0,663.7 L181.0,664.1 L182.9,665.0 L184.0,665.7 L185.0,666.7 L185.8,668.0 L185.6,670.0 L185.5,672.0 L185.9,674.0 L187.0,674.8 L188.4,674.0Z"/>
<path d="M247.0,705.4 L245.3,705.0 L244.0,704.1 L243.0,703.5 L241.0,703.4 L239.0,703.5 L237.9,703.0 L237.2,701.0 L237.3,699.0 L237.6,697.0 L237.9,695.0 L238.0,693.9 L238.3,692.0 L238.6,690.0 L238.9,688.0 L239.1,687.0 L239.5,685.0 L240.0,683.0 L240.4,682.0 L241.0,680.6 L242.0,679.3 L243.0,678.6 L244.4,679.0 L245.3,680.0 L246.0,681.0 L247.0,682.7 L247.6,684.0 L248.0,685.6 L248.1,687.0 L247.9,688.0 L247.2,690.0 L246.8,691.0 L246.3,693.0 L246.4,695.0 L247.0,696.3 L248.0,697.5 L249.0,698.7 L249.5,700.0 L249.6,702.0 L249.0,703.5 L248.0,704.7 L247.0,705.4Z"/>
<path d="M196.6,697.0 L197.5,696.0 L198.0,694.1 L198.2,693.0 L198.6,691.0 L197.8,690.0 L196.8,689.0 L195.1,688.0 L194.0,687.8 L193.0,688.0 L191.0,688.8 L190.0,689.4 L189.0,690.3 L188.0,691.7 L187.5,693.0 L188.0,694.7 L189.0,695.3 L190.2,696.0 L192.0,697.0 L193.0,697.3 L195.0,697.5 L196.6,697.0Z"/>
<path d="M125.0,706.1 L123.0,706.6 L121.0,706.3 L120.0,705.8 L118.7,705.0 L117.3,704.0 L116.1,703.0 L115.1,702.0 L114.1,701.0 L113.2,700.0 L112.5,699.0 L112.3,697.0 L112.9,695.0 L113.4,694.0 L114.2,693.0 L115.2,692.0 L116.7,691.0 L118.0,690.3 L119.0,690.0 L121.0,689.7 L122.4,690.0 L124.0,690.8 L125.0,691.8 L125.8,693.0 L126.2,694.0 L126.9,696.0 L127.3,697.0 L128.0,698.5 L128.8,700.0 L129.5,701.0 L129.8,703.0 L128.9,704.0 L127.3,705.0 L126.0,705.7 L125.0,706.1Z"/>
<path d="M228.0,784.1 L226.7,784.0 L225.0,783.0 L224.2,782.0 L223.5,781.0 L223.0,779.9 L222.3,778.0 L222.0,776.0 L222.0,775.0 L222.1,774.0 L222.6,772.0 L223.1,771.0 L224.0,769.6 L225.0,768.7 L227.0,768.2 L228.5,769.0 L230.0,769.9 L231.0,770.3 L232.1,771.0 L233.0,772.2 L233.5,774.0 L233.6,776.0 L233.2,778.0 L232.9,779.0 L232.0,780.9 L231.2,782.0 L230.2,783.0 L229.0,783.8 L228.0,784.1Z"/>
</g>
<path d="M404.5,31.9 C403.7,34.7 400.7,42.7 399.7,48.7 C398.7,54.7 398.1,61.5 398.7,67.9 C399.3,74.3 400.9,80.6 403.5,87.0 C406.1,93.4 409.7,100.5 414.0,106.2 C418.3,112.0 424.0,117.0 429.4,121.5 C434.8,126.0 442.5,130.3 446.6,133.0 C450.7,135.7 452.9,136.9 454.2,137.7" fill="none" stroke="#c814ec" stroke-width="2.1" stroke-linecap="round" stroke-linejoin="round" />
<circle cx="404.5" cy="31.9" r="2.6" fill="none" stroke="#8a8a8a" stroke-width="0.9"/>
<path d="M448.5,33.0 C446.3,35.0 438.9,39.7 435.1,44.9 C431.3,50.1 427.2,57.6 425.5,64.0 C423.8,70.4 423.6,76.8 424.6,83.2 C425.6,89.6 428.0,96.6 431.3,102.3 C434.6,108.0 440.2,113.3 444.7,117.6 C449.2,121.9 454.3,126.6 458.1,128.2 C461.9,129.8 466.0,127.4 467.6,127.2" fill="none" stroke="#c814ec" stroke-width="2.1" stroke-linecap="round" stroke-linejoin="round" />
<circle cx="448.5" cy="33.0" r="2.6" fill="none" stroke="#8a8a8a" stroke-width="0.9"/>
<path d="M528.0,49.0 C525.8,47.5 519.7,42.4 515.0,40.0 C510.3,37.6 506.3,35.0 500.0,34.4 C493.7,33.8 484.5,34.5 477.2,36.3 C469.9,38.0 461.9,40.6 456.2,44.9 C450.5,49.2 445.8,56.0 442.8,62.1 C439.8,68.2 438.3,74.9 438.0,81.3 C437.7,87.7 438.7,94.7 440.8,100.4 C442.9,106.1 445.9,111.2 450.4,115.7 C454.9,120.2 464.7,125.3 467.6,127.2" fill="none" stroke="#c814ec" stroke-width="2.1" stroke-linecap="round" stroke-linejoin="round" />
<circle cx="528.0" cy="49.0" r="2.6" fill="none" stroke="#8a8a8a" stroke-width="0.9"/>
<path d="M379.2,88.9 C381.5,91.8 387.5,100.5 393.0,106.2 C398.5,112.0 405.4,118.6 412.1,123.4 C418.8,128.2 426.8,132.2 433.2,134.9 C439.6,137.6 447.5,138.9 450.4,139.7" fill="none" stroke="#c814ec" stroke-width="2.1" stroke-linecap="round" stroke-linejoin="round" />
<circle cx="379.2" cy="88.9" r="2.6" fill="none" stroke="#8a8a8a" stroke-width="0.9"/>
<path d="M379.2,116.1 C381.8,117.3 388.4,120.3 394.9,123.4 C401.3,126.5 410.2,131.4 417.9,134.9 C425.5,138.4 436.3,142.7 440.8,144.4 C445.3,146.2 444.1,145.2 444.7,145.4" fill="none" stroke="#c814ec" stroke-width="2.1" stroke-linecap="round" stroke-linejoin="round" />
<circle cx="379.2" cy="116.1" r="2.6" fill="none" stroke="#8a8a8a" stroke-width="0.9"/>
<path d="M50.6,289.3 C49.2,292.8 44.5,303.0 42.4,310.0 C40.2,317.0 38.5,324.1 37.7,331.2 C36.9,338.3 37.1,344.9 37.7,352.4 C38.3,359.9 39.1,368.5 41.2,376.0 C43.4,383.5 46.5,390.9 50.6,397.2 C54.7,403.5 60.0,408.7 66.0,414.0 C72.0,419.3 82.9,426.6 86.3,429.1" fill="none" stroke="#c814ec" stroke-width="2.1" stroke-linecap="round" stroke-linejoin="round" />
<circle cx="50.6" cy="289.3" r="2.6" fill="none" stroke="#8a8a8a" stroke-width="0.9"/>
<path d="M170.8,331.0 C169.2,327.5 166.0,315.4 161.3,310.0 C156.6,304.6 149.6,301.1 142.5,298.3 C135.4,295.6 126.5,293.9 119.0,293.5 C111.5,293.1 104.4,293.5 97.7,295.9 C91.0,298.3 84.0,302.6 78.9,307.7 C73.8,312.8 69.8,320.2 67.1,326.5 C64.3,332.8 63.0,339.1 62.4,345.4 C61.8,351.7 62.4,357.9 63.6,364.2 C64.8,370.5 67.1,376.5 69.5,383.0 C71.9,389.5 74.8,396.8 78.0,403.0 C81.2,409.2 86.8,417.3 88.5,420.2" fill="none" stroke="#c814ec" stroke-width="2.1" stroke-linecap="round" stroke-linejoin="round" />
<path d="M24.4,366.3 C28.8,369.4 42.1,377.4 50.9,384.9 C59.7,392.4 71.1,405.1 77.4,411.4 C83.7,417.7 86.7,420.6 88.5,422.5" fill="none" stroke="#c814ec" stroke-width="2.1" stroke-linecap="round" stroke-linejoin="round" />
<circle cx="24.4" cy="366.3" r="2.6" fill="none" stroke="#8a8a8a" stroke-width="0.9"/>
<path d="M24.4,403.5 C29.6,404.8 45.8,407.5 55.4,411.4 C65.0,415.3 77.5,424.3 81.9,426.9" fill="none" stroke="#c814ec" stroke-width="2.1" stroke-linecap="round" stroke-linejoin="round" />
<circle cx="24.4" cy="403.5" r="2.6" fill="none" stroke="#8a8a8a" stroke-width="0.9"/>
<path d="M24.4,420.2 C29.6,421.3 45.8,424.7 55.4,426.9 C65.0,429.1 77.5,432.4 81.9,433.5" fill="none" stroke="#c814ec" stroke-width="2.1" stroke-linecap="round" stroke-linejoin="round" />
<circle cx="24.4" cy="420.2" r="2.6" fill="none" stroke="#8a8a8a" stroke-width="0.9"/>
<path d="M24.4,443.2 C29.6,442.7 45.8,441.1 55.4,440.1 C65.0,439.1 77.5,437.5 81.9,437.0" fill="none" stroke="#c814ec" stroke-width="2.1" stroke-linecap="round" stroke-linejoin="round" />
<circle cx="24.4" cy="443.2" r="2.6" fill="none" stroke="#8a8a8a" stroke-width="0.9"/>
<path d="M20.0,491.0 C24.4,487.3 37.7,475.5 46.5,468.9 C55.3,462.3 66.0,456.0 73.0,451.2 C80.0,446.4 85.9,442.0 88.5,440.1" fill="none" stroke="#c814ec" stroke-width="2.1" stroke-linecap="round" stroke-linejoin="round" />
<path d="M107.5,517.5 C107.7,513.1 107.5,499.9 108.4,491.0 C109.3,482.1 111.7,471.0 112.8,464.4 C113.9,457.8 114.6,453.4 115.0,451.2" fill="none" stroke="#c814ec" stroke-width="2.1" stroke-linecap="round" stroke-linejoin="round" />
<circle cx="107.5" cy="517.5" r="2.6" fill="none" stroke="#8a8a8a" stroke-width="0.9"/>
<path d="M134.0,517.5 C132.7,513.1 128.4,499.1 126.0,491.0 C123.6,482.9 120.9,474.8 119.4,468.9 C117.9,463.0 117.6,457.8 117.2,455.6" fill="none" stroke="#c814ec" stroke-width="2.1" stroke-linecap="round" stroke-linejoin="round" />
<circle cx="134.0" cy="517.5" r="2.6" fill="none" stroke="#8a8a8a" stroke-width="0.9"/>
<path d="M420.1,289.6 C416.8,293.1 405.0,301.9 400.2,310.5 C395.4,319.1 391.7,330.4 391.3,341.5 C390.9,352.6 393.6,366.7 398.0,377.0 C402.4,387.3 410.9,396.1 417.9,403.5 C424.9,410.9 434.6,416.9 440.1,421.3 C445.6,425.7 449.3,428.6 451.1,430.1" fill="none" stroke="#c814ec" stroke-width="2.1" stroke-linecap="round" stroke-linejoin="round" />
<circle cx="420.1" cy="289.6" r="2.6" fill="none" stroke="#8a8a8a" stroke-width="0.9"/>
<path d="M517.6,328.2 C515.0,324.5 509.1,311.5 502.1,306.0 C495.1,300.5 485.8,296.1 475.5,295.0 C465.2,293.9 450.4,294.6 440.1,299.4 C429.8,304.2 419.1,313.8 413.5,323.8 C407.9,333.8 406.1,347.4 406.8,359.2 C407.5,371.0 412.3,385.1 417.9,394.7 C423.4,404.3 433.5,411.9 440.1,416.8 C446.7,421.7 454.4,423.0 457.3,424.2" fill="none" stroke="#c814ec" stroke-width="2.1" stroke-linecap="round" stroke-linejoin="round" />
<path d="M386.0,388.0 C390.6,390.6 404.5,397.9 413.5,403.5 C422.5,409.1 434.1,417.0 440.1,421.3 C446.1,425.6 447.8,428.1 449.4,429.5" fill="none" stroke="#c814ec" stroke-width="2.1" stroke-linecap="round" stroke-linejoin="round" />
<circle cx="386.0" cy="388.0" r="2.6" fill="none" stroke="#8a8a8a" stroke-width="0.9"/>
<path d="M386.0,404.9 C390.6,406.9 404.5,411.8 413.5,416.8 C422.5,421.8 435.6,431.8 440.0,434.8" fill="none" stroke="#c814ec" stroke-width="2.1" stroke-linecap="round" stroke-linejoin="round" />
<circle cx="386.0" cy="404.9" r="2.6" fill="none" stroke="#8a8a8a" stroke-width="0.9"/>
<path d="M386.0,419.5 C390.6,420.9 404.7,424.9 413.5,427.9 C422.3,430.9 434.6,435.8 438.8,437.4" fill="none" stroke="#c814ec" stroke-width="2.1" stroke-linecap="round" stroke-linejoin="round" />
<circle cx="386.0" cy="419.5" r="2.6" fill="none" stroke="#8a8a8a" stroke-width="0.9"/>
<path d="M386.0,431.0 C390.6,432.0 406.0,434.9 413.5,436.8 C421.0,438.8 427.9,441.7 430.8,442.7" fill="none" stroke="#c814ec" stroke-width="2.1" stroke-linecap="round" stroke-linejoin="round" />
<circle cx="386.0" cy="431.0" r="2.6" fill="none" stroke="#8a8a8a" stroke-width="0.9"/>
<path d="M386.2,492.6 C390.0,490.0 400.5,482.1 409.0,476.7 C417.5,471.3 432.7,462.8 437.4,460.0" fill="none" stroke="#c814ec" stroke-width="2.1" stroke-linecap="round" stroke-linejoin="round" />
<circle cx="386.2" cy="492.6" r="2.6" fill="none" stroke="#8a8a8a" stroke-width="0.9"/>
<path d="M417.5,517.5 C419.8,513.3 426.7,500.1 431.2,492.2 C435.7,484.3 441.2,476.0 444.5,470.0 C447.8,464.0 449.7,458.3 450.7,456.0" fill="none" stroke="#c814ec" stroke-width="2.1" stroke-linecap="round" stroke-linejoin="round" />
<circle cx="417.5" cy="517.5" r="2.6" fill="none" stroke="#8a8a8a" stroke-width="0.9"/>
<path d="M74.7,563.4 C72.0,566.4 63.1,574.6 58.5,581.1 C53.9,587.6 49.7,595.1 47.0,602.1 C44.3,609.1 43.0,616.2 42.2,623.2 C41.4,630.2 41.4,637.5 42.2,644.2 C43.0,650.9 44.6,657.6 47.0,663.4 C49.4,669.1 52.7,673.9 56.5,678.7 C60.3,683.5 65.8,688.3 70.0,692.1 C74.2,695.9 77.9,699.0 81.4,701.7 C84.9,704.4 89.4,707.3 91.0,708.4" fill="none" stroke="#c814ec" stroke-width="2.1" stroke-linecap="round" stroke-linejoin="round" />
<path d="M148.4,563.4 C144.3,564.8 130.9,567.9 123.6,571.5 C116.3,575.1 110.5,579.8 104.4,584.9 C98.3,590.0 92.6,595.7 87.2,602.1 C81.8,608.5 75.6,616.5 71.9,623.2 C68.2,629.9 66.3,635.9 65.2,642.3 C64.1,648.7 64.2,655.4 65.2,661.5 C66.2,667.6 68.2,673.3 70.9,678.7 C73.6,684.1 77.7,689.9 81.4,694.0 C85.1,698.1 89.9,701.4 92.9,703.6 C95.9,705.8 98.5,706.8 99.6,707.4" fill="none" stroke="#c814ec" stroke-width="2.1" stroke-linecap="round" stroke-linejoin="round" />
<path d="M192.0,563.5 C194.2,565.0 201.5,567.8 205.5,572.4 C209.5,577.0 213.2,584.5 215.8,591.0 C218.4,597.5 219.9,605.0 220.9,611.5 C221.9,618.0 222.2,624.6 222.0,630.0 C221.8,635.4 220.3,641.7 220.0,644.0" fill="none" stroke="#c814ec" stroke-width="2.1" stroke-linecap="round" stroke-linejoin="round" />
<path d="M25.9,676.8 C28.8,678.7 37.0,684.5 43.1,688.3 C49.2,692.1 55.9,695.8 62.3,699.8 C68.7,703.8 78.2,710.1 81.4,712.2" fill="none" stroke="#c814ec" stroke-width="2.1" stroke-linecap="round" stroke-linejoin="round" />
<path d="M25.9,708.4 C28.8,708.9 37.0,710.2 43.1,711.3 C49.2,712.4 57.2,713.8 62.3,715.1 C67.4,716.4 71.9,718.3 73.8,718.9" fill="none" stroke="#c814ec" stroke-width="2.1" stroke-linecap="round" stroke-linejoin="round" />
<path d="M26.3,736.3 C30.2,735.4 42.9,732.7 50.0,731.0 C57.1,729.3 65.7,727.1 68.8,726.3" fill="none" stroke="#c814ec" stroke-width="2.1" stroke-linecap="round" stroke-linejoin="round" />
<path d="M26.3,757.5 C30.2,755.9 42.5,751.1 50.0,748.0 C57.5,744.9 67.8,740.3 71.3,738.8" fill="none" stroke="#c814ec" stroke-width="2.1" stroke-linecap="round" stroke-linejoin="round" />
<path d="M26.3,776.3 C30.2,773.9 42.3,767.0 50.0,762.0 C57.7,757.0 68.8,748.9 72.5,746.3" fill="none" stroke="#c814ec" stroke-width="2.1" stroke-linecap="round" stroke-linejoin="round" />
<path d="M26.3,821.3 C30.2,815.9 41.9,799.2 50.0,788.8 C58.1,778.4 70.8,763.8 75.0,758.8" fill="none" stroke="#c814ec" stroke-width="2.1" stroke-linecap="round" stroke-linejoin="round" />
<path d="M92.5,849.0 C91.5,842.9 88.0,824.8 86.3,812.5 C84.6,800.2 83.3,785.0 82.5,775.0 C81.7,765.0 81.5,756.2 81.3,752.5" fill="none" stroke="#c814ec" stroke-width="2.1" stroke-linecap="round" stroke-linejoin="round" />
<path d="M145.0,849.0 C140.8,844.2 127.1,831.1 120.0,820.0 C112.9,808.9 106.2,795.8 102.5,782.5 C98.8,769.2 98.3,747.1 97.5,740.0" fill="none" stroke="#c814ec" stroke-width="2.1" stroke-linecap="round" stroke-linejoin="round" />
<path d="M157.5,810.0 C152.9,807.5 137.1,802.1 130.0,795.0 C122.9,787.9 118.5,777.5 115.0,767.5 C111.5,757.5 109.8,740.4 108.8,735.0" fill="none" stroke="#c814ec" stroke-width="2.1" stroke-linecap="round" stroke-linejoin="round" />
<circle cx="157.5" cy="810.0" r="2.6" fill="none" stroke="#8a8a8a" stroke-width="0.9"/>
<path d="M26.0,570.0 C26.7,569.3 29.3,566.7 30.0,566.0" fill="none" stroke="#c814ec" stroke-width="2.1" stroke-linecap="round" stroke-linejoin="round" />
<path d="M607.7,30.3 C606.5,34.0 603.8,46.4 600.3,52.8 C596.8,59.2 591.6,64.0 587.0,68.6 C582.4,73.2 575.0,78.5 572.6,80.5" fill="none" stroke="#cc1a10" stroke-width="2.1" stroke-linecap="round" stroke-linejoin="round" />
<circle cx="607.7" cy="30.3" r="2.6" fill="none" stroke="#8a8a8a" stroke-width="0.9"/>
<path d="M628.5,31.1 C626.9,34.7 623.4,46.1 618.7,52.8 C614.0,59.5 607.8,65.5 600.3,71.2 C592.8,76.9 578.3,84.4 573.9,87.1" fill="none" stroke="#cc1a10" stroke-width="2.1" stroke-linecap="round" stroke-linejoin="round" />
<circle cx="628.5" cy="31.1" r="2.6" fill="none" stroke="#8a8a8a" stroke-width="0.9"/>
<path d="M632.5,35.6 C631.1,39.3 628.5,50.7 624.0,58.0 C619.5,65.3 613.4,72.8 605.5,79.2 C597.6,85.6 581.3,93.5 576.5,96.3" fill="none" stroke="#cc1a10" stroke-width="2.1" stroke-linecap="round" stroke-linejoin="round" />
<circle cx="632.5" cy="35.6" r="2.6" fill="none" stroke="#8a8a8a" stroke-width="0.9"/>
<path d="M639.0,39.6 C637.8,43.5 636.1,55.8 631.9,63.3 C627.6,70.8 622.7,77.1 613.5,84.4 C604.3,91.7 582.7,103.2 576.5,106.9" fill="none" stroke="#cc1a10" stroke-width="2.1" stroke-linecap="round" stroke-linejoin="round" />
<circle cx="639.0" cy="39.6" r="2.6" fill="none" stroke="#8a8a8a" stroke-width="0.9"/>
<path d="M640.4,50.7 C639.0,55.5 636.9,71.4 632.0,79.2 C627.1,87.0 616.1,91.9 610.8,97.6 C605.5,103.3 602.3,109.1 600.3,113.5 C598.3,117.9 599.2,122.2 599.0,124.0" fill="none" stroke="#cc1a10" stroke-width="2.1" stroke-linecap="round" stroke-linejoin="round" />
<circle cx="640.4" cy="50.7" r="2.6" fill="none" stroke="#8a8a8a" stroke-width="0.9"/>
<path d="M642.0,105.5 C639.0,106.4 629.7,108.6 624.0,110.8 C618.3,113.0 611.3,116.1 608.0,118.7 C604.7,121.3 604.8,125.3 604.2,126.6" fill="none" stroke="#cc1a10" stroke-width="2.1" stroke-linecap="round" stroke-linejoin="round" />
<circle cx="642.0" cy="105.5" r="2.6" fill="none" stroke="#8a8a8a" stroke-width="0.9"/>
<path d="M651.0,128.5 C647.8,127.8 638.7,124.5 632.0,124.0 C625.3,123.5 614.3,125.1 610.8,125.3" fill="none" stroke="#cc1a10" stroke-width="2.1" stroke-linecap="round" stroke-linejoin="round" />
<circle cx="651.0" cy="128.5" r="2.6" fill="none" stroke="#8a8a8a" stroke-width="0.9"/>
<path d="M654.4,141.4 C650.7,140.2 639.7,135.6 632.0,134.2 C624.3,132.8 612.2,133.1 608.2,132.9" fill="none" stroke="#cc1a10" stroke-width="2.1" stroke-linecap="round" stroke-linejoin="round" />
<circle cx="654.4" cy="141.4" r="2.6" fill="none" stroke="#8a8a8a" stroke-width="0.9"/>
<path d="M651.7,165.9 C650.2,163.9 646.7,157.7 642.5,154.0 C638.3,150.3 632.3,146.6 626.6,143.5 C620.9,140.4 611.3,136.8 608.2,135.5" fill="none" stroke="#cc1a10" stroke-width="2.1" stroke-linecap="round" stroke-linejoin="round" />
<circle cx="651.7" cy="165.9" r="2.6" fill="none" stroke="#8a8a8a" stroke-width="0.9"/>
<path d="M262.2,301.8 C262.5,306.8 264.5,322.5 263.9,331.9 C263.3,341.3 262.1,351.0 258.6,358.4 C255.2,365.8 249.1,372.8 243.2,376.1 C237.3,379.4 226.6,377.9 223.3,378.3" fill="none" stroke="#cc1a10" stroke-width="2.1" stroke-linecap="round" stroke-linejoin="round" />
<circle cx="262.2" cy="301.8" r="2.6" fill="none" stroke="#8a8a8a" stroke-width="0.9"/>
<path d="M300.6,292.1 C298.8,297.2 294.4,312.7 289.6,323.0 C284.8,333.3 277.8,345.1 271.9,354.0 C266.0,362.9 260.5,369.9 254.2,376.1 C247.9,382.4 237.6,388.9 234.3,391.5" fill="none" stroke="#cc1a10" stroke-width="2.1" stroke-linecap="round" stroke-linejoin="round" />
<circle cx="300.6" cy="292.1" r="2.6" fill="none" stroke="#8a8a8a" stroke-width="0.9"/>
<path d="M308.1,298.7 C306.5,303.5 303.0,317.4 298.4,327.4 C293.8,337.3 287.3,348.8 280.7,358.4 C274.1,368.0 266.0,377.9 258.6,384.9 C251.2,391.9 240.2,397.8 236.5,400.4" fill="none" stroke="#cc1a10" stroke-width="2.1" stroke-linecap="round" stroke-linejoin="round" />
<circle cx="308.1" cy="298.7" r="2.6" fill="none" stroke="#8a8a8a" stroke-width="0.9"/>
<path d="M294.9,316.4 C295.5,320.4 299.3,331.5 298.4,340.7 C297.5,349.9 294.8,362.8 289.6,371.6 C284.5,380.4 275.6,387.8 267.5,393.7 C259.4,399.6 245.4,404.8 241.0,407.0" fill="none" stroke="#cc1a10" stroke-width="2.1" stroke-linecap="round" stroke-linejoin="round" />
<circle cx="294.9" cy="316.4" r="2.6" fill="none" stroke="#8a8a8a" stroke-width="0.9"/>
<path d="M252.6,365.7 C257.5,365.8 272.6,365.8 282.0,366.0 C291.4,366.2 303.2,366.3 309.3,367.0 C315.4,367.7 318.4,368.7 318.4,370.0 C318.4,371.3 315.5,372.8 309.3,374.7 C303.1,376.6 290.0,378.3 281.0,381.1 C272.0,383.9 262.1,388.4 255.2,391.4 C248.3,394.4 242.3,397.9 239.7,399.2" fill="none" stroke="#cc1a10" stroke-width="2.1" stroke-linecap="round" stroke-linejoin="round" />
<circle cx="252.6" cy="365.7" r="2.6" fill="none" stroke="#8a8a8a" stroke-width="0.9"/>
<path d="M255.2,406.6 C261.0,406.1 278.9,404.1 290.0,403.5 C301.1,402.9 316.7,402.8 322.0,402.7" fill="none" stroke="#cc1a10" stroke-width="2.1" stroke-linecap="round" stroke-linejoin="round" />
<path d="M260.4,415.1 C265.3,415.3 279.7,415.8 290.0,416.5 C300.3,417.2 316.7,419.0 322.0,419.5" fill="none" stroke="#cc1a10" stroke-width="2.1" stroke-linecap="round" stroke-linejoin="round" />
<path d="M259.0,419.5 C263.9,421.0 278.2,422.7 288.7,428.5 C299.2,434.3 316.4,450.0 322.0,454.3" fill="none" stroke="#cc1a10" stroke-width="2.1" stroke-linecap="round" stroke-linejoin="round" />
<path d="M234.6,544.0 C241.0,538.5 265.5,521.2 273.2,511.0 C280.9,500.8 280.1,491.2 281.0,482.6 C281.9,474.0 281.4,467.1 278.4,459.4 C275.4,451.7 268.9,441.9 262.9,436.2 C256.9,430.5 245.7,427.2 242.3,425.4" fill="none" stroke="#cc1a10" stroke-width="2.1" stroke-linecap="round" stroke-linejoin="round" />
<circle cx="234.6" cy="544.0" r="2.6" fill="none" stroke="#8a8a8a" stroke-width="0.9"/>
<path d="M591.7,295.0 C592.7,299.1 596.8,310.1 597.4,319.3 C598.0,328.5 597.1,341.2 595.2,350.4 C593.4,359.6 589.6,368.8 586.3,374.7 C583.0,380.6 577.1,383.9 575.3,385.8" fill="none" stroke="#cc1a10" stroke-width="2.1" stroke-linecap="round" stroke-linejoin="round" />
<circle cx="591.7" cy="295.0" r="2.6" fill="none" stroke="#8a8a8a" stroke-width="0.9"/>
<path d="M643.1,300.7 C642.5,305.3 641.6,318.4 639.5,328.2 C637.4,337.9 635.1,349.6 630.7,359.2 C626.3,368.8 619.5,378.8 612.9,385.8 C606.2,392.8 594.5,398.7 590.8,401.3" fill="none" stroke="#cc1a10" stroke-width="2.1" stroke-linecap="round" stroke-linejoin="round" />
<circle cx="643.1" cy="300.7" r="2.6" fill="none" stroke="#8a8a8a" stroke-width="0.9"/>
<path d="M679.0,328.2 C674.6,331.9 661.6,342.3 652.8,350.4 C644.0,358.5 635.1,367.8 626.2,377.0 C617.3,386.2 604.0,401.0 599.6,405.8" fill="none" stroke="#cc1a10" stroke-width="2.1" stroke-linecap="round" stroke-linejoin="round" />
<path d="M679.0,352.6 C673.9,355.6 657.9,363.7 648.4,370.3 C638.9,376.9 629.6,386.2 621.8,392.5 C614.0,398.8 605.1,405.4 601.8,408.0" fill="none" stroke="#cc1a10" stroke-width="2.1" stroke-linecap="round" stroke-linejoin="round" />
<path d="M679.0,381.4 C673.9,383.6 658.7,390.3 648.4,394.7 C638.1,399.1 624.8,404.7 617.4,408.0 C610.0,411.3 606.3,413.5 604.1,414.6" fill="none" stroke="#cc1a10" stroke-width="2.1" stroke-linecap="round" stroke-linejoin="round" />
<path d="M670.6,412.4 C666.2,412.4 652.9,411.8 644.0,412.4 C635.1,413.0 623.7,414.9 617.4,416.0 C611.1,417.1 608.1,418.5 606.3,419.0" fill="none" stroke="#cc1a10" stroke-width="2.1" stroke-linecap="round" stroke-linejoin="round" />
<circle cx="670.6" cy="412.4" r="2.6" fill="none" stroke="#8a8a8a" stroke-width="0.9"/>
<path d="M679.0,427.9 C673.2,426.8 653.5,422.4 644.0,421.3 C634.5,420.2 625.5,421.3 621.8,421.3" fill="none" stroke="#cc1a10" stroke-width="2.1" stroke-linecap="round" stroke-linejoin="round" />
<path d="M679.0,443.4 C674.6,442.1 660.5,437.0 652.8,435.5 C645.1,434.0 636.2,434.8 632.9,434.6" fill="none" stroke="#cc1a10" stroke-width="2.1" stroke-linecap="round" stroke-linejoin="round" />
<path d="M679.0,456.7 C676.1,454.9 666.8,447.5 661.7,445.7 C656.6,443.9 650.6,445.7 648.4,445.7" fill="none" stroke="#cc1a10" stroke-width="2.1" stroke-linecap="round" stroke-linejoin="round" />
<path d="M238.5,564.0 C238.3,569.0 238.5,585.3 237.2,593.7 C235.9,602.1 232.8,608.5 230.7,614.3 C228.5,620.1 225.4,626.1 224.3,628.5" fill="none" stroke="#cc1a10" stroke-width="2.1" stroke-linecap="round" stroke-linejoin="round" />
<path d="M259.0,564.0 C257.7,569.0 254.5,584.9 251.3,593.7 C248.1,602.5 243.3,610.0 239.7,616.9 C236.0,623.8 231.1,631.9 229.4,634.9" fill="none" stroke="#cc1a10" stroke-width="2.1" stroke-linecap="round" stroke-linejoin="round" />
<path d="M273.2,564.0 C271.5,569.8 267.2,588.3 262.9,598.8 C258.6,609.3 252.7,619.7 247.5,627.2 C242.3,634.7 234.6,641.1 232.0,643.9" fill="none" stroke="#cc1a10" stroke-width="2.1" stroke-linecap="round" stroke-linejoin="round" />
<path d="M304.2,564.0 C301.2,570.2 293.0,589.6 286.1,601.4 C279.2,613.2 271.9,626.3 262.9,634.9 C253.9,643.5 237.2,649.9 232.0,652.9" fill="none" stroke="#cc1a10" stroke-width="2.1" stroke-linecap="round" stroke-linejoin="round" />
<path d="M313.0,619.4 C307.7,622.8 291.5,631.8 281.0,640.0 C270.5,648.2 256.9,661.3 250.0,668.4 C243.1,675.5 241.4,680.2 239.7,682.6" fill="none" stroke="#cc1a10" stroke-width="2.1" stroke-linecap="round" stroke-linejoin="round" />
<path d="M313.0,660.7 C306.4,662.4 284.8,666.5 273.2,671.0 C261.6,675.5 248.5,684.9 243.6,687.7" fill="none" stroke="#cc1a10" stroke-width="2.1" stroke-linecap="round" stroke-linejoin="round" />
<path d="M313.0,704.5 C305.9,703.9 282.1,701.9 270.7,700.6 C259.3,699.3 249.2,697.4 244.9,696.8" fill="none" stroke="#cc1a10" stroke-width="2.1" stroke-linecap="round" stroke-linejoin="round" />
<path d="M313.0,736.1 C307.7,733.5 291.1,725.6 281.0,720.6 C270.9,715.6 257.3,708.8 252.6,706.4" fill="none" stroke="#cc1a10" stroke-width="2.1" stroke-linecap="round" stroke-linejoin="round" />
<path d="M313.0,782.5 C308.9,779.1 295.8,769.6 288.7,761.9 C281.6,754.2 276.7,743.4 270.7,736.1 C264.7,728.8 255.6,721.0 252.6,718.0" fill="none" stroke="#cc1a10" stroke-width="2.1" stroke-linecap="round" stroke-linejoin="round" />
<path d="M313.0,808.2 C308.9,803.5 295.3,789.8 288.7,779.9 C282.1,770.0 276.2,755.9 273.2,749.0 C270.2,742.1 271.1,740.4 270.7,738.7" fill="none" stroke="#cc1a10" stroke-width="2.1" stroke-linecap="round" stroke-linejoin="round" />
<path d="M131.9,64.2 C131.2,67.6 129.6,79.2 127.4,84.8 C125.2,90.4 122.3,94.1 118.6,98.0 C114.9,101.9 109.5,104.7 105.3,108.4 C101.1,112.1 97.0,116.4 93.6,120.1 C90.2,123.8 84.2,128.0 84.7,130.5 C85.2,133.0 92.1,133.2 96.5,134.9 C100.9,136.6 107.0,138.6 111.2,140.8 C115.4,143.0 118.0,145.7 121.5,148.1 C125.0,150.5 128.7,154.2 131.9,155.5 C135.1,156.8 136.8,155.6 140.7,156.1 C144.6,156.6 151.5,158.2 155.4,158.4 C159.3,158.6 162.8,157.2 164.3,157.0" fill="none" stroke="#000" stroke-width="3.6" stroke-linecap="round" stroke-linejoin="round" />
<path d="M174.2,159.7 C175.7,159.4 180.3,159.3 183.0,158.2 C185.7,157.1 188.2,155.0 190.4,153.1 C192.6,151.2 194.3,148.2 196.3,146.5 C198.3,144.8 200.2,143.4 202.2,142.8 C204.2,142.2 206.1,142.2 208.1,142.8 C210.1,143.4 212.9,145.9 213.9,146.5" fill="none" stroke="#000" stroke-width="2.8" stroke-linecap="round" stroke-linejoin="round" />
<path d="M149.1,89.8 C151.6,89.7 159.7,88.9 163.9,89.0 C168.1,89.1 171.6,89.6 174.2,90.5 C176.8,91.4 178.8,92.6 179.3,94.2 C179.8,95.8 178.7,98.4 177.1,100.1 C175.5,101.8 172.7,103.8 169.8,104.5 C166.9,105.2 162.7,104.4 159.5,104.5 C156.3,104.6 152.4,104.5 150.6,105.2 C148.8,105.9 148.4,107.6 148.4,108.9 C148.4,110.2 149.4,112.3 150.6,113.3 C151.8,114.3 154.3,115.3 155.8,114.8 C157.3,114.3 158.9,111.1 159.5,110.4" fill="none" stroke="#000" stroke-width="2.6" stroke-linecap="round" stroke-linejoin="round" />
<path d="M165.3,60.3 C166.8,61.8 171.6,65.9 174.2,69.1 C176.8,72.3 179.6,76.3 180.8,79.5 C182.0,82.7 181.8,85.6 181.5,88.3 C181.2,91.0 179.7,94.5 179.3,95.7" fill="none" stroke="#000" stroke-width="2.4" stroke-linecap="round" stroke-linejoin="round" />
<path d="M172.7,72.1 C173.7,72.8 176.4,74.3 178.6,76.5 C180.8,78.7 183.8,82.3 186.0,85.3 C188.2,88.2 190.7,91.2 191.9,94.2 C193.1,97.2 193.6,99.6 193.3,103.0 C193.1,106.4 191.0,111.4 190.4,114.8 C189.8,118.2 189.1,120.8 189.6,123.6 C190.1,126.4 191.5,130.0 193.3,131.7 C195.2,133.4 198.0,134.1 200.7,133.9 C203.4,133.7 207.1,130.5 209.5,130.3 C211.9,130.1 213.4,130.7 215.4,132.5 C217.4,134.3 219.5,138.4 221.3,141.3 C223.2,144.2 225.6,148.6 226.5,150.1" fill="none" stroke="#000" stroke-width="3.6" stroke-linecap="round" stroke-linejoin="round" />
<path d="M154.3,119.2 C152.5,120.2 146.0,122.9 143.3,125.1 C140.6,127.3 138.8,129.8 138.1,132.5 C137.3,135.2 137.7,139.0 138.8,141.3 C139.9,143.6 142.2,145.4 144.7,146.5 C147.2,147.6 150.4,147.5 153.6,147.9 C156.8,148.3 160.5,148.3 163.9,148.7 C167.3,149.1 172.5,149.9 174.2,150.1" fill="none" stroke="#000" stroke-width="3" stroke-linecap="round" stroke-linejoin="round" />
<path d="M234.5,27.5 C234.4,29.1 235.6,34.2 233.9,37.0 C232.2,39.8 227.0,42.0 224.5,44.5 C222.0,47.0 220.1,49.2 218.8,52.0 C217.6,54.8 217.8,57.6 217.0,61.4 C216.2,65.2 215.2,70.2 214.1,74.6 C213.0,79.0 211.2,83.4 210.4,87.8 C209.6,92.2 209.2,97.7 209.4,101.0 C209.6,104.3 209.4,107.0 211.3,107.6 C213.2,108.2 217.2,106.0 220.7,104.7 C224.1,103.4 229.0,100.0 232.0,100.0 C235.0,100.0 237.7,102.3 238.6,104.7 C239.5,107.1 238.8,111.1 237.7,114.2 C236.6,117.3 233.1,120.8 232.0,123.6 C230.9,126.4 230.1,128.6 231.0,131.1 C231.9,133.6 235.0,136.4 237.7,138.6 C240.4,140.8 245.2,142.1 247.1,144.3 C249.0,146.5 248.8,148.7 249.0,151.8 C249.2,154.9 249.1,160.9 248.0,163.1 C246.9,165.3 245.1,165.5 242.4,165.0 C239.7,164.5 234.4,160.9 232.0,160.3 C229.6,159.7 228.8,161.0 228.2,161.2" fill="none" stroke="#000" stroke-width="3.6" stroke-linecap="round" stroke-linejoin="round" />
<path d="M500.3,34.3 C501.8,35.2 505.3,37.8 509.5,39.6 C513.7,41.4 521.0,42.9 525.4,44.9 C529.8,46.9 532.9,48.6 536.0,51.5 C539.1,54.4 540.9,59.2 544.0,62.1 C547.1,65.0 551.1,66.7 554.6,68.7 C558.1,70.7 562.8,71.6 565.2,74.0 C567.6,76.4 568.3,79.1 569.2,83.3 C570.1,87.5 569.8,94.3 570.5,99.2 C571.2,104.1 571.9,108.5 573.2,112.5 C574.5,116.5 575.9,120.9 578.5,123.1 C581.1,125.3 585.6,125.3 589.1,125.7 C592.6,126.1 597.3,124.8 599.7,125.7 C602.1,126.6 604.1,129.0 603.6,131.0 C603.1,133.0 599.6,135.9 597.0,137.7 C594.4,139.5 589.5,141.3 588.0,142.0" fill="none" stroke="#000" stroke-width="3.0" stroke-linecap="round" stroke-linejoin="round" />
<path d="M559.9,101.9 C559.2,105.0 556.3,115.6 555.9,120.4 C555.5,125.2 555.3,128.3 557.3,131.0 C559.3,133.7 564.6,134.5 567.9,136.3 C571.2,138.1 576.3,139.8 577.2,141.6 C578.1,143.4 574.5,145.9 573.2,147.0 C571.9,148.1 569.9,148.1 569.2,148.3" fill="none" stroke="#000" stroke-width="4.2" stroke-linecap="round" stroke-linejoin="round" />
<path d="M583.8,144.3 C585.6,145.0 591.3,146.5 594.4,148.3 C597.5,150.1 600.5,152.7 602.3,154.9 C604.1,157.1 604.5,160.4 605.0,161.5" fill="none" stroke="#000" stroke-width="3.6" stroke-linecap="round" stroke-linejoin="round" />
<path d="M492.3,137.7 C492.5,133.9 492.1,120.6 493.6,115.1 C495.2,109.6 497.6,107.6 501.6,104.5 C505.6,101.4 512.6,99.5 517.5,96.6 C522.4,93.7 526.3,89.3 530.7,87.3 C535.1,85.3 540.5,84.6 544.0,84.6 C547.5,84.6 549.6,85.3 552.0,87.3 C554.4,89.3 557.3,93.7 558.6,96.6 C559.9,99.5 559.7,103.2 559.9,104.5" fill="none" stroke="#000" stroke-width="2.6" stroke-linecap="round" stroke-linejoin="round" />
<path d="M479.1,107.1 C478.3,108.8 475.6,114.2 474.3,117.6 C473.0,120.9 473.2,124.8 471.5,127.2 C469.8,129.6 466.7,130.4 463.8,132.0 C460.9,133.6 457.1,134.7 454.2,136.8 C451.3,138.9 448.8,142.0 446.6,144.4 C444.4,146.8 440.8,149.9 440.8,151.2 C440.8,152.5 442.5,151.8 446.6,152.1 C450.8,152.4 459.3,152.8 465.7,153.1 C472.1,153.4 479.2,153.5 484.9,154.0 C490.6,154.5 495.0,155.5 500.0,156.3 C505.0,157.1 512.3,158.5 514.8,158.9" fill="none" stroke="#000" stroke-width="3.6" stroke-linecap="round" stroke-linejoin="round" />
<path d="M479.0,153.6 C481.9,154.7 491.2,158.2 496.3,160.2 C501.4,162.2 505.5,164.2 509.5,165.5 C513.5,166.8 518.3,167.8 520.1,168.2" fill="none" stroke="#000" stroke-width="3.8" stroke-linecap="round" stroke-linejoin="round" />
<path d="M485.7,147.0 C487.9,146.6 493.6,145.2 498.9,144.3 C504.2,143.4 511.3,142.7 517.5,141.6 C523.7,140.5 530.2,139.0 536.0,137.7 C541.8,136.4 549.3,134.4 552.0,133.7" fill="none" stroke="#000" stroke-width="2.4" stroke-linecap="round" stroke-linejoin="round" />
<path d="M487.0,112.5 C489.0,111.8 495.1,109.6 498.9,108.5 C502.6,107.4 507.7,106.3 509.5,105.9" fill="none" stroke="#000" stroke-width="2.2" stroke-linecap="round" stroke-linejoin="round" />
<path d="M578.5,149.6 C579.2,151.3 581.2,155.6 583.0,160.0 C584.8,164.4 588.1,173.4 589.1,176.1" fill="none" stroke="#000" stroke-width="2.4" stroke-linecap="round" stroke-linejoin="round" />
<path d="M485.7,147.0 C486.4,147.5 487.6,149.2 490.0,150.0 C492.4,150.8 498.3,151.7 500.0,152.0" fill="none" stroke="#000" stroke-width="2.0" stroke-linecap="round" stroke-linejoin="round" />
<path d="M118.3,396.9 C118.0,398.6 117.7,403.6 116.4,407.2 C115.2,410.8 113.0,415.7 110.8,418.5 C108.6,421.3 106.8,422.8 103.2,424.2 C99.6,425.6 92.5,425.8 89.1,427.0 C85.6,428.2 83.8,430.0 82.5,431.7 C81.2,433.4 81.1,435.7 81.6,437.4 C82.1,439.1 83.4,441.0 85.4,442.1 C87.4,443.2 91.1,443.6 93.8,444.0 C96.5,444.4 98.6,443.5 101.4,444.4 C104.2,445.3 108.0,447.8 110.8,449.6 C113.6,451.4 116.4,453.1 118.3,455.3 C120.2,457.5 121.3,460.1 122.1,462.8 C122.9,465.5 122.8,469.9 123.0,471.3" fill="none" stroke="#000" stroke-width="3.9" stroke-linecap="round" stroke-linejoin="round" />
<path d="M158.1,323.4 C159.7,324.6 164.1,328.4 167.4,330.6 C170.7,332.8 174.6,334.4 177.7,336.8 C180.8,339.2 183.6,342.4 186.0,345.1 C188.4,347.9 190.1,351.1 192.2,353.3 C194.3,355.5 196.3,358.1 198.4,358.5 C200.5,358.9 202.4,356.8 204.5,355.4 C206.6,354.0 209.0,349.9 210.7,350.2 C212.4,350.5 213.9,354.1 214.8,357.4 C215.7,360.7 214.9,366.4 215.9,369.8 C216.9,373.2 219.3,375.2 221.0,378.0 C222.7,380.8 225.2,383.2 226.2,386.3 C227.2,389.4 227.2,393.5 227.2,396.6 C227.2,399.7 225.7,402.4 226.2,404.8 C226.7,407.2 228.1,409.4 230.3,411.0 C232.5,412.6 236.3,413.4 239.6,414.1 C242.9,414.8 247.7,414.2 249.9,415.2 C252.1,416.2 253.7,418.9 253.0,420.3 C252.3,421.7 248.6,422.5 245.8,423.4 C243.1,424.3 238.2,424.5 236.5,425.5 C234.8,426.5 234.3,428.2 235.5,429.6 C236.7,431.0 241.5,432.0 243.7,433.7 C245.9,435.4 247.7,437.1 248.9,439.9 C250.1,442.6 250.6,447.3 250.9,450.2 C251.2,453.1 250.9,456.2 250.9,457.4" fill="none" stroke="#000" stroke-width="3.8" stroke-linecap="round" stroke-linejoin="round" />
<path d="M174.6,355.4 C176.2,356.4 181.2,359.1 183.9,361.5 C186.7,363.9 188.9,366.7 191.1,369.8 C193.3,372.9 195.8,376.3 197.3,380.1 C198.9,383.9 199.9,390.4 200.4,392.5" fill="none" stroke="#000" stroke-width="2.6" stroke-linecap="round" stroke-linejoin="round" />
<path d="M205.6,394.5 C205.4,396.2 205.4,401.9 204.5,404.8 C203.6,407.7 201.1,410.9 200.4,412.1" fill="none" stroke="#000" stroke-width="3.4" stroke-linecap="round" stroke-linejoin="round" />
<path d="M158.1,356.4 C157.2,356.9 154.4,357.3 153.0,359.5 C151.6,361.7 150.6,366.4 149.9,369.8 C149.2,373.2 148.6,377.0 148.9,380.1 C149.2,383.2 151.0,386.5 152.0,388.4 C153.0,390.3 154.6,390.9 155.1,391.4" fill="none" stroke="#000" stroke-width="2.6" stroke-linecap="round" stroke-linejoin="round" />
<path d="M181.9,370.8 C180.9,371.3 177.4,372.3 175.7,373.9 C174.0,375.4 173.2,378.4 171.5,380.1 C169.8,381.8 167.6,383.0 165.4,384.2 C163.2,385.4 160.2,386.1 158.1,387.3 C156.0,388.5 153.8,390.7 153.0,391.4" fill="none" stroke="#000" stroke-width="2.6" stroke-linecap="round" stroke-linejoin="round" />
<path d="M130.3,400.7 C132.0,400.0 137.2,398.0 140.6,396.6 C144.0,395.2 147.5,393.4 150.9,392.5 C154.3,391.6 156.7,391.6 161.2,391.4 C165.7,391.2 174.9,391.4 177.7,391.4" fill="none" stroke="#000" stroke-width="2.6" stroke-linecap="round" stroke-linejoin="round" />
<path d="M141.6,405.9 C140.8,407.1 138.4,411.1 136.5,413.1 C134.6,415.2 131.3,417.4 130.3,418.2" fill="none" stroke="#000" stroke-width="2.6" stroke-linecap="round" stroke-linejoin="round" />
<path d="M156.1,426.5 C154.2,427.0 147.4,428.4 144.7,429.6 C141.9,430.8 140.3,431.6 139.6,433.7 C138.9,435.8 139.0,440.1 140.6,442.0 C142.2,443.9 145.5,445.7 148.9,445.0 C152.3,444.3 157.1,440.4 161.2,437.8 C165.3,435.2 169.5,432.0 173.6,429.6 C177.7,427.2 181.5,424.9 186.0,423.4 C190.5,421.8 196.3,420.5 200.4,420.3 C204.5,420.1 207.6,420.8 210.7,422.4 C213.8,423.9 216.9,427.0 219.0,429.6 C221.1,432.2 221.7,435.1 223.1,437.8 C224.5,440.6 225.6,443.7 227.2,446.1 C228.8,448.5 231.5,450.1 232.4,452.3 C233.3,454.5 232.4,458.3 232.4,459.5" fill="none" stroke="#000" stroke-width="3.6" stroke-linecap="round" stroke-linejoin="round" />
<path d="M495.8,397.7 C493.3,399.8 485.6,406.0 481.0,410.0 C476.4,414.0 472.3,417.4 467.9,421.5 C463.5,425.6 459.1,431.3 454.7,434.8 C450.3,438.3 444.7,440.3 441.4,442.7 C438.1,445.1 434.4,448.1 434.8,449.4 C435.2,450.7 439.4,450.9 444.0,450.7 C448.6,450.5 456.9,447.1 462.6,448.0 C468.4,448.9 473.2,453.1 478.5,456.0 C483.8,458.9 490.1,462.2 494.5,465.3 C498.9,468.4 503.2,473.1 505.0,474.6" fill="none" stroke="#000" stroke-width="4.2" stroke-linecap="round" stroke-linejoin="round" />
<path d="M526.5,330.4 C529.1,332.2 538.6,337.4 542.0,341.5 C545.4,345.6 544.4,350.9 546.6,355.0 C548.8,359.1 551.9,363.8 555.4,366.0 C558.9,368.2 564.8,366.9 567.8,368.0 C570.8,369.1 572.4,370.5 573.1,372.4 C573.8,374.3 571.6,376.8 572.2,379.4 C572.8,382.0 574.7,385.4 576.6,388.3 C578.5,391.2 581.1,394.2 583.7,397.1 C586.4,400.1 589.9,403.1 592.5,406.0 C595.1,408.9 596.7,412.0 599.6,414.8 C602.5,417.6 605.9,420.3 610.0,422.7 C614.1,425.1 619.9,426.4 624.0,429.3 C628.1,432.2 630.9,436.8 634.6,439.9 C638.3,443.0 644.4,446.5 646.4,447.8" fill="none" stroke="#000" stroke-width="3.8" stroke-linecap="round" stroke-linejoin="round" />
<path d="M520.0,451.9 C521.8,450.4 527.2,445.5 530.7,443.1 C534.2,440.8 537.8,439.3 541.3,437.8 C544.8,436.3 547.5,434.8 551.9,434.2 C556.3,433.6 564.0,433.3 567.8,434.2 C571.6,435.1 572.4,437.4 574.8,439.5 C577.1,441.6 579.5,444.0 581.9,446.6 C584.3,449.2 586.9,452.2 589.0,455.4 C591.1,458.6 593.4,464.2 594.3,466.0" fill="none" stroke="#000" stroke-width="4.0" stroke-linecap="round" stroke-linejoin="round" />
<path d="M511.2,439.5 C509.7,439.8 504.9,440.1 502.4,441.3 C499.9,442.5 497.4,444.5 496.2,446.6 C495.0,448.7 494.6,451.9 495.3,453.7 C496.0,455.5 498.0,456.3 500.6,457.2 C503.2,458.1 507.4,458.4 511.2,459.0 C515.0,459.6 519.3,460.3 523.6,460.7 C527.9,461.1 534.6,461.5 536.8,461.6" fill="none" stroke="#000" stroke-width="3.2" stroke-linecap="round" stroke-linejoin="round" />
<path d="M530.7,425.4 C529.8,424.4 527.4,420.4 525.3,419.2 C523.2,418.0 520.3,417.6 518.3,418.3 C516.2,419.0 513.6,421.5 513.0,423.6 C512.4,425.7 513.2,429.2 514.7,430.7 C516.2,432.2 519.7,432.8 521.8,432.5 C523.9,432.2 526.1,430.2 527.1,428.9 C528.1,427.6 527.9,425.2 528.0,424.5" fill="none" stroke="#000" stroke-width="3.0" stroke-linecap="round" stroke-linejoin="round" />
<path d="M534.2,422.7 C535.2,423.3 539.4,425.7 540.4,426.3" fill="none" stroke="#000" stroke-width="2.6" stroke-linecap="round" stroke-linejoin="round" />
<path d="M516.5,381.2 C518.0,381.5 522.0,382.4 525.3,383.0 C528.5,383.6 532.5,384.1 536.0,384.7 C539.5,385.3 543.7,385.6 546.6,386.5 C549.5,387.4 551.7,388.2 553.6,390.0 C555.5,391.8 557.1,394.7 558.0,397.1 C558.9,399.5 558.8,403.0 558.9,404.2" fill="none" stroke="#000" stroke-width="2.8" stroke-linecap="round" stroke-linejoin="round" />
<path d="M520.0,382.1 C520.1,383.1 521.2,386.4 520.9,388.3 C520.6,390.2 519.6,392.3 518.3,393.6 C517.0,394.9 514.5,395.0 513.0,396.2 C511.5,397.4 509.8,398.8 509.4,400.7 C508.9,402.6 509.4,405.9 510.3,407.7 C511.2,409.5 513.4,411.1 514.7,411.3 C516.0,411.5 517.7,409.1 518.3,408.6" fill="none" stroke="#000" stroke-width="3.0" stroke-linecap="round" stroke-linejoin="round" />
<path d="M500.6,372.4 C500.0,373.3 497.5,375.9 497.1,377.7 C496.7,379.5 497.9,382.1 498.0,383.0" fill="none" stroke="#000" stroke-width="2.8" stroke-linecap="round" stroke-linejoin="round" />
<path d="M504.1,377.7 C504.7,378.0 506.2,379.4 507.7,379.4 C509.2,379.4 511.7,378.6 513.0,377.7 C514.3,376.8 515.2,374.7 515.6,374.1" fill="none" stroke="#000" stroke-width="2.6" stroke-linecap="round" stroke-linejoin="round" />
<path d="M490.0,398.9 C490.9,398.6 494.4,397.4 495.3,397.1" fill="none" stroke="#000" stroke-width="2.6" stroke-linecap="round" stroke-linejoin="round" />
<path d="M490.0,466.0 C491.5,466.6 496.4,468.1 498.8,469.6 C501.2,471.1 503.2,474.0 504.1,474.9" fill="none" stroke="#000" stroke-width="3.0" stroke-linecap="round" stroke-linejoin="round" />
<path d="M102.5,706.3 C100.4,707.3 94.6,710.4 90.0,712.5 C85.4,714.6 77.9,715.0 75.0,718.8 C72.1,722.5 72.5,729.8 72.5,735.0 C72.5,740.2 74.0,746.0 75.0,750.0 C76.0,754.0 78.2,757.3 78.8,758.8" fill="none" stroke="#000" stroke-width="4.2" stroke-linecap="round" stroke-linejoin="round" />
<path d="M117.5,731.3 C115.4,731.1 109.6,729.2 105.0,730.0 C100.4,730.8 94.4,733.4 90.0,736.3 C85.6,739.2 80.7,745.6 78.8,747.5" fill="none" stroke="#000" stroke-width="4.0" stroke-linecap="round" stroke-linejoin="round" />
<path d="M184.3,625.9 C185.8,626.3 190.2,626.1 193.4,628.5 C196.6,630.9 199.8,637.0 203.7,640.0 C207.5,643.0 213.1,643.7 216.5,646.5 C219.9,649.3 222.8,652.7 224.3,656.8 C225.8,660.9 224.5,666.5 225.6,671.0 C226.7,675.5 228.1,680.9 230.7,683.9 C233.3,686.9 239.1,686.4 241.0,689.0 C242.9,691.6 241.2,695.9 242.3,699.3 C243.4,702.7 245.6,706.9 247.5,709.6 C249.4,712.3 250.7,712.4 253.9,715.5 C257.1,718.6 264.4,724.1 266.8,728.4 C269.2,732.7 269.2,737.8 268.1,741.2 C267.0,744.6 261.7,747.7 260.4,749.0" fill="none" stroke="#000" stroke-width="3.8" stroke-linecap="round" stroke-linejoin="round" />
<path d="M211.4,622.0 C213.1,623.3 218.9,626.7 221.7,629.7 C224.5,632.7 227.0,636.1 228.1,640.0 C229.2,643.9 228.1,650.8 228.1,653.0" fill="none" stroke="#000" stroke-width="3.4" stroke-linecap="round" stroke-linejoin="round" />
<path d="M167.4,699.6 C166.4,698.6 163.9,694.6 161.2,693.4 C158.4,692.2 154.3,692.2 150.9,692.4 C147.5,692.6 143.3,693.0 140.6,694.4 C137.8,695.8 135.8,697.9 134.4,700.6 C133.0,703.4 132.6,707.8 132.4,710.9 C132.2,714.0 132.4,717.0 133.4,719.2 C134.4,721.4 136.9,722.6 138.6,724.3 C140.3,726.0 143.0,727.6 143.7,729.5 C144.4,731.4 141.8,734.0 142.7,735.7 C143.6,737.4 146.2,738.9 148.9,739.8 C151.7,740.6 157.5,740.6 159.2,740.8" fill="none" stroke="#000" stroke-width="3.0" stroke-linecap="round" stroke-linejoin="round" />
<path d="M155.1,708.9 C154.6,709.6 152.5,711.0 152.0,713.0 C151.5,715.0 151.8,718.5 152.0,721.2 C152.2,724.0 152.8,728.1 153.0,729.5" fill="none" stroke="#000" stroke-width="2.6" stroke-linecap="round" stroke-linejoin="round" />
<path d="M170.5,704.7 C169.3,705.1 165.4,705.4 163.3,706.8 C161.2,708.2 158.8,710.6 158.1,713.0 C157.4,715.4 158.2,719.3 159.2,721.2 C160.2,723.1 162.8,724.3 164.3,724.3 C165.9,724.3 167.5,722.8 168.5,721.2 C169.5,719.7 169.8,716.9 170.5,715.0 C171.2,713.1 172.2,710.8 172.6,709.9" fill="none" stroke="#000" stroke-width="2.6" stroke-linecap="round" stroke-linejoin="round" />
<path d="M175.7,710.9 C176.7,710.4 180.2,707.8 181.9,707.8 C183.6,707.8 185.7,709.3 186.0,710.9 C186.3,712.5 185.3,715.7 183.9,717.1 C182.5,718.5 179.2,718.2 177.7,719.2 C176.1,720.2 173.9,723.0 174.6,723.3 C175.3,723.6 179.0,721.9 181.9,721.2 C184.8,720.5 189.1,719.2 192.2,719.2 C195.3,719.2 198.0,719.8 200.4,721.2 C202.8,722.6 204.5,724.6 206.6,727.4 C208.7,730.1 210.4,734.3 212.8,737.7 C215.2,741.1 218.6,747.0 221.0,748.0 C223.4,749.0 225.5,745.9 227.2,743.9 C228.9,741.9 230.6,737.1 231.3,735.7" fill="none" stroke="#000" stroke-width="3.0" stroke-linecap="round" stroke-linejoin="round" />
<path d="M221.0,726.4 C220.2,725.9 216.6,724.8 215.9,723.3 C215.2,721.8 215.4,719.0 216.9,717.1 C218.4,715.2 222.1,712.9 225.2,712.0 C228.3,711.1 232.4,711.1 235.5,712.0 C238.6,712.9 242.0,715.4 243.7,717.1 C245.4,718.8 245.5,721.4 245.8,722.3" fill="none" stroke="#000" stroke-width="3.0" stroke-linecap="round" stroke-linejoin="round" />
<path d="M164.3,750.1 C165.2,751.5 166.9,755.6 169.5,758.4 C172.1,761.1 176.4,763.9 179.8,766.6 C183.2,769.3 188.4,773.4 190.1,774.8" fill="none" stroke="#000" stroke-width="3.0" stroke-linecap="round" stroke-linejoin="round" />
<line x1="181.0" y1="194.4" x2="167.2" y2="150.0" stroke="#000" stroke-width="2.0"/>
<path d="M172.7,155.8 L167.2,150.0 L166.0,157.9" fill="none" stroke="#000" stroke-width="2.8" stroke-linejoin="miter"/>
<line x1="210.9" y1="193.1" x2="196.0" y2="150.0" stroke="#000" stroke-width="2.0"/>
<path d="M201.6,155.7 L196.0,150.0 L195.1,157.9" fill="none" stroke="#000" stroke-width="2.8" stroke-linejoin="miter"/>
<text x="68.1" y="152.4" font-family="'Liberation Sans', sans-serif" font-size="16.3" fill="#000" font-weight="normal" text-anchor="start" textLength="39.0" lengthAdjust="spacingAndGlyphs" stroke="#000" stroke-width="0.35">outer</text>
<text x="72.5" y="173.4" font-family="'Liberation Sans', sans-serif" font-size="16.3" fill="#000" font-weight="normal" text-anchor="start" textLength="27.3" lengthAdjust="spacingAndGlyphs" stroke="#000" stroke-width="0.35">QSL</text>
<text x="252.7" y="151.8" font-family="'Liberation Sans', sans-serif" font-size="16.3" fill="#000" font-weight="normal" text-anchor="start" textLength="39.6" lengthAdjust="spacingAndGlyphs" stroke="#000" stroke-width="0.35">outer</text>
<text x="256.5" y="172.5" font-family="'Liberation Sans', sans-serif" font-size="16.3" fill="#000" font-weight="normal" text-anchor="start" textLength="27.3" lengthAdjust="spacingAndGlyphs" stroke="#000" stroke-width="0.35">QSL</text>
<text x="164.7" y="207.5" font-family="'Liberation Sans', sans-serif" font-size="16.3" fill="#000" font-weight="normal" text-anchor="start" textLength="68.3" lengthAdjust="spacingAndGlyphs" stroke="#000" stroke-width="0.35">inner QSL</text>
<g clip-path="url(#cF)">
<g filter="url(#b10)">
<ellipse cx="560.0" cy="695.0" rx="50.0" ry="35.0" fill="#555" fill-opacity="0.45" transform="rotate(0.0 560.0 695.0)"/>
<ellipse cx="625.0" cy="700.0" rx="22.0" ry="22.0" fill="#5a5a5a" fill-opacity="0.60" transform="rotate(0.0 625.0 700.0)"/>
<ellipse cx="598.0" cy="648.0" rx="10.0" ry="8.0" fill="#505050" fill-opacity="0.70" transform="rotate(0.0 598.0 648.0)"/>
<ellipse cx="643.0" cy="740.0" rx="8.0" ry="12.0" fill="#606060" fill-opacity="0.70" transform="rotate(0.0 643.0 740.0)"/>
<ellipse cx="540.0" cy="640.0" rx="25.0" ry="12.0" fill="#6a6a6a" fill-opacity="0.50" transform="rotate(20.0 540.0 640.0)"/>
</g>
<g filter="url(#b3)">
<path d="M458.0,669.8 C459.5,668.6 463.9,670.9 466.3,671.9 C468.7,672.9 470.1,675.7 472.5,676.0 C474.9,676.3 477.9,674.9 480.7,673.9 C483.4,672.9 486.6,670.8 489.0,669.8 C491.4,668.8 493.8,667.4 495.2,667.7 C496.6,668.1 497.5,670.2 497.2,671.9 C496.9,673.6 492.8,676.3 493.1,678.0 C493.5,679.7 495.9,681.2 499.3,682.2 C502.7,683.2 509.9,683.5 513.7,684.2 C517.5,684.9 519.6,685.5 522.0,686.3 C524.4,687.1 527.2,687.5 528.0,689.0 C528.8,690.5 528.3,693.3 527.0,695.0 C525.7,696.7 522.7,698.0 520.0,699.0 C517.3,700.0 513.5,699.8 511.0,701.0 C508.5,702.2 506.3,703.8 505.0,706.0 C503.7,708.2 503.2,711.3 503.0,714.0 C502.8,716.7 503.3,719.3 504.0,722.0 C504.7,724.7 505.8,727.5 507.0,730.0 C508.2,732.5 509.3,735.2 511.0,737.0 C512.7,738.8 515.3,739.8 517.0,741.0 C518.7,742.2 520.5,742.9 521.0,744.3 C521.5,745.7 521.1,747.6 519.9,749.5 C518.7,751.4 515.4,755.4 513.7,755.7 C512.0,756.0 511.7,752.5 509.6,751.5 C507.5,750.5 502.5,748.5 501.3,749.5 C500.1,750.5 502.7,755.3 502.4,757.7 C502.1,760.1 500.9,763.2 499.3,763.9 C497.8,764.6 494.1,763.6 493.1,761.9 C492.1,760.2 493.8,756.4 493.1,753.6 C492.4,750.9 491.1,747.5 489.0,745.4 C486.9,743.3 484.1,742.1 480.7,741.2 C477.3,740.3 472.2,739.9 468.4,740.2 C464.6,740.6 461.1,741.8 458.0,743.3 C454.9,744.8 451.5,747.1 449.8,749.5 C448.1,751.9 447.4,755.0 447.7,757.7 C448.0,760.5 451.2,763.2 451.9,766.0 C452.6,768.8 452.6,772.1 451.9,774.2 C451.2,776.3 449.4,778.0 447.7,778.4 C446.0,778.8 442.9,778.4 441.5,776.3 C440.1,774.2 439.8,769.1 439.5,766.0 C439.2,762.9 440.2,760.5 439.5,757.7 C438.8,755.0 436.3,752.2 435.4,749.5 C434.5,746.8 434.0,744.0 434.3,741.2 C434.6,738.5 435.9,735.4 437.4,733.0 C438.8,730.6 441.8,729.4 443.0,727.0 C444.2,724.6 445.1,721.0 444.7,718.4 C444.3,715.8 441.6,712.8 440.6,711.1 C439.6,709.4 437.9,708.9 438.6,708.0 C439.3,707.1 442.3,707.0 444.7,706.0 C447.1,705.0 450.8,703.6 453.0,701.9 C455.2,700.2 457.1,698.1 458.1,695.7 C459.1,693.3 459.4,690.1 459.2,687.4 C459.0,684.6 457.3,682.1 457.1,679.2 C456.9,676.3 456.5,671.0 458.0,669.8Z" fill="#c4c4c4" stroke="#c4c4c4" stroke-width="5"/>
<ellipse cx="525.0" cy="685.0" rx="12.0" ry="22.0" fill="#2a2a2a" fill-opacity="1.00" transform="rotate(0.0 525.0 685.0)"/>
<ellipse cx="523.0" cy="675.0" rx="10.0" ry="7.0" fill="#0a0a0a" fill-opacity="1.00" transform="rotate(0.0 523.0 675.0)"/>
<ellipse cx="538.0" cy="688.0" rx="10.0" ry="12.0" fill="#080808" fill-opacity="1.00" transform="rotate(0.0 538.0 688.0)"/>
<ellipse cx="548.0" cy="721.0" rx="10.0" ry="6.0" fill="#0a0a0a" fill-opacity="1.00" transform="rotate(0.0 548.0 721.0)"/>
<ellipse cx="524.0" cy="717.0" rx="3.0" ry="7.0" fill="#101010" fill-opacity="1.00" transform="rotate(0.0 524.0 717.0)"/>
<ellipse cx="510.0" cy="658.0" rx="8.0" ry="6.0" fill="#0c0c0c" fill-opacity="1.00" transform="rotate(0.0 510.0 658.0)"/>
<ellipse cx="535.0" cy="661.0" rx="8.0" ry="6.0" fill="#0c0c0c" fill-opacity="1.00" transform="rotate(0.0 535.0 661.0)"/>
<ellipse cx="508.8" cy="661.0" rx="7.0" ry="6.5" fill="#0c0c0c" fill-opacity="1.00" transform="rotate(0.0 508.8 661.0)"/>
<ellipse cx="521.0" cy="673.8" rx="7.0" ry="4.5" fill="#101010" fill-opacity="1.00" transform="rotate(0.0 521.0 673.8)"/>
<ellipse cx="520.5" cy="705.6" rx="10.0" ry="7.5" fill="#060606" fill-opacity="1.00" transform="rotate(0.0 520.5 705.6)"/>
<ellipse cx="531.0" cy="704.0" rx="6.0" ry="8.0" fill="#303030" fill-opacity="1.00" transform="rotate(0.0 531.0 704.0)"/>
<ellipse cx="535.0" cy="661.0" rx="6.0" ry="6.0" fill="#181818" fill-opacity="1.00" transform="rotate(0.0 535.0 661.0)"/>
<ellipse cx="580.0" cy="739.5" rx="15.0" ry="11.0" fill="#050505" fill-opacity="1.00" transform="rotate(0.0 580.0 739.5)"/>
<ellipse cx="600.5" cy="690.0" rx="5.0" ry="5.0" fill="#151515" fill-opacity="1.00" transform="rotate(0.0 600.5 690.0)"/>
<ellipse cx="536.0" cy="636.0" rx="14.0" ry="5.0" fill="#505050" fill-opacity="1.00" transform="rotate(0.0 536.0 636.0)"/>
<ellipse cx="590.0" cy="648.0" rx="5.0" ry="13.0" fill="#4a4a4a" fill-opacity="1.00" transform="rotate(0.0 590.0 648.0)"/>
<ellipse cx="620.0" cy="698.0" rx="12.0" ry="12.0" fill="#4a4a4a" fill-opacity="1.00" transform="rotate(0.0 620.0 698.0)"/>
<ellipse cx="643.0" cy="738.0" rx="7.0" ry="12.0" fill="#5a5a5a" fill-opacity="1.00" transform="rotate(0.0 643.0 738.0)"/>
<ellipse cx="622.0" cy="686.0" rx="6.0" ry="4.0" fill="#252525" fill-opacity="1.00" transform="rotate(0.0 622.0 686.0)"/>
<ellipse cx="560.0" cy="708.0" rx="20.0" ry="12.0" fill="#0a0a0a" fill-opacity="1.00" transform="rotate(0.0 560.0 708.0)"/>
<ellipse cx="578.0" cy="700.0" rx="14.0" ry="18.0" fill="#080808" fill-opacity="1.00" transform="rotate(0.0 578.0 700.0)"/>
<ellipse cx="600.0" cy="690.0" rx="7.0" ry="6.0" fill="#101010" fill-opacity="1.00" transform="rotate(0.0 600.0 690.0)"/>
<ellipse cx="620.0" cy="690.0" rx="9.0" ry="9.0" fill="#2a2a2a" fill-opacity="1.00" transform="rotate(0.0 620.0 690.0)"/>
<ellipse cx="612.0" cy="703.0" rx="20.0" ry="9.0" fill="#3a3a3a" fill-opacity="1.00" transform="rotate(0.0 612.0 703.0)"/>
<ellipse cx="643.0" cy="740.0" rx="8.0" ry="13.0" fill="#404040" fill-opacity="1.00" transform="rotate(0.0 643.0 740.0)"/>
<ellipse cx="600.0" cy="783.0" rx="4.0" ry="7.0" fill="#404040" fill-opacity="1.00" transform="rotate(0.0 600.0 783.0)"/>
<ellipse cx="555.0" cy="683.0" rx="18.0" ry="8.0" fill="#080808" fill-opacity="1.00" transform="rotate(0.0 555.0 683.0)"/>
<ellipse cx="575.0" cy="722.0" rx="12.0" ry="10.0" fill="#0a0a0a" fill-opacity="1.00" transform="rotate(0.0 575.0 722.0)"/>
<ellipse cx="528.0" cy="667.0" rx="6.0" ry="5.0" fill="#202020" fill-opacity="1.00" transform="rotate(0.0 528.0 667.0)"/>
<ellipse cx="612.0" cy="700.0" rx="8.0" ry="8.0" fill="#404040" fill-opacity="1.00" transform="rotate(0.0 612.0 700.0)"/>
<ellipse cx="600.0" cy="710.0" rx="8.0" ry="6.0" fill="#3a3a3a" fill-opacity="1.00" transform="rotate(0.0 600.0 710.0)"/>
<ellipse cx="525.0" cy="630.0" rx="5.0" ry="8.0" fill="#3a3a3a" fill-opacity="1.00" transform="rotate(0.0 525.0 630.0)"/>
<ellipse cx="475.0" cy="642.0" rx="5.0" ry="7.0" fill="#5a5a5a" fill-opacity="1.00" transform="rotate(0.0 475.0 642.0)"/>
<ellipse cx="492.0" cy="642.0" rx="4.0" ry="4.0" fill="#555" fill-opacity="1.00" transform="rotate(0.0 492.0 642.0)"/>
<ellipse cx="474.0" cy="626.0" rx="2.0" ry="4.0" fill="#5a5a5a" fill-opacity="1.00" transform="rotate(0.0 474.0 626.0)"/>
<path d="M535.0,677.5 C536.9,676.2 540.9,676.6 543.8,676.3 C546.7,676.0 549.6,675.3 552.5,675.5 C555.4,675.7 558.6,677.8 561.3,677.5 C564.0,677.2 566.5,674.6 568.8,673.8 C571.1,673.0 572.7,672.0 575.0,672.5 C577.3,673.0 580.6,675.3 582.5,677.0 C584.4,678.7 584.8,681.2 586.3,682.5 C587.8,683.8 590.9,683.3 591.3,685.0 C591.7,686.7 589.8,690.0 588.8,692.5 C587.8,695.0 585.4,697.7 585.0,700.0 C584.6,702.3 585.2,704.6 586.3,706.3 C587.3,708.0 590.9,708.5 591.3,710.0 C591.7,711.5 590.7,714.0 588.8,715.0 C586.9,716.0 582.5,715.9 580.0,716.3 C577.5,716.7 575.9,716.9 573.8,717.5 C571.7,718.1 569.4,718.5 567.5,720.0 C565.6,721.5 564.8,725.0 562.5,726.3 C560.2,727.5 556.7,727.7 553.8,727.5 C550.9,727.3 546.7,726.2 545.0,725.0 C543.3,723.8 543.4,721.9 543.8,720.0 C544.2,718.1 546.7,715.9 547.5,713.8 C548.3,711.7 549.4,709.4 548.8,707.5 C548.2,705.6 545.7,704.2 543.8,702.5 C541.9,700.8 539.2,699.6 537.5,697.5 C535.8,695.4 534.6,692.3 533.8,690.0 C533.0,687.7 532.3,685.9 532.5,683.8 C532.7,681.7 533.1,678.8 535.0,677.5Z" fill="#060606"/>
<ellipse cx="537.0" cy="735.0" rx="9.0" ry="7.0" fill="#e8e8e8" fill-opacity="1.00" transform="rotate(0.0 537.0 735.0)"/>
<ellipse cx="556.0" cy="758.0" rx="8.0" ry="9.0" fill="#e0e0e0" fill-opacity="1.00" transform="rotate(0.0 556.0 758.0)"/>
<ellipse cx="546.0" cy="745.0" rx="8.0" ry="6.0" fill="#d0d0d0" fill-opacity="1.00" transform="rotate(0.0 546.0 745.0)"/>
<ellipse cx="540.0" cy="715.0" rx="3.0" ry="3.0" fill="#ffffff" fill-opacity="1.00" transform="rotate(0.0 540.0 715.0)"/>
<ellipse cx="524.0" cy="718.0" rx="2.0" ry="6.0" fill="#f0f0f0" fill-opacity="1.00" transform="rotate(0.0 524.0 718.0)"/>
<ellipse cx="423.0" cy="718.0" rx="7.0" ry="4.0" fill="#bdbdbd" fill-opacity="1.00" transform="rotate(0.0 423.0 718.0)"/>
<ellipse cx="487.0" cy="781.0" rx="4.0" ry="6.0" fill="#c8c8c8" fill-opacity="1.00" transform="rotate(0.0 487.0 781.0)"/>
<ellipse cx="456.0" cy="788.0" rx="4.0" ry="6.0" fill="#b8b8b8" fill-opacity="1.00" transform="rotate(0.0 456.0 788.0)"/>
<ellipse cx="523.0" cy="765.0" rx="4.0" ry="2.0" fill="#b8b8b8" fill-opacity="1.00" transform="rotate(0.0 523.0 765.0)"/>
<ellipse cx="489.0" cy="619.0" rx="2.0" ry="2.0" fill="#c0c0c0" fill-opacity="1.00" transform="rotate(0.0 489.0 619.0)"/>
<ellipse cx="589.0" cy="770.0" rx="3.0" ry="5.0" fill="#5a5a5a" fill-opacity="1.00" transform="rotate(0.0 589.0 770.0)"/>
<ellipse cx="407.0" cy="707.0" rx="3.0" ry="3.0" fill="#a8a8a8" fill-opacity="1.00" transform="rotate(0.0 407.0 707.0)"/>
</g>
<g filter="url(#b15)">
<ellipse cx="521.0" cy="704.0" rx="11.0" ry="7.5" fill="#050505" fill-opacity="1.00" transform="rotate(0.0 521.0 704.0)"/>
<ellipse cx="523.0" cy="675.0" rx="8.0" ry="5.5" fill="#080808" fill-opacity="1.00" transform="rotate(0.0 523.0 675.0)"/>
<ellipse cx="509.0" cy="659.0" rx="6.5" ry="6.0" fill="#080808" fill-opacity="1.00" transform="rotate(0.0 509.0 659.0)"/>
<ellipse cx="535.0" cy="661.0" rx="6.0" ry="5.0" fill="#0a0a0a" fill-opacity="1.00" transform="rotate(0.0 535.0 661.0)"/>
<ellipse cx="545.0" cy="688.0" rx="12.0" ry="11.0" fill="#050505" fill-opacity="1.00" transform="rotate(0.0 545.0 688.0)"/>
<ellipse cx="560.0" cy="700.0" rx="24.0" ry="18.0" fill="#030303" fill-opacity="1.00" transform="rotate(0.0 560.0 700.0)"/>
<ellipse cx="580.0" cy="739.5" rx="14.0" ry="10.0" fill="#030303" fill-opacity="1.00" transform="rotate(0.0 580.0 739.5)"/>
<ellipse cx="549.0" cy="721.0" rx="9.0" ry="5.0" fill="#080808" fill-opacity="1.00" transform="rotate(0.0 549.0 721.0)"/>
<ellipse cx="600.5" cy="690.0" rx="4.5" ry="4.5" fill="#101010" fill-opacity="1.00" transform="rotate(0.0 600.5 690.0)"/>
<ellipse cx="578.0" cy="700.0" rx="12.0" ry="16.0" fill="#050505" fill-opacity="1.00" transform="rotate(0.0 578.0 700.0)"/>
<ellipse cx="596.0" cy="702.0" rx="9.0" ry="11.0" fill="#080808" fill-opacity="1.00" transform="rotate(0.0 596.0 702.0)"/>
<ellipse cx="590.0" cy="722.0" rx="9.0" ry="8.0" fill="#080808" fill-opacity="1.00" transform="rotate(0.0 590.0 722.0)"/>
<ellipse cx="603.0" cy="682.0" rx="7.0" ry="5.0" fill="#101010" fill-opacity="1.00" transform="rotate(0.0 603.0 682.0)"/>
<ellipse cx="522.0" cy="656.0" rx="13.0" ry="6.0" fill="#080808" fill-opacity="1.00" transform="rotate(0.0 522.0 656.0)"/>
<ellipse cx="565.0" cy="690.0" rx="20.0" ry="16.0" fill="#030303" fill-opacity="1.00" transform="rotate(0.0 565.0 690.0)"/>
<ellipse cx="575.0" cy="725.0" rx="12.0" ry="8.0" fill="#050505" fill-opacity="1.00" transform="rotate(0.0 575.0 725.0)"/>
<ellipse cx="615.0" cy="708.0" rx="8.0" ry="6.0" fill="#1a1a1a" fill-opacity="1.00" transform="rotate(0.0 615.0 708.0)"/>
<ellipse cx="630.0" cy="690.0" rx="6.0" ry="5.0" fill="#202020" fill-opacity="1.00" transform="rotate(0.0 630.0 690.0)"/>
</g>
<path d="M458.0,669.8 C459.5,668.6 463.9,670.9 466.3,671.9 C468.7,672.9 470.1,675.7 472.5,676.0 C474.9,676.3 477.9,674.9 480.7,673.9 C483.4,672.9 486.6,670.8 489.0,669.8 C491.4,668.8 493.8,667.4 495.2,667.7 C496.6,668.1 497.5,670.2 497.2,671.9 C496.9,673.6 492.8,676.3 493.1,678.0 C493.5,679.7 495.9,681.2 499.3,682.2 C502.7,683.2 509.9,683.5 513.7,684.2 C517.5,684.9 519.6,685.5 522.0,686.3 C524.4,687.1 527.2,687.5 528.0,689.0 C528.8,690.5 528.3,693.3 527.0,695.0 C525.7,696.7 522.7,698.0 520.0,699.0 C517.3,700.0 513.5,699.8 511.0,701.0 C508.5,702.2 506.3,703.8 505.0,706.0 C503.7,708.2 503.2,711.3 503.0,714.0 C502.8,716.7 503.3,719.3 504.0,722.0 C504.7,724.7 505.8,727.5 507.0,730.0 C508.2,732.5 509.3,735.2 511.0,737.0 C512.7,738.8 515.3,739.8 517.0,741.0 C518.7,742.2 520.5,742.9 521.0,744.3 C521.5,745.7 521.1,747.6 519.9,749.5 C518.7,751.4 515.4,755.4 513.7,755.7 C512.0,756.0 511.7,752.5 509.6,751.5 C507.5,750.5 502.5,748.5 501.3,749.5 C500.1,750.5 502.7,755.3 502.4,757.7 C502.1,760.1 500.9,763.2 499.3,763.9 C497.8,764.6 494.1,763.6 493.1,761.9 C492.1,760.2 493.8,756.4 493.1,753.6 C492.4,750.9 491.1,747.5 489.0,745.4 C486.9,743.3 484.1,742.1 480.7,741.2 C477.3,740.3 472.2,739.9 468.4,740.2 C464.6,740.6 461.1,741.8 458.0,743.3 C454.9,744.8 451.5,747.1 449.8,749.5 C448.1,751.9 447.4,755.0 447.7,757.7 C448.0,760.5 451.2,763.2 451.9,766.0 C452.6,768.8 452.6,772.1 451.9,774.2 C451.2,776.3 449.4,778.0 447.7,778.4 C446.0,778.8 442.9,778.4 441.5,776.3 C440.1,774.2 439.8,769.1 439.5,766.0 C439.2,762.9 440.2,760.5 439.5,757.7 C438.8,755.0 436.3,752.2 435.4,749.5 C434.5,746.8 434.0,744.0 434.3,741.2 C434.6,738.5 435.9,735.4 437.4,733.0 C438.8,730.6 441.8,729.4 443.0,727.0 C444.2,724.6 445.1,721.0 444.7,718.4 C444.3,715.8 441.6,712.8 440.6,711.1 C439.6,709.4 437.9,708.9 438.6,708.0 C439.3,707.1 442.3,707.0 444.7,706.0 C447.1,705.0 450.8,703.6 453.0,701.9 C455.2,700.2 457.1,698.1 458.1,695.7 C459.1,693.3 459.4,690.1 459.2,687.4 C459.0,684.6 457.3,682.1 457.1,679.2 C456.9,676.3 456.5,671.0 458.0,669.8Z" fill="#ececec" stroke="#707070" stroke-width="1"/>
<path d="M465.4,701.9 C465.9,699.3 467.4,696.7 469.5,694.6 C471.6,692.5 474.6,690.9 477.7,689.5 C480.8,688.1 484.6,687.4 488.0,686.4 C491.4,685.4 494.9,683.3 498.4,683.3 C501.8,683.3 504.9,685.5 508.7,686.4 C512.5,687.3 519.5,687.6 521.0,688.5 C522.5,689.4 520.4,690.5 518.0,692.0 C515.6,693.5 509.2,695.7 506.6,697.7 C504.0,699.7 503.9,701.8 502.5,703.9 C501.1,706.0 498.1,708.9 498.4,710.1 C498.7,711.3 503.1,710.4 504.5,711.1 C505.9,711.8 507.6,712.7 506.6,714.2 C505.6,715.7 500.5,718.9 498.4,720.3 C496.3,721.7 495.4,722.7 494.2,722.4 C493.0,722.1 491.8,720.0 491.1,718.3 C490.4,716.6 491.3,712.9 490.1,712.2 C488.9,711.5 486.0,713.4 483.9,714.2 C481.8,715.1 480.1,717.1 477.7,717.3 C475.3,717.5 471.4,716.4 469.5,715.2 C467.6,714.0 467.1,712.3 466.4,710.1 C465.7,707.9 464.9,704.5 465.4,701.9Z" fill="#ffffff" stroke="#505050" stroke-width="1"/>
<path d="M455.0,739.0 C452.8,738.3 453.7,735.9 454.0,733.8 C454.3,731.7 456.0,729.2 457.0,726.6 C458.0,724.0 459.3,720.4 460.2,718.4 C461.1,716.4 461.5,714.6 462.5,714.5 C463.5,714.4 464.6,716.5 466.0,718.0 C467.4,719.5 469.1,721.9 471.0,723.5 C472.9,725.1 475.7,727.0 477.7,727.6 C479.7,728.2 481.3,727.4 483.0,727.0 C484.7,726.6 486.5,725.7 488.0,725.5 C489.5,725.3 490.7,725.8 492.0,726.0 C493.3,726.2 494.7,726.6 496.0,726.5 C497.3,726.4 498.6,725.1 500.0,725.5 C501.4,725.9 503.4,727.7 504.5,728.7 C505.6,729.7 506.9,730.7 506.6,731.7 C506.4,732.7 503.7,732.8 503.0,734.5 C502.3,736.2 503.5,740.7 502.5,742.0 C501.5,743.3 498.8,742.7 497.0,742.5 C495.2,742.3 494.9,741.6 492.0,741.0 C489.1,740.4 483.9,739.5 479.8,739.0 C475.7,738.5 471.5,738.0 467.4,738.0 C463.3,738.0 457.2,739.7 455.0,739.0Z" fill="#ffffff" stroke="#505050" stroke-width="1"/>
<path d="M441.5,737 L448.8,736 L447,749.5 L443,749Z" fill="#fff" stroke="#606060" stroke-width="0.8"/>
<g fill="none" stroke="#c8c8c8" stroke-width="0.9" stroke-dasharray="5,3">
<ellipse cx="548.0" cy="690.0" rx="9.0" ry="7.0"/>
<ellipse cx="570.0" cy="695.0" rx="7.0" ry="9.0"/>
<ellipse cx="560.0" cy="712.0" rx="8.0" ry="5.0"/>
<ellipse cx="580.0" cy="739.5" rx="11.0" ry="8.0"/>
<ellipse cx="520.0" cy="705.0" rx="6.0" ry="5.0"/>
<ellipse cx="535.0" cy="661.0" rx="4.0" ry="3.0"/>
<ellipse cx="521.0" cy="673.0" rx="5.0" ry="3.0"/>
<ellipse cx="600.5" cy="690.0" rx="3.0" ry="3.0"/>
<ellipse cx="585.0" cy="705.0" rx="4.0" ry="6.0"/>
<ellipse cx="508.0" cy="657.0" rx="4.0" ry="4.0"/>
<ellipse cx="590.0" cy="682.0" rx="4.0" ry="4.0"/>
</g>
</g>
<g stroke="#8c8c8c" stroke-width="0.8">
<line x1="32.9" y1="42.5" x2="35.4" y2="42.5"/>
<line x1="32.9" y1="61.0" x2="36.4" y2="61.0"/>
<line x1="34.9" y1="79.5" x2="37.4" y2="79.5"/>
<line x1="34.8" y1="98.0" x2="38.3" y2="98.0"/>
<line x1="36.8" y1="116.5" x2="39.3" y2="116.5"/>
<line x1="36.8" y1="135.0" x2="40.3" y2="135.0"/>
<line x1="38.8" y1="153.5" x2="41.3" y2="153.5"/>
<line x1="38.8" y1="172.0" x2="42.3" y2="172.0"/>
<line x1="40.7" y1="190.5" x2="43.2" y2="190.5"/>
<line x1="40.7" y1="209.0" x2="44.2" y2="209.0"/>
<line x1="51.5" y1="216.2" x2="51.5" y2="218.7"/>
<line x1="68.0" y1="216.2" x2="68.0" y2="219.7"/>
<line x1="84.5" y1="216.2" x2="84.5" y2="218.7"/>
<line x1="101.0" y1="216.2" x2="101.0" y2="219.7"/>
<line x1="117.5" y1="216.2" x2="117.5" y2="218.7"/>
<line x1="134.0" y1="216.2" x2="134.0" y2="219.7"/>
<line x1="150.5" y1="216.2" x2="150.5" y2="218.7"/>
<line x1="167.0" y1="216.2" x2="167.0" y2="219.7"/>
<line x1="183.5" y1="216.3" x2="183.5" y2="218.8"/>
<line x1="200.0" y1="216.3" x2="200.0" y2="219.8"/>
<line x1="216.5" y1="216.3" x2="216.5" y2="218.8"/>
<line x1="233.0" y1="216.3" x2="233.0" y2="219.8"/>
<line x1="249.5" y1="216.3" x2="249.5" y2="218.8"/>
<line x1="266.0" y1="216.3" x2="266.0" y2="219.8"/>
<line x1="282.5" y1="216.3" x2="282.5" y2="218.8"/>
<line x1="299.0" y1="216.3" x2="299.0" y2="219.8"/>
</g>
<text x="9.5" y="61.9" font-family="'Liberation Sans', sans-serif" font-size="8.2" fill="#8c8c8c" font-weight="normal" text-anchor="start" textLength="17.2" lengthAdjust="spacingAndGlyphs">&#8722;60</text>
<text x="11.5" y="98.9" font-family="'Liberation Sans', sans-serif" font-size="8.2" fill="#8c8c8c" font-weight="normal" text-anchor="start" textLength="17.2" lengthAdjust="spacingAndGlyphs">&#8722;90</text>
<text x="7.6" y="133.9" font-family="'Liberation Sans', sans-serif" font-size="8.2" fill="#8c8c8c" font-weight="normal" text-anchor="start" textLength="23.0" lengthAdjust="spacingAndGlyphs">&#8722;120</text>
<text x="9.5" y="169.9" font-family="'Liberation Sans', sans-serif" font-size="8.2" fill="#8c8c8c" font-weight="normal" text-anchor="start" textLength="23.0" lengthAdjust="spacingAndGlyphs">&#8722;150</text>
<text x="11.4" y="205.4" font-family="'Liberation Sans', sans-serif" font-size="8.2" fill="#8c8c8c" font-weight="normal" text-anchor="start" textLength="23.0" lengthAdjust="spacingAndGlyphs">&#8722;180</text>
<text x="56.5" y="234.9" font-family="'Liberation Sans', sans-serif" font-size="8.2" fill="#8c8c8c" font-weight="normal" text-anchor="start" textLength="23.0" lengthAdjust="spacingAndGlyphs">&#8722;240</text>
<text x="89.5" y="234.9" font-family="'Liberation Sans', sans-serif" font-size="8.2" fill="#8c8c8c" font-weight="normal" text-anchor="start" textLength="23.0" lengthAdjust="spacingAndGlyphs">&#8722;210</text>
<text x="122.5" y="234.9" font-family="'Liberation Sans', sans-serif" font-size="8.2" fill="#8c8c8c" font-weight="normal" text-anchor="start" textLength="23.0" lengthAdjust="spacingAndGlyphs">&#8722;180</text>
<text x="155.0" y="234.9" font-family="'Liberation Sans', sans-serif" font-size="8.2" fill="#8c8c8c" font-weight="normal" text-anchor="start" textLength="23.0" lengthAdjust="spacingAndGlyphs">&#8722;150</text>
<text x="188.0" y="234.9" font-family="'Liberation Sans', sans-serif" font-size="8.2" fill="#8c8c8c" font-weight="normal" text-anchor="start" textLength="23.0" lengthAdjust="spacingAndGlyphs">&#8722;120</text>
<text x="223.9" y="234.9" font-family="'Liberation Sans', sans-serif" font-size="8.2" fill="#8c8c8c" font-weight="normal" text-anchor="start" textLength="17.2" lengthAdjust="spacingAndGlyphs">&#8722;90</text>
<text x="256.9" y="234.9" font-family="'Liberation Sans', sans-serif" font-size="8.2" fill="#8c8c8c" font-weight="normal" text-anchor="start" textLength="17.2" lengthAdjust="spacingAndGlyphs">&#8722;60</text>
<text x="289.9" y="234.9" font-family="'Liberation Sans', sans-serif" font-size="8.2" fill="#8c8c8c" font-weight="normal" text-anchor="start" textLength="17.2" lengthAdjust="spacingAndGlyphs">&#8722;30</text>
<g stroke="#8c8c8c" stroke-width="0.8">
<line x1="381.3" y1="32.1" x2="383.8" y2="32.1"/>
<line x1="380.7" y1="49.7" x2="384.2" y2="49.7"/>
<line x1="382.2" y1="67.3" x2="384.7" y2="67.3"/>
<line x1="381.6" y1="85.0" x2="385.1" y2="85.0"/>
<line x1="383.0" y1="102.7" x2="385.5" y2="102.7"/>
<line x1="382.5" y1="120.3" x2="386.0" y2="120.3"/>
<line x1="383.9" y1="137.9" x2="386.4" y2="137.9"/>
<line x1="383.4" y1="155.6" x2="386.9" y2="155.6"/>
<line x1="384.8" y1="173.2" x2="387.3" y2="173.2"/>
<line x1="384.3" y1="190.9" x2="387.8" y2="190.9"/>
<line x1="385.7" y1="208.6" x2="388.2" y2="208.6"/>
<line x1="395.2" y1="216.5" x2="395.2" y2="219.0"/>
<line x1="412.8" y1="216.5" x2="412.8" y2="220.0"/>
<line x1="430.4" y1="216.5" x2="430.4" y2="219.0"/>
<line x1="448.0" y1="216.4" x2="448.0" y2="219.9"/>
<line x1="465.6" y1="216.4" x2="465.6" y2="218.9"/>
<line x1="483.2" y1="216.4" x2="483.2" y2="219.9"/>
<line x1="500.8" y1="216.4" x2="500.8" y2="218.9"/>
<line x1="518.4" y1="216.4" x2="518.4" y2="219.9"/>
<line x1="536.0" y1="216.3" x2="536.0" y2="218.8"/>
<line x1="553.6" y1="216.3" x2="553.6" y2="219.8"/>
<line x1="571.2" y1="216.3" x2="571.2" y2="218.8"/>
<line x1="588.8" y1="216.3" x2="588.8" y2="219.8"/>
<line x1="606.4" y1="216.3" x2="606.4" y2="218.8"/>
<line x1="624.0" y1="216.3" x2="624.0" y2="219.8"/>
<line x1="641.6" y1="216.2" x2="641.6" y2="218.7"/>
<line x1="659.2" y1="216.2" x2="659.2" y2="219.7"/>
</g>
<text x="368.9" y="50.6" font-family="'Liberation Sans', sans-serif" font-size="8.2" fill="#8c8c8c" font-weight="normal" text-anchor="start" textLength="5.8" lengthAdjust="spacingAndGlyphs">0</text>
<text x="358.3" y="85.9" font-family="'Liberation Sans', sans-serif" font-size="8.2" fill="#8c8c8c" font-weight="normal" text-anchor="start" textLength="17.2" lengthAdjust="spacingAndGlyphs">&#8722;30</text>
<text x="359.2" y="121.5" font-family="'Liberation Sans', sans-serif" font-size="8.2" fill="#8c8c8c" font-weight="normal" text-anchor="start" textLength="17.2" lengthAdjust="spacingAndGlyphs">&#8722;60</text>
<text x="360.1" y="157.6" font-family="'Liberation Sans', sans-serif" font-size="8.2" fill="#8c8c8c" font-weight="normal" text-anchor="start" textLength="17.2" lengthAdjust="spacingAndGlyphs">&#8722;90</text>
<text x="355.3" y="193.7" font-family="'Liberation Sans', sans-serif" font-size="8.2" fill="#8c8c8c" font-weight="normal" text-anchor="start" textLength="23.0" lengthAdjust="spacingAndGlyphs">&#8722;120</text>
<text x="401.3" y="236.1" font-family="'Liberation Sans', sans-serif" font-size="8.2" fill="#8c8c8c" font-weight="normal" text-anchor="start" textLength="23.0" lengthAdjust="spacingAndGlyphs">&#8722;120</text>
<text x="439.4" y="236.1" font-family="'Liberation Sans', sans-serif" font-size="8.2" fill="#8c8c8c" font-weight="normal" text-anchor="start" textLength="17.2" lengthAdjust="spacingAndGlyphs">&#8722;90</text>
<text x="475.2" y="236.1" font-family="'Liberation Sans', sans-serif" font-size="8.2" fill="#8c8c8c" font-weight="normal" text-anchor="start" textLength="17.2" lengthAdjust="spacingAndGlyphs">&#8722;60</text>
<text x="511.2" y="236.1" font-family="'Liberation Sans', sans-serif" font-size="8.2" fill="#8c8c8c" font-weight="normal" text-anchor="start" textLength="17.2" lengthAdjust="spacingAndGlyphs">&#8722;30</text>
<text x="552.0" y="236.1" font-family="'Liberation Sans', sans-serif" font-size="8.2" fill="#8c8c8c" font-weight="normal" text-anchor="start" textLength="5.8" lengthAdjust="spacingAndGlyphs">0</text>
<text x="584.8" y="236.1" font-family="'Liberation Sans', sans-serif" font-size="8.2" fill="#8c8c8c" font-weight="normal" text-anchor="start" textLength="11.5" lengthAdjust="spacingAndGlyphs">30</text>
<text x="620.9" y="236.1" font-family="'Liberation Sans', sans-serif" font-size="8.2" fill="#8c8c8c" font-weight="normal" text-anchor="start" textLength="11.5" lengthAdjust="spacingAndGlyphs">60</text>
<text x="656.5" y="236.1" font-family="'Liberation Sans', sans-serif" font-size="8.2" fill="#8c8c8c" font-weight="normal" text-anchor="start" textLength="11.5" lengthAdjust="spacingAndGlyphs">90</text>
<g stroke="#8c8c8c" stroke-width="0.8">
<line x1="22.7" y1="334.0" x2="26.2" y2="334.0"/>
<line x1="23.9" y1="351.5" x2="26.4" y2="351.5"/>
<line x1="23.1" y1="369.0" x2="26.6" y2="369.0"/>
<line x1="24.4" y1="386.5" x2="26.9" y2="386.5"/>
<line x1="23.6" y1="404.0" x2="27.1" y2="404.0"/>
<line x1="24.9" y1="421.5" x2="27.4" y2="421.5"/>
<line x1="24.1" y1="439.0" x2="27.6" y2="439.0"/>
<line x1="25.3" y1="456.5" x2="27.8" y2="456.5"/>
<line x1="24.6" y1="474.0" x2="28.1" y2="474.0"/>
<line x1="25.8" y1="491.5" x2="28.3" y2="491.5"/>
<line x1="25.0" y1="509.0" x2="28.5" y2="509.0"/>
<line x1="30.0" y1="512.7" x2="30.0" y2="516.2"/>
<line x1="47.5" y1="512.7" x2="47.5" y2="515.2"/>
<line x1="65.0" y1="512.7" x2="65.0" y2="516.2"/>
<line x1="82.5" y1="512.6" x2="82.5" y2="515.1"/>
<line x1="100.0" y1="512.6" x2="100.0" y2="516.1"/>
<line x1="117.5" y1="512.6" x2="117.5" y2="515.1"/>
<line x1="135.0" y1="512.6" x2="135.0" y2="516.1"/>
<line x1="152.5" y1="512.6" x2="152.5" y2="515.1"/>
<line x1="170.0" y1="512.6" x2="170.0" y2="516.1"/>
<line x1="187.5" y1="512.5" x2="187.5" y2="515.0"/>
<line x1="205.0" y1="512.5" x2="205.0" y2="516.0"/>
<line x1="222.5" y1="512.5" x2="222.5" y2="515.0"/>
<line x1="240.0" y1="512.5" x2="240.0" y2="516.0"/>
<line x1="257.5" y1="512.5" x2="257.5" y2="515.0"/>
<line x1="275.0" y1="512.4" x2="275.0" y2="515.9"/>
<line x1="292.5" y1="512.4" x2="292.5" y2="514.9"/>
<line x1="310.0" y1="512.4" x2="310.0" y2="515.9"/>
</g>
<text x="5.1" y="334.9" font-family="'Liberation Sans', sans-serif" font-size="8.2" fill="#8c8c8c" font-weight="normal" text-anchor="start" textLength="11.5" lengthAdjust="spacingAndGlyphs">60</text>
<text x="5.6" y="369.9" font-family="'Liberation Sans', sans-serif" font-size="8.2" fill="#8c8c8c" font-weight="normal" text-anchor="start" textLength="11.5" lengthAdjust="spacingAndGlyphs">30</text>
<text x="11.9" y="405.9" font-family="'Liberation Sans', sans-serif" font-size="8.2" fill="#8c8c8c" font-weight="normal" text-anchor="start" textLength="5.8" lengthAdjust="spacingAndGlyphs">0</text>
<text x="0.8" y="441.7" font-family="'Liberation Sans', sans-serif" font-size="8.2" fill="#8c8c8c" font-weight="normal" text-anchor="start" textLength="17.2" lengthAdjust="spacingAndGlyphs">&#8722;30</text>
<text x="1.3" y="477.9" font-family="'Liberation Sans', sans-serif" font-size="8.2" fill="#8c8c8c" font-weight="normal" text-anchor="start" textLength="17.2" lengthAdjust="spacingAndGlyphs">&#8722;60</text>
<text x="1.8" y="513.4" font-family="'Liberation Sans', sans-serif" font-size="8.2" fill="#8c8c8c" font-weight="normal" text-anchor="start" textLength="17.2" lengthAdjust="spacingAndGlyphs">&#8722;90</text>
<text x="18.5" y="530.9" font-family="'Liberation Sans', sans-serif" font-size="8.2" fill="#8c8c8c" font-weight="normal" text-anchor="start" textLength="23.0" lengthAdjust="spacingAndGlyphs">&#8722;120</text>
<text x="56.4" y="530.9" font-family="'Liberation Sans', sans-serif" font-size="8.2" fill="#8c8c8c" font-weight="normal" text-anchor="start" textLength="17.2" lengthAdjust="spacingAndGlyphs">&#8722;90</text>
<text x="92.4" y="530.9" font-family="'Liberation Sans', sans-serif" font-size="8.2" fill="#8c8c8c" font-weight="normal" text-anchor="start" textLength="17.2" lengthAdjust="spacingAndGlyphs">&#8722;60</text>
<text x="128.4" y="530.9" font-family="'Liberation Sans', sans-serif" font-size="8.2" fill="#8c8c8c" font-weight="normal" text-anchor="start" textLength="17.2" lengthAdjust="spacingAndGlyphs">&#8722;30</text>
<text x="169.8" y="530.9" font-family="'Liberation Sans', sans-serif" font-size="8.2" fill="#8c8c8c" font-weight="normal" text-anchor="start" textLength="5.8" lengthAdjust="spacingAndGlyphs">0</text>
<text x="203.1" y="530.9" font-family="'Liberation Sans', sans-serif" font-size="8.2" fill="#8c8c8c" font-weight="normal" text-anchor="start" textLength="11.5" lengthAdjust="spacingAndGlyphs">30</text>
<text x="239.2" y="530.9" font-family="'Liberation Sans', sans-serif" font-size="8.2" fill="#8c8c8c" font-weight="normal" text-anchor="start" textLength="11.5" lengthAdjust="spacingAndGlyphs">60</text>
<text x="275.2" y="530.9" font-family="'Liberation Sans', sans-serif" font-size="8.2" fill="#8c8c8c" font-weight="normal" text-anchor="start" textLength="11.5" lengthAdjust="spacingAndGlyphs">90</text>
<text x="308.4" y="530.9" font-family="'Liberation Sans', sans-serif" font-size="8.2" fill="#8c8c8c" font-weight="normal" text-anchor="start" textLength="17.2" lengthAdjust="spacingAndGlyphs">120</text>
<g stroke="#8c8c8c" stroke-width="0.8">
<line x1="382.4" y1="338.8" x2="384.9" y2="338.8"/>
<line x1="381.3" y1="356.7" x2="384.8" y2="356.7"/>
<line x1="382.3" y1="374.6" x2="384.8" y2="374.6"/>
<line x1="381.2" y1="392.5" x2="384.7" y2="392.5"/>
<line x1="382.1" y1="410.4" x2="384.6" y2="410.4"/>
<line x1="381.0" y1="428.3" x2="384.5" y2="428.3"/>
<line x1="381.9" y1="446.2" x2="384.4" y2="446.2"/>
<line x1="380.8" y1="464.1" x2="384.3" y2="464.1"/>
<line x1="381.7" y1="482.0" x2="384.2" y2="482.0"/>
<line x1="380.7" y1="499.9" x2="384.2" y2="499.9"/>
<line x1="396.3" y1="513.3" x2="396.3" y2="516.8"/>
<line x1="414.2" y1="513.3" x2="414.2" y2="515.8"/>
<line x1="432.1" y1="513.3" x2="432.1" y2="516.8"/>
<line x1="450.0" y1="513.3" x2="450.0" y2="515.8"/>
<line x1="467.9" y1="513.3" x2="467.9" y2="516.8"/>
<line x1="485.8" y1="513.3" x2="485.8" y2="515.8"/>
<line x1="503.7" y1="513.3" x2="503.7" y2="516.8"/>
<line x1="521.6" y1="513.3" x2="521.6" y2="515.8"/>
<line x1="539.5" y1="513.4" x2="539.5" y2="516.9"/>
<line x1="557.4" y1="513.4" x2="557.4" y2="515.9"/>
<line x1="575.3" y1="513.4" x2="575.3" y2="516.9"/>
<line x1="593.2" y1="513.4" x2="593.2" y2="515.9"/>
<line x1="611.1" y1="513.4" x2="611.1" y2="516.9"/>
<line x1="629.0" y1="513.4" x2="629.0" y2="515.9"/>
<line x1="646.9" y1="513.4" x2="646.9" y2="516.9"/>
<line x1="664.8" y1="513.4" x2="664.8" y2="515.9"/>
</g>
<text x="364.0" y="321.8" font-family="'Liberation Sans', sans-serif" font-size="8.2" fill="#8c8c8c" font-weight="normal" text-anchor="start" textLength="11.5" lengthAdjust="spacingAndGlyphs">90</text>
<text x="363.8" y="357.6" font-family="'Liberation Sans', sans-serif" font-size="8.2" fill="#8c8c8c" font-weight="normal" text-anchor="start" textLength="11.5" lengthAdjust="spacingAndGlyphs">60</text>
<text x="363.7" y="393.4" font-family="'Liberation Sans', sans-serif" font-size="8.2" fill="#8c8c8c" font-weight="normal" text-anchor="start" textLength="11.5" lengthAdjust="spacingAndGlyphs">30</text>
<text x="369.3" y="429.7" font-family="'Liberation Sans', sans-serif" font-size="8.2" fill="#8c8c8c" font-weight="normal" text-anchor="start" textLength="5.8" lengthAdjust="spacingAndGlyphs">0</text>
<text x="357.6" y="465.5" font-family="'Liberation Sans', sans-serif" font-size="8.2" fill="#8c8c8c" font-weight="normal" text-anchor="start" textLength="17.2" lengthAdjust="spacingAndGlyphs">&#8722;30</text>
<text x="357.4" y="501.3" font-family="'Liberation Sans', sans-serif" font-size="8.2" fill="#8c8c8c" font-weight="normal" text-anchor="start" textLength="17.2" lengthAdjust="spacingAndGlyphs">&#8722;60</text>
<text x="387.7" y="531.9" font-family="'Liberation Sans', sans-serif" font-size="8.2" fill="#8c8c8c" font-weight="normal" text-anchor="start" textLength="17.2" lengthAdjust="spacingAndGlyphs">&#8722;90</text>
<text x="423.5" y="531.9" font-family="'Liberation Sans', sans-serif" font-size="8.2" fill="#8c8c8c" font-weight="normal" text-anchor="start" textLength="17.2" lengthAdjust="spacingAndGlyphs">&#8722;60</text>
<text x="459.9" y="531.9" font-family="'Liberation Sans', sans-serif" font-size="8.2" fill="#8c8c8c" font-weight="normal" text-anchor="start" textLength="17.2" lengthAdjust="spacingAndGlyphs">&#8722;30</text>
<text x="501.1" y="531.9" font-family="'Liberation Sans', sans-serif" font-size="8.2" fill="#8c8c8c" font-weight="normal" text-anchor="start" textLength="5.8" lengthAdjust="spacingAndGlyphs">0</text>
<text x="535.1" y="531.9" font-family="'Liberation Sans', sans-serif" font-size="8.2" fill="#8c8c8c" font-weight="normal" text-anchor="start" textLength="11.5" lengthAdjust="spacingAndGlyphs">30</text>
<text x="571.2" y="531.9" font-family="'Liberation Sans', sans-serif" font-size="8.2" fill="#8c8c8c" font-weight="normal" text-anchor="start" textLength="11.5" lengthAdjust="spacingAndGlyphs">60</text>
<text x="607.8" y="531.9" font-family="'Liberation Sans', sans-serif" font-size="8.2" fill="#8c8c8c" font-weight="normal" text-anchor="start" textLength="11.5" lengthAdjust="spacingAndGlyphs">90</text>
<text x="641.3" y="531.9" font-family="'Liberation Sans', sans-serif" font-size="8.2" fill="#8c8c8c" font-weight="normal" text-anchor="start" textLength="17.2" lengthAdjust="spacingAndGlyphs">120</text>
<g stroke="#8c8c8c" stroke-width="0.8">
<line x1="40.1" y1="614.4" x2="42.6" y2="614.4"/>
<line x1="38.3" y1="632.5" x2="41.8" y2="632.5"/>
<line x1="38.4" y1="650.6" x2="40.9" y2="650.6"/>
<line x1="36.6" y1="668.8" x2="40.1" y2="668.8"/>
<line x1="36.7" y1="686.9" x2="39.2" y2="686.9"/>
<line x1="34.9" y1="705.1" x2="38.4" y2="705.1"/>
<line x1="35.0" y1="723.2" x2="37.5" y2="723.2"/>
<line x1="33.1" y1="741.4" x2="36.6" y2="741.4"/>
<line x1="33.3" y1="759.5" x2="35.8" y2="759.5"/>
<line x1="31.4" y1="777.7" x2="34.9" y2="777.7"/>
<line x1="31.6" y1="795.8" x2="34.1" y2="795.8"/>
<line x1="39.9" y1="801.8" x2="39.9" y2="804.3"/>
<line x1="57.0" y1="801.8" x2="57.0" y2="805.3"/>
<line x1="74.2" y1="801.8" x2="74.2" y2="804.3"/>
<line x1="91.3" y1="801.8" x2="91.3" y2="805.3"/>
<line x1="108.4" y1="801.9" x2="108.4" y2="804.4"/>
<line x1="125.6" y1="801.9" x2="125.6" y2="805.4"/>
<line x1="142.8" y1="801.9" x2="142.8" y2="804.4"/>
<line x1="159.9" y1="801.9" x2="159.9" y2="805.4"/>
<line x1="177.0" y1="801.9" x2="177.0" y2="804.4"/>
<line x1="194.2" y1="801.9" x2="194.2" y2="805.4"/>
<line x1="211.3" y1="801.9" x2="211.3" y2="804.4"/>
<line x1="228.5" y1="801.9" x2="228.5" y2="805.4"/>
<line x1="245.6" y1="802.0" x2="245.6" y2="804.5"/>
<line x1="262.8" y1="802.0" x2="262.8" y2="805.5"/>
<line x1="279.9" y1="802.0" x2="279.9" y2="804.5"/>
</g>
<text x="29.1" y="633.4" font-family="'Liberation Sans', sans-serif" font-size="8.2" fill="#8c8c8c" font-weight="normal" text-anchor="start" textLength="5.8" lengthAdjust="spacingAndGlyphs">0</text>
<text x="15.9" y="669.7" font-family="'Liberation Sans', sans-serif" font-size="8.2" fill="#8c8c8c" font-weight="normal" text-anchor="start" textLength="17.2" lengthAdjust="spacingAndGlyphs">&#8722;30</text>
<text x="14.2" y="705.4" font-family="'Liberation Sans', sans-serif" font-size="8.2" fill="#8c8c8c" font-weight="normal" text-anchor="start" textLength="17.2" lengthAdjust="spacingAndGlyphs">&#8722;60</text>
<text x="12.5" y="741.7" font-family="'Liberation Sans', sans-serif" font-size="8.2" fill="#8c8c8c" font-weight="normal" text-anchor="start" textLength="17.2" lengthAdjust="spacingAndGlyphs">&#8722;90</text>
<text x="5.1" y="777.4" font-family="'Liberation Sans', sans-serif" font-size="8.2" fill="#8c8c8c" font-weight="normal" text-anchor="start" textLength="23.0" lengthAdjust="spacingAndGlyphs">&#8722;120</text>
<text x="48.4" y="819.9" font-family="'Liberation Sans', sans-serif" font-size="8.2" fill="#8c8c8c" font-weight="normal" text-anchor="start" textLength="17.2" lengthAdjust="spacingAndGlyphs">&#8722;60</text>
<text x="82.7" y="819.9" font-family="'Liberation Sans', sans-serif" font-size="8.2" fill="#8c8c8c" font-weight="normal" text-anchor="start" textLength="17.2" lengthAdjust="spacingAndGlyphs">&#8722;30</text>
<text x="121.4" y="819.9" font-family="'Liberation Sans', sans-serif" font-size="8.2" fill="#8c8c8c" font-weight="normal" text-anchor="start" textLength="5.8" lengthAdjust="spacingAndGlyphs">0</text>
<text x="152.2" y="819.9" font-family="'Liberation Sans', sans-serif" font-size="8.2" fill="#8c8c8c" font-weight="normal" text-anchor="start" textLength="11.5" lengthAdjust="spacingAndGlyphs">30</text>
<text x="187.1" y="819.9" font-family="'Liberation Sans', sans-serif" font-size="8.2" fill="#8c8c8c" font-weight="normal" text-anchor="start" textLength="11.5" lengthAdjust="spacingAndGlyphs">60</text>
<text x="221.2" y="819.9" font-family="'Liberation Sans', sans-serif" font-size="8.2" fill="#8c8c8c" font-weight="normal" text-anchor="start" textLength="11.5" lengthAdjust="spacingAndGlyphs">90</text>
<text x="253.0" y="819.9" font-family="'Liberation Sans', sans-serif" font-size="8.2" fill="#8c8c8c" font-weight="normal" text-anchor="start" textLength="17.2" lengthAdjust="spacingAndGlyphs">120</text>
<text x="286.6" y="819.9" font-family="'Liberation Sans', sans-serif" font-size="8.2" fill="#8c8c8c" font-weight="normal" text-anchor="start" textLength="17.2" lengthAdjust="spacingAndGlyphs">150</text>
<g stroke="#8c8c8c" stroke-width="0.8">
<line x1="394.2" y1="617.3" x2="396.7" y2="617.3"/>
<line x1="392.4" y1="635.2" x2="395.9" y2="635.2"/>
<line x1="392.6" y1="653.1" x2="395.1" y2="653.1"/>
<line x1="390.7" y1="671.0" x2="394.2" y2="671.0"/>
<line x1="390.9" y1="688.9" x2="393.4" y2="688.9"/>
<line x1="389.0" y1="706.8" x2="392.5" y2="706.8"/>
<line x1="389.2" y1="724.7" x2="391.7" y2="724.7"/>
<line x1="387.3" y1="742.6" x2="390.8" y2="742.6"/>
<line x1="387.5" y1="760.5" x2="390.0" y2="760.5"/>
<line x1="385.6" y1="778.4" x2="389.1" y2="778.4"/>
<line x1="385.8" y1="796.3" x2="388.3" y2="796.3"/>
<line x1="404.1" y1="802.1" x2="404.1" y2="804.6"/>
<line x1="421.4" y1="802.1" x2="421.4" y2="805.6"/>
<line x1="438.6" y1="802.2" x2="438.6" y2="804.7"/>
<line x1="455.9" y1="802.3" x2="455.9" y2="805.8"/>
<line x1="473.1" y1="802.3" x2="473.1" y2="804.8"/>
<line x1="490.4" y1="802.4" x2="490.4" y2="805.9"/>
<line x1="507.6" y1="802.4" x2="507.6" y2="804.9"/>
<line x1="524.9" y1="802.5" x2="524.9" y2="806.0"/>
<line x1="542.1" y1="802.6" x2="542.1" y2="805.1"/>
<line x1="559.4" y1="802.6" x2="559.4" y2="806.1"/>
<line x1="576.6" y1="802.7" x2="576.6" y2="805.2"/>
<line x1="593.9" y1="802.8" x2="593.9" y2="806.3"/>
<line x1="611.1" y1="802.8" x2="611.1" y2="805.3"/>
<line x1="628.4" y1="802.9" x2="628.4" y2="806.4"/>
<line x1="645.6" y1="803.0" x2="645.6" y2="805.5"/>
</g>
<text x="380.7" y="636.1" font-family="'Liberation Sans', sans-serif" font-size="8.2" fill="#8c8c8c" font-weight="normal" text-anchor="start" textLength="5.8" lengthAdjust="spacingAndGlyphs">0</text>
<text x="367.6" y="671.9" font-family="'Liberation Sans', sans-serif" font-size="8.2" fill="#8c8c8c" font-weight="normal" text-anchor="start" textLength="17.2" lengthAdjust="spacingAndGlyphs">&#8722;30</text>
<text x="365.9" y="707.5" font-family="'Liberation Sans', sans-serif" font-size="8.2" fill="#8c8c8c" font-weight="normal" text-anchor="start" textLength="17.2" lengthAdjust="spacingAndGlyphs">&#8722;60</text>
<text x="364.2" y="743.2" font-family="'Liberation Sans', sans-serif" font-size="8.2" fill="#8c8c8c" font-weight="normal" text-anchor="start" textLength="17.2" lengthAdjust="spacingAndGlyphs">&#8722;90</text>
<text x="356.7" y="779.3" font-family="'Liberation Sans', sans-serif" font-size="8.2" fill="#8c8c8c" font-weight="normal" text-anchor="start" textLength="23.0" lengthAdjust="spacingAndGlyphs">&#8722;120</text>
<text x="412.8" y="821.6" font-family="'Liberation Sans', sans-serif" font-size="8.2" fill="#8c8c8c" font-weight="normal" text-anchor="start" textLength="17.2" lengthAdjust="spacingAndGlyphs">&#8722;60</text>
<text x="447.3" y="821.6" font-family="'Liberation Sans', sans-serif" font-size="8.2" fill="#8c8c8c" font-weight="normal" text-anchor="start" textLength="17.2" lengthAdjust="spacingAndGlyphs">&#8722;30</text>
<text x="486.6" y="821.6" font-family="'Liberation Sans', sans-serif" font-size="8.2" fill="#8c8c8c" font-weight="normal" text-anchor="start" textLength="5.8" lengthAdjust="spacingAndGlyphs">0</text>
<text x="518.0" y="821.6" font-family="'Liberation Sans', sans-serif" font-size="8.2" fill="#8c8c8c" font-weight="normal" text-anchor="start" textLength="11.5" lengthAdjust="spacingAndGlyphs">30</text>
<text x="551.5" y="821.6" font-family="'Liberation Sans', sans-serif" font-size="8.2" fill="#8c8c8c" font-weight="normal" text-anchor="start" textLength="11.5" lengthAdjust="spacingAndGlyphs">60</text>
<text x="585.2" y="821.6" font-family="'Liberation Sans', sans-serif" font-size="8.2" fill="#8c8c8c" font-weight="normal" text-anchor="start" textLength="11.5" lengthAdjust="spacingAndGlyphs">90</text>
<text x="616.7" y="821.6" font-family="'Liberation Sans', sans-serif" font-size="8.2" fill="#8c8c8c" font-weight="normal" text-anchor="start" textLength="17.2" lengthAdjust="spacingAndGlyphs">120</text>
<text x="650.5" y="821.6" font-family="'Liberation Sans', sans-serif" font-size="8.2" fill="#8c8c8c" font-weight="normal" text-anchor="start" textLength="17.2" lengthAdjust="spacingAndGlyphs">150</text>
</svg></body></html>
